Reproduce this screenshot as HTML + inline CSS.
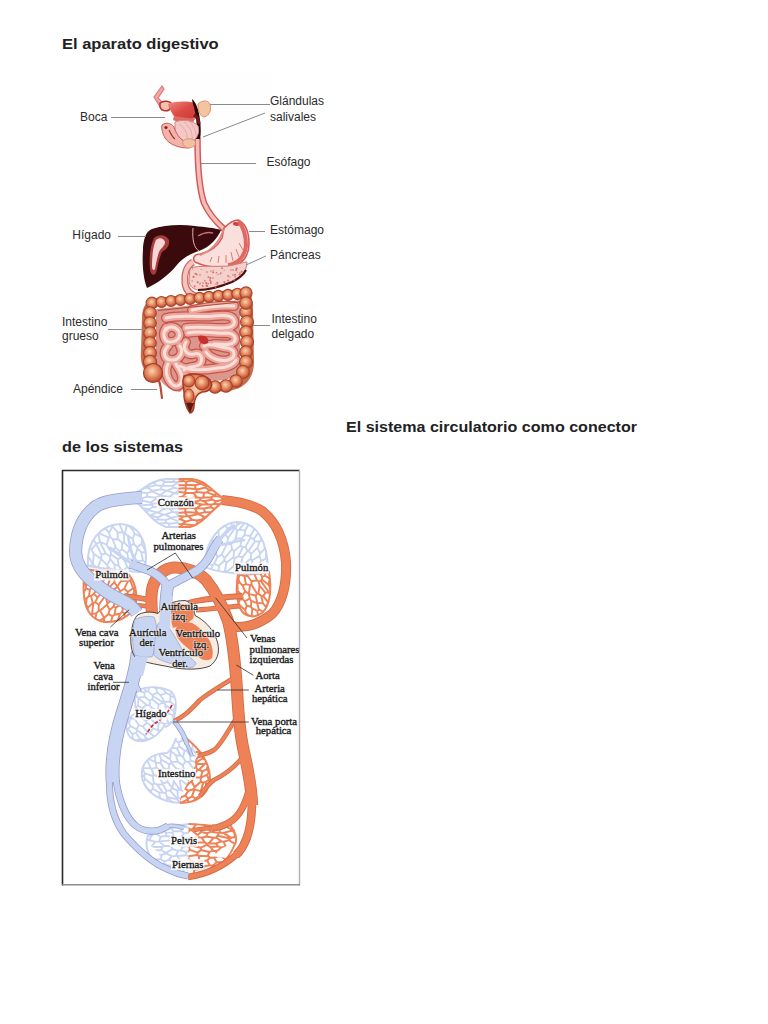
<!DOCTYPE html>
<html><head><meta charset="utf-8">
<style>
html,body{margin:0;padding:0;background:#fff;}
body{width:768px;height:1024px;position:relative;overflow:hidden;font-family:"Liberation Sans",sans-serif;}
.h{position:absolute;font-weight:bold;font-size:15.3px;color:#222;white-space:nowrap;transform-origin:0 0;line-height:17px;}
svg{position:absolute;left:0;top:0;}
.ls{font-family:"Liberation Sans",sans-serif;font-size:12px;fill:#2a2a2a;}
.lr{font-family:"Liberation Serif",serif;font-size:10.7px;fill:#1a1a1a;}
</style></head><body>
<div class="h" style="left:62px;top:35.2px;transform:scaleX(1.078)">El aparato digestivo</div>
<div class="h" style="left:346px;top:417.5px;transform:scaleX(1.05)">El sistema circulatorio como conector</div>
<div class="h" style="left:62px;top:437.6px;transform:scaleX(1.062)">de los sistemas</div>
<svg width="768" height="1024" viewBox="0 0 768 1024">
<g id="dig">
<rect x="110" y="73" width="163" height="348" fill="#fffefe"/>

<!-- esophagus -->
<path d="M197.5,139 C197.5,160 198,185 204,203 C209,214 216,222 224,229" fill="none" stroke="#d05a5a" stroke-width="6.5" stroke-linecap="round"/>
<path d="M197.5,139 C197.5,160 198,185 204,203 C209,214 216,222 224,229" fill="none" stroke="#f4bcb6" stroke-width="3.6"/>
<!-- mouth -->
<path d="M154,97 L162,86 L164,89 L158,98 L166,106 L162,110 Z" fill="#f0a8a8" stroke="#e07878" stroke-width="1.2"/>
<path d="M160,103 C164,100 170,101 172,104 L169,110 C165,112 161,110 160,107 Z" fill="#f2c0b0" stroke="#b83030" stroke-width="1.5"/>
<defs><linearGradient id="pal" x1="0" y1="0" x2="1" y2="1"><stop offset="0" stop-color="#f08a80"/><stop offset="0.5" stop-color="#dc4a44"/><stop offset="1" stop-color="#c83a38"/></linearGradient></defs><path d="M168,104 C176,101 186,101 195,103 L197,118 C190,120 180,119 174,116 C171,112 169,108 168,104 Z" fill="url(#pal)"/>
<path d="M174,116 C180,117 188,118 195,119 L192,124 C186,123 178,122 173,120 Z" fill="#e06a60"/>
<path d="M192,99 C196,102 199,110 200,120 C201,128 201,134 200,139 L196,139 C197,130 197,120 195,112 C194,106 192,102 192,99 Z" fill="#2a0606"/>
<path d="M198,104 C202,100 208,100 210,104 C212,110 209,116 204,117 C200,116 198,111 198,104 Z" fill="#f3c4a0" stroke="#d89070" stroke-width="1"/>
<path d="M175,122 C182,119 193,120 198,126 C200,133 197,140 190,142 C183,142 177,138 175,132 Z" fill="#f5c8c8" stroke="#d08888" stroke-width="1"/>
<g stroke="#e09a9a" stroke-width="0.7" fill="none"><path d="M179,124 C185,128 188,134 187,141"/><path d="M184,122 C190,127 193,133 192,140"/><path d="M189,121 C194,126 196,131 196,136"/></g>
<path d="M162,125 C166,122 171,123 174,127 C176,133 179,139 186,142 C191,144 193,147 188,148 C178,148 169,144 165,138 C163,134 161,129 162,125 Z" fill="#f2b4aa" stroke="#c85a50" stroke-width="1"/>
<circle cx="166" cy="127.5" r="1.6" fill="#8a2020"/><path d="M169,130 C171,134 172,137 175,139" stroke="#a83030" stroke-width="1.2" fill="none"/>
<path d="M183,141 C186,138 192,138 195,141 C197,145 193,148 188,148 C184,147 182,144 183,141 Z" fill="#f2c0a0" stroke="#d08a70" stroke-width="0.8"/>
<path d="M194,115 C197,117 199,120 199,124" stroke="#701818" stroke-width="3" fill="none"/>
<!-- liver -->
<path d="M152,229 C164,225 180,224 195,226 C205,227 215,228 221,230 C218,238 210,247 199,251 C190,254 182,258 176,266 C168,276 156,284 147,288 C143,278 142,262 143,250 C143,242 145,236 147,233 C148,231 150,230 152,229 Z" fill="#3a0a0c"/>
<path d="M193,228 C192,240 194,248 199,251" fill="none" stroke="#e8b0b0" stroke-width="1"/>
<path d="M150,270 C149,258 150,246 154,238 C158,234 166,234 169,240 C170,246 166,250 162,252 C159,258 158,266 156,273 C154,276 151,275 150,270 Z" fill="#a83a3a"/>
<path d="M152,266 C152,256 153,246 156,240 C159,237 164,238 165,242 C165,246 161,248 159,252 C157,258 156,264 155,269 C154,271 152,270 152,266 Z" fill="#f6d6d6"/>
<path d="M198,236 C203,233 209,232 213,233" fill="none" stroke="#c07070" stroke-width="1.3"/>
<!-- stomach -->
<path d="M224,228 C228,224 233,220 238,220 C245,223 249,232 249,244 C249,256 242,266 228,267 C215,268 203,266 195,262 C192,259 194,254 200,254 C210,252 218,246 222,238 C223,234 223,231 224,228 Z" fill="#f9e0dc" stroke="#d65858" stroke-width="1.6"/>
<path d="M238,221 C243,226 246,235 246,246 C245,256 238,264 228,265" fill="none" stroke="#e06a62" stroke-width="4"/>
<path d="M224,229 C220,240 214,250 200,255" fill="none" stroke="#e08a84" stroke-width="2"/>
<path d="M234,222 C238,222 240,224 238,226 C235,226 231,225 234,222 Z" fill="#d04040"/>
<g stroke="#e07a72" stroke-width="1"><path d="M210,262 L212,257"/><path d="M218,263 L219,256"/><path d="M226,263 L226,255"/><path d="M233,261 L231,252"/><path d="M239,257 L236,249"/><path d="M243,250 L239,243"/></g>
<!-- pancreas -->
<path d="M190,268 C200,265 215,267 228,266 C236,265 243,262 247,262 C247,272 240,278 232,282 C222,286 212,290 200,290 C193,290 189,286 189,280 Z" fill="#f3d0ca" stroke="#d07a76" stroke-width="1"/>
<path d="M198,290 C210,290 222,286 232,282 C240,278 244,274 246,270" fill="none" stroke="#4a1010" stroke-width="2.2"/>
<clipPath id="pancl"><path d="M190,268 C200,265 215,267 228,266 C236,265 243,262 247,262 C247,272 240,278 232,282 C222,286 212,290 200,290 C193,290 189,286 189,280 Z"/></clipPath><g fill="#d86a6a" clip-path="url(#pancl)"><circle cx="224.4" cy="282.1" r="1.0"/><circle cx="241.0" cy="282.1" r="1.1"/><circle cx="193.5" cy="276.8" r="1.1"/><circle cx="225.7" cy="285.1" r="0.6"/><circle cx="216.4" cy="272.7" r="0.8"/><circle cx="221.8" cy="268.2" r="0.6"/><circle cx="206.5" cy="285.4" r="1.0"/><circle cx="200.3" cy="283.1" r="0.6"/><circle cx="224.1" cy="270.4" r="0.5"/><circle cx="237.3" cy="272.0" r="0.6"/><circle cx="243.1" cy="284.6" r="0.7"/><circle cx="242.0" cy="278.2" r="0.9"/><circle cx="202.6" cy="285.9" r="0.9"/><circle cx="242.3" cy="285.0" r="0.7"/><circle cx="210.8" cy="271.2" r="0.6"/><circle cx="195.4" cy="273.7" r="0.9"/><circle cx="192.2" cy="280.9" r="0.7"/><circle cx="208.1" cy="283.6" r="0.8"/><circle cx="208.4" cy="277.1" r="0.9"/><circle cx="195.0" cy="286.5" r="0.5"/><circle cx="231.0" cy="284.1" r="0.5"/><circle cx="233.0" cy="275.0" r="0.8"/><circle cx="192.5" cy="268.9" r="0.6"/><circle cx="241.7" cy="271.7" r="1.0"/><circle cx="240.3" cy="285.9" r="0.7"/><circle cx="210.4" cy="278.0" r="1.0"/><circle cx="197.6" cy="282.2" r="1.0"/><circle cx="236.7" cy="268.7" r="1.1"/><circle cx="196.7" cy="274.5" r="0.9"/><circle cx="239.7" cy="274.5" r="1.1"/><circle cx="220.3" cy="273.9" r="0.7"/><circle cx="201.2" cy="269.5" r="0.6"/><circle cx="227.8" cy="286.9" r="0.6"/><circle cx="194.5" cy="286.7" r="0.8"/><circle cx="213.1" cy="272.5" r="0.9"/><circle cx="235.0" cy="276.7" r="0.8"/><circle cx="194.9" cy="285.4" r="0.5"/><circle cx="217.7" cy="283.9" r="0.6"/><circle cx="230.0" cy="286.0" r="0.9"/><circle cx="233.0" cy="270.0" r="0.8"/><circle cx="199.8" cy="284.0" r="0.7"/><circle cx="215.6" cy="287.0" r="1.0"/><circle cx="242.8" cy="276.6" r="0.8"/><circle cx="229.9" cy="277.1" r="0.7"/><circle cx="213.0" cy="270.8" r="0.7"/><circle cx="243.4" cy="286.2" r="0.9"/><circle cx="218.0" cy="274.4" r="0.6"/><circle cx="206.2" cy="282.9" r="1.0"/><circle cx="210.8" cy="282.9" r="1.0"/><circle cx="228.1" cy="280.6" r="1.0"/><circle cx="210.9" cy="281.4" r="0.7"/><circle cx="217.3" cy="282.6" r="0.9"/><circle cx="207.3" cy="286.0" r="0.9"/><circle cx="222.2" cy="268.2" r="0.8"/><circle cx="205.0" cy="280.8" r="0.8"/><circle cx="234.5" cy="280.3" r="1.0"/><circle cx="210.1" cy="280.2" r="0.9"/><circle cx="235.1" cy="274.7" r="1.0"/><circle cx="237.2" cy="281.1" r="1.1"/><circle cx="241.7" cy="277.8" r="0.8"/><circle cx="200" cy="275" r="0.8"/><circle cx="207" cy="272" r="0.8"/><circle cx="213" cy="278" r="0.8"/><circle cx="221" cy="273" r="0.8"/><circle cx="228" cy="276" r="0.9"/><circle cx="236" cy="270" r="0.9"/><circle cx="203" cy="283" r="0.8"/><circle cx="216" cy="284" r="0.8"/><circle cx="240" cy="273" r="0.8"/><circle cx="231" cy="270" r="0.7"/></g>
<!-- duodenum -->
<path d="M193,262 C186,266 184,275 185,283 C186,292 193,297 204,298 C212,298 216,296 218,292" fill="none" stroke="#c86060" stroke-width="7"/>
<path d="M193,262 C186,266 184,275 185,283 C186,292 193,297 204,298 C212,298 216,296 218,292" fill="none" stroke="#f4c4bc" stroke-width="4.5"/>
<!-- small intestine -->
<path d="M156,309 L240,300 L240,374 C226,382 212,382 200,378 C190,376 186,388 180,392 C166,390 158,380 156,370 Z" fill="#dc968c"/>
<g fill="none" stroke-linecap="round" stroke-linejoin="round">
<g stroke="#c4564c" stroke-width="10"><path d="M192,310 C206,307 220,305 234,306"/><path d="M166,318 C180,314 200,318 214,316 C224,315 232,315 234,320 C236,326 230,328 222,328 C208,328 196,326 186,328"/><path d="M188,333 C200,330 214,334 226,333 C234,333 237,338 234,342 C230,346 222,344 214,344"/><path d="M166,328 C162,334 164,342 170,342 C178,342 182,336 178,330 C174,326 168,326 166,330"/><path d="M168,346 C162,352 164,360 172,360 C180,360 184,352 180,346"/><path d="M186,342 C182,348 186,356 194,354 C200,352 204,358 200,364 C196,368 188,366 184,370"/><path d="M204,346 C210,342 220,348 228,348 C236,350 236,358 228,360 C220,362 210,358 206,352"/><path d="M180,366 C190,372 206,370 218,368 C228,368 234,364 236,360"/><path d="M168,364 C164,372 168,380 172,384 C176,388 182,386 182,378 C182,372 178,368 176,364"/><path d="M186,376 C184,382 188,388 192,384"/></g>
<g stroke="#eca69c" stroke-width="7.4"><path d="M192,310 C206,307 220,305 234,306"/><path d="M166,318 C180,314 200,318 214,316 C224,315 232,315 234,320 C236,326 230,328 222,328 C208,328 196,326 186,328"/><path d="M188,333 C200,330 214,334 226,333 C234,333 237,338 234,342 C230,346 222,344 214,344"/><path d="M166,328 C162,334 164,342 170,342 C178,342 182,336 178,330 C174,326 168,326 166,330"/><path d="M168,346 C162,352 164,360 172,360 C180,360 184,352 180,346"/><path d="M186,342 C182,348 186,356 194,354 C200,352 204,358 200,364 C196,368 188,366 184,370"/><path d="M204,346 C210,342 220,348 228,348 C236,350 236,358 228,360 C220,362 210,358 206,352"/><path d="M180,366 C190,372 206,370 218,368 C228,368 234,364 236,360"/><path d="M168,364 C164,372 168,380 172,384 C176,388 182,386 182,378 C182,372 178,368 176,364"/><path d="M186,376 C184,382 188,388 192,384"/></g>
<g stroke="#fbe2dc" stroke-width="3" opacity="0.95"><path d="M192,310 C206,307 220,305 234,306"/><path d="M166,318 C180,314 200,318 214,316 C224,315 232,315 234,320 C236,326 230,328 222,328 C208,328 196,326 186,328"/><path d="M188,333 C200,330 214,334 226,333 C234,333 237,338 234,342 C230,346 222,344 214,344"/><path d="M166,328 C162,334 164,342 170,342 C178,342 182,336 178,330 C174,326 168,326 166,330"/><path d="M168,346 C162,352 164,360 172,360 C180,360 184,352 180,346"/><path d="M186,342 C182,348 186,356 194,354 C200,352 204,358 200,364 C196,368 188,366 184,370"/><path d="M204,346 C210,342 220,348 228,348 C236,350 236,358 228,360 C220,362 210,358 206,352"/><path d="M180,366 C190,372 206,370 218,368 C228,368 234,364 236,360"/><path d="M168,364 C164,372 168,380 172,384 C176,388 182,386 182,378 C182,372 178,368 176,364"/><path d="M186,376 C184,382 188,388 192,384"/></g>
</g>
<path d="M198,336 C204,334 210,338 208,343 C204,346 198,343 198,336 Z" fill="#c83030"/>
<!-- large intestine -->
<defs><radialGradient id="bead" cx="45%" cy="40%" r="62%"><stop offset="0" stop-color="#f8d4b4"/><stop offset="0.45" stop-color="#e89064"/><stop offset="1" stop-color="#b44430"/></radialGradient></defs>
<path d="M152,372 C146,368 144,360 145,350 L146,318 C146,307 150,303 158,302 L240,293 C247,293 249,298 249,310 L250,362 C250,373 245,381 236,385 C225,389 214,388 204,384" fill="none" stroke="#c86a4c" stroke-width="8" stroke-linejoin="round"/>
<g fill="url(#bead)" stroke="#a8442c" stroke-width="1.1">
<circle cx="152.0" cy="303.0" r="5.9"/><circle cx="161.5" cy="302.0" r="5.5"/><circle cx="171.0" cy="301.0" r="5.5"/><circle cx="180.5" cy="300.0" r="5.5"/><circle cx="190.0" cy="299.0" r="5.5"/><circle cx="199.5" cy="297.9" r="5.5"/><circle cx="209.0" cy="296.9" r="5.5"/><circle cx="218.5" cy="295.9" r="5.5"/><circle cx="228.0" cy="294.9" r="5.5"/><circle cx="237.5" cy="293.9" r="5.7"/><circle cx="246.0" cy="293.0" r="6.1"/><circle cx="150.0" cy="313.0" r="6.3"/><circle cx="150.0" cy="323.0" r="6.3"/><circle cx="150.0" cy="333.0" r="6.3"/><circle cx="150.0" cy="343.0" r="6.3"/><circle cx="150.0" cy="353.0" r="6.5"/><circle cx="150.0" cy="362.0" r="6.7"/><circle cx="246.0" cy="312.0" r="6.3"/><circle cx="247.0" cy="322.0" r="6.5"/><circle cx="246.0" cy="332.0" r="6.3"/><circle cx="247.0" cy="342.0" r="6.5"/><circle cx="246.0" cy="352.0" r="6.3"/><circle cx="246.0" cy="362.0" r="6.5"/><circle cx="243.0" cy="372.0" r="6.5"/><circle cx="236.0" cy="381.0" r="6.3"/><circle cx="226.0" cy="386.0" r="6.3"/><circle cx="215.0" cy="387.0" r="6.3"/>
<circle cx="246" cy="303" r="6.3"/></g>
<path d="M158,310.5 L240,302" stroke="#b04a30" stroke-width="1.2" fill="none"/>
<circle cx="153" cy="373" r="9.5" fill="url(#bead)" stroke="#a83a24" stroke-width="1.2"/>
<path d="M159,381 C161,386 161,392 162,398" fill="none" stroke="#b84a38" stroke-width="2.2" stroke-linecap="round"/>
<!-- rectum -->
<path d="M184,376 C192,372 204,374 210,380 C214,386 210,392 202,392 C196,394 194,400 194,406 C194,410 192,413 190,413 C186,408 184,400 184,392 C183,386 182,380 184,376 Z" fill="url(#bead)" stroke="#a83a24" stroke-width="1.5"/>
<circle cx="202" cy="383" r="7" fill="url(#bead)" stroke="#a83a24" stroke-width="1"/>
<circle cx="189" cy="381" r="6" fill="url(#bead)" stroke="#a83a24" stroke-width="1"/>
<ellipse cx="189" cy="396" rx="5" ry="7" fill="url(#bead)" stroke="#a83a24" stroke-width="1"/>
<path d="M186,403 L190,413 L194,403 Z" fill="#5a1a10"/>
<g stroke="#8a8a8a" stroke-width="1" fill="none">
<line x1="111" y1="117.5" x2="165" y2="117.5"/>
<line x1="210" y1="104.5" x2="270" y2="104.5"/>
<line x1="203" y1="137" x2="265" y2="113"/>
<line x1="201" y1="163.5" x2="256" y2="163.5"/>
<line x1="118" y1="236.5" x2="146" y2="236.5"/>
<line x1="249" y1="231.5" x2="265" y2="231.5"/>
<line x1="246" y1="265" x2="266" y2="256"/>
<line x1="108" y1="329.5" x2="146" y2="329.5"/>
<line x1="253" y1="325.5" x2="270" y2="325.5"/>
<line x1="131" y1="389.5" x2="157" y2="389.5"/>
</g>
<g class="ls">
<text x="80" y="120.5">Boca</text>
<text x="270" y="105">Glándulas</text>
<text x="270" y="120.5">salivales</text>
<text x="266.5" y="166">Esófago</text>
<text x="72.3" y="239.2">Hígado</text>
<text x="270" y="233.7">Estómago</text>
<text x="270" y="258.9">Páncreas</text>
<text x="62" y="325.7">Intestino</text>
<text x="62" y="340.3">grueso</text>
<text x="271.5" y="323">Intestino</text>
<text x="271.5" y="337.6">delgado</text>
<text x="73" y="393.4">Apéndice</text>
</g>
</g>

<g id="circ">
<rect x="62.5" y="470.5" width="237" height="414" fill="#fff"/>
<clipPath id="c1"><path d="M86,569 C96,572 110,571 122,570 C132,574 138,588 136,604 C132,616 118,623 104,622 C92,620 85,610 84,596 C83,584 84,575 86,569 Z"/></clipPath>
<g clip-path="url(#c1)" stroke="#ee8156"><path d="M136.3 623.6L135.3 623.6M136.3 623.6L136.0 632.3M135.3 623.6L131.3 627.4M128.5 633.7L131.3 627.4M162.0 628.8L140.6 620.6M140.6 620.6L136.3 623.6M140.6 620.6L141.6 615.1M135.3 623.6L133.3 616.9M133.3 616.9L137.9 613.1M137.9 613.1L141.6 615.1M154.9 616.1L144.2 611.3M141.6 615.1L144.2 611.3M127.4 624.8L131.3 627.4M127.4 624.8L122.9 627.6M122.9 627.6L121.6 633.9M95.2 602.3L97.5 597.3M95.2 602.3L93.4 603.2M93.4 603.2L92.8 603.3M91.0 595.9L92.8 603.3M91.0 595.9L93.7 593.9M93.7 593.9L97.5 597.3M93.7 584.8L95.7 584.7M93.7 584.8L89.8 589.9M91.0 595.9L89.0 596.0M93.7 593.9L96.3 590.3M95.7 584.7L96.3 590.3M89.8 589.9L89.0 596.0M85.9 604.6L88.1 607.4M85.9 604.6L86.7 598.2M92.8 603.3L88.1 607.4M86.7 598.2L89.0 596.0M102.8 569.0L99.2 572.6M102.8 569.0L107.6 570.4M99.2 572.6L100.6 580.0M107.6 570.4L106.6 577.4M100.6 580.0L103.5 580.3M106.6 577.4L103.5 580.3M120.3 591.2L117.9 596.9M120.3 591.2L117.4 586.5M111.2 592.4L117.4 586.5M111.2 592.4L113.3 598.9M117.9 596.9L115.7 598.7M117.4 586.5L117.4 586.5M113.3 598.9L115.7 598.7M121.8 600.9L117.9 596.9M121.8 600.9L126.4 596.5M124.3 588.7L120.3 591.2M124.3 588.7L127.9 591.9M126.4 596.5L127.9 591.9M121.1 604.5L115.7 607.6M121.1 604.5L121.8 600.9M115.7 607.6L113.5 606.5M113.5 606.5L115.7 598.7M113.5 606.5L109.7 610.0M109.7 610.0L106.9 604.6M107.4 603.6L106.9 604.6M107.4 603.6L113.3 598.9M109.7 610.0L108.2 614.2M100.0 610.8L106.9 604.6M100.0 610.8L104.2 617.7M104.2 617.7L104.3 617.7M108.2 614.2L104.3 617.7M125.1 618.6L124.3 613.3M125.1 618.6L131.6 616.9M124.3 613.3L129.8 610.6M129.8 610.6L132.2 613.5M132.2 613.5L132.0 616.5M131.6 616.9L132.0 616.5M127.4 624.8L131.6 616.9M121.8 625.4L122.9 627.6M121.8 625.4L125.1 618.6M133.3 616.9L132.0 616.5M136.2 607.1L132.2 613.5M136.2 607.1L139.1 609.7M139.1 609.7L137.9 613.1M124.3 588.7L128.2 580.8M128.2 580.8L130.3 580.5M127.9 591.9L133.1 588.2M130.3 580.5L133.1 588.2M128.2 580.8L128.1 580.6M117.4 586.5L120.8 581.3M128.1 580.6L120.8 581.3M120.8 573.1L114.7 578.3M120.8 573.1L122.1 574.2M114.3 582.4L114.7 578.3M114.3 582.4L117.4 586.5M122.1 574.2L120.8 581.3M110.0 577.7L111.4 576.9M110.0 577.7L106.6 577.4M111.4 576.9L114.7 569.6M107.6 570.4L111.9 565.4M114.7 569.6L111.9 565.4M132.9 602.6L129.1 602.8M132.9 602.6L135.3 601.0M135.3 601.0L135.9 595.9M129.1 602.8L128.8 598.6M128.8 598.6L134.0 592.9M134.0 592.9L135.9 595.9M122.8 609.1L122.1 611.8M122.8 609.1L129.1 602.8M122.1 611.8L124.3 613.3M129.8 610.6L132.9 602.6M136.2 607.1L137.0 601.6M137.0 601.6L135.3 601.0M121.1 604.5L122.8 609.1M126.4 596.5L128.8 598.6M133.1 588.2L134.1 588.0M134.1 588.0L134.0 592.9M97.4 630.4L104.0 620.2M106.1 624.5L104.0 620.2M106.1 624.5L102.3 632.6M98.0 557.7L94.1 561.2M94.1 561.2L91.3 558.8M102.8 569.0L103.8 566.0M99.2 572.6L97.5 572.8M97.5 572.8L97.4 566.2M97.4 566.2L102.2 559.2M102.2 559.2L103.8 566.0M97.4 566.2L92.9 565.6M92.9 565.6L94.1 561.2M111.9 565.4L112.5 563.4M112.5 563.4L108.0 562.2M103.8 566.0L108.0 562.2M95.2 602.3L98.8 604.8M93.4 603.2L92.0 614.1M98.8 604.8L98.7 610.9M98.7 610.9L96.5 613.1M92.0 614.1L96.5 613.1M77.9 601.8L77.2 602.0M77.9 601.8L79.0 610.1M77.2 602.0L72.6 610.1M79.0 610.1L78.1 613.4M78.1 613.4L73.5 616.5M85.9 604.6L79.0 610.1M80.6 599.0L86.7 598.2M80.6 599.0L77.9 601.8M101.4 593.1L101.8 589.1M101.4 593.1L104.8 596.4M102.0 588.8L101.8 589.1M102.0 588.8L107.9 586.1M107.9 586.1L109.3 587.3M109.3 587.3L108.8 592.9M108.8 592.9L105.7 596.2M105.7 596.2L104.8 596.4M97.5 597.3L101.4 593.1M96.3 590.3L101.8 589.1M98.8 604.8L104.8 596.4M95.7 584.7L100.6 580.0M103.5 580.3L102.0 588.8M110.0 577.7L107.9 586.1M111.4 576.9L114.7 578.3M114.3 582.4L109.3 587.3M111.2 592.4L108.8 592.9M107.4 603.6L105.7 596.2M98.7 610.9L100.0 610.8M74.8 601.3L77.2 602.0M80.6 599.0L81.4 595.9M89.8 589.9L86.1 588.5M86.1 588.5L81.4 595.9M74.7 597.1L79.6 589.4M79.6 589.4L79.9 587.1M79.9 587.1L75.2 586.5M81.4 595.9L79.6 589.4M91.3 574.9L94.0 575.6M91.3 574.9L84.5 582.5M94.0 575.6L92.7 581.1M92.7 581.1L85.9 585.4M85.9 585.4L84.1 583.6M84.5 582.5L84.1 583.6M97.5 572.8L94.0 575.6M92.9 565.6L89.7 569.8M89.7 569.8L91.3 574.9M85.9 570.5L89.7 569.8M85.9 570.5L83.3 576.8M83.3 576.8L84.5 582.5M93.7 584.8L92.7 581.1M86.1 588.5L85.9 585.4M79.9 587.1L84.1 583.6M83.3 576.8L77.5 580.1M77.5 580.1L75.2 586.5M77.5 580.1L76.8 576.5M79.7 562.6L80.5 556.4M79.7 562.6L75.3 566.4M89.8 559.4L85.2 569.5M87.7 558.0L81.6 565.8M85.2 569.5L81.6 568.8M81.6 568.8L81.6 565.8M85.9 570.5L85.2 569.5M76.8 573.9L81.6 568.8M79.7 562.6L81.6 565.8M121.8 625.4L118.3 625.4M118.3 625.4L113.8 631.6M137.1 571.6L139.5 569.7M137.1 571.6L134.5 577.2M134.5 577.2L138.5 581.7M141.6 570.4L142.0 577.7M141.6 570.4L139.5 569.7M142.0 577.7L138.5 581.7M130.3 580.5L134.5 577.2M137.2 584.9L134.1 588.0M137.2 584.9L138.5 581.7M147.6 565.9L141.6 570.4M144.7 577.3L150.0 570.6M144.7 577.3L142.0 577.7M141.0 561.8L139.2 560.9M141.0 561.8L139.5 569.7M139.2 560.9L135.0 564.4M137.1 571.6L135.0 570.8M135.0 570.8L135.0 564.4M128.1 580.6L128.7 572.9M135.0 570.8L128.7 572.9M122.1 574.2L128.3 572.0M128.3 572.0L128.7 572.9M141.0 561.8L144.8 558.9M148.1 564.2L144.8 558.9M108.0 562.2L108.5 557.3M81.6 617.1L85.7 614.6M81.6 617.1L79.7 621.8M79.7 621.8L82.8 625.3M82.8 625.3L87.8 622.0M85.7 614.6L88.9 616.0M88.9 616.0L87.8 622.0M88.1 607.4L85.7 614.6M78.1 613.4L81.6 617.1M76.4 626.0L79.7 621.8M92.0 614.1L88.9 616.0M85.1 630.3L82.2 629.1M82.2 629.1L79.0 631.5M75.7 628.2L79.0 631.5M82.8 625.3L82.2 629.1M87.6 628.4L90.0 629.5M87.6 628.4L88.3 623.8M88.3 623.8L95.0 620.0M90.0 629.5L94.4 626.6M94.4 626.6L95.5 623.3M95.5 623.3L95.0 620.0M88.7 635.8L90.0 629.5M85.1 630.3L87.6 628.4M87.8 622.0L88.3 623.8M96.5 613.1L95.0 620.0M97.4 630.4L94.4 626.6M104.2 617.7L95.5 623.3M104.0 620.2L104.3 617.7M110.7 622.9L112.5 616.2M110.7 622.9L111.5 624.1M111.5 624.1L117.1 622.1M114.5 614.7L120.2 613.7M114.5 614.7L112.5 616.2M120.2 613.7L117.1 622.1M106.1 624.5L110.7 622.9M108.2 614.2L112.5 616.2M109.6 630.6L111.5 624.1M118.3 625.4L117.1 622.1M115.7 607.6L114.5 614.7M122.1 611.8L120.2 613.7M143.3 601.5L147.5 597.6M143.3 601.5L142.9 606.1M142.9 606.1L145.0 608.4M145.0 608.4L151.1 603.7M139.1 609.7L142.9 606.1M137.0 601.6L139.2 600.6M139.2 600.6L143.3 601.5M144.2 611.3L145.0 608.4M135.9 595.9L140.7 590.3M139.2 600.6L142.9 593.3M142.9 593.3L140.7 590.3M137.2 584.9L141.3 587.8M141.3 587.8L140.7 590.3M114.7 569.6L119.7 567.0M112.5 563.4L115.9 558.4M115.9 558.4L119.4 562.4M119.4 562.4L119.7 567.0M120.8 573.1L121.2 567.8M121.2 567.8L119.7 567.0M142.9 593.3L146.8 591.0M141.3 587.8L146.3 583.7M144.7 577.3L146.8 582.7M125.3 563.4L126.5 560.5M125.3 563.4L130.2 566.8M132.7 560.0L131.7 565.0M130.2 566.8L131.7 565.0M125.0 556.4L119.4 562.4M121.2 567.8L125.3 563.4M128.3 572.0L130.2 566.8M135.0 564.4L131.7 565.0" fill="none" stroke-width="1.9" stroke-linecap="round"/></g>
<path d="M86,569 C96,572 110,571 122,570 C132,574 138,588 136,604 C132,616 118,623 104,622 C92,620 85,610 84,596 C83,584 84,575 86,569 Z" fill="none" stroke="#ee8156" stroke-width="2.0"/>
<clipPath id="c2"><path d="M88,566 C86,542 100,525 120,524 C138,524 146,540 146,558 C146,566 144,570 140,572 C128,571 112,570 88,566 Z"/></clipPath>
<g clip-path="url(#c2)" stroke="#c8d5f2"><path d="M92.2 584.8L89.8 577.0M89.8 577.0L83.5 574.6M74.0 587.4L83.5 574.6M96.8 578.3L90.6 574.2M96.8 578.3L98.2 571.8M90.6 574.2L88.1 566.4M88.1 566.4L92.9 564.4M98.2 571.8L97.7 568.5M92.9 564.4L93.0 564.5M93.0 564.5L97.4 568.2M97.7 568.5L97.4 568.2M84.0 563.6L88.1 566.4M84.0 563.6L81.9 564.7M81.9 564.7L83.5 574.6M89.8 577.0L90.6 574.2M106.0 573.0L108.5 578.2M106.0 573.0L97.7 568.5M98.2 571.8L104.5 581.7M108.5 578.2L104.5 581.7M106.0 573.0L107.7 566.5M107.7 566.5L107.1 565.1M97.4 568.2L101.3 559.2M107.1 565.1L101.3 559.2M119.3 551.2L121.4 557.6M119.3 551.2L122.0 549.3M127.1 553.2L122.0 549.3M127.1 553.2L128.3 558.0M128.3 558.0L124.9 561.1M121.4 557.6L124.9 561.1M127.1 553.2L129.5 549.7M128.3 558.0L134.1 561.4M134.1 561.4L136.0 559.8M136.0 559.8L134.8 556.8M134.8 556.8L129.5 549.7M81.9 564.7L77.9 563.4M96.8 578.3L101.0 587.2M117.4 532.2L117.8 539.1M117.4 532.2L123.0 532.6M123.0 532.6L123.8 533.4M123.8 533.4L124.2 542.7M117.8 539.1L122.2 542.8M122.2 542.8L124.2 542.7M111.8 523.1L112.6 526.5M111.8 523.1L112.8 521.8M112.8 521.8L119.1 523.1M112.6 526.5L117.4 532.2M119.1 523.1L123.0 532.6M122.0 549.3L122.2 542.8M129.5 549.7L128.9 547.1M128.9 547.1L124.2 542.7M111.8 523.1L103.2 517.1M103.2 517.1L102.5 511.9M112.8 521.8L110.2 511.0M119.1 523.1L120.5 519.9M120.5 519.9L120.2 518.7M112.8 510.7L120.2 518.7M120.5 519.9L126.9 525.3M123.8 533.4L124.8 533.6M126.9 525.3L124.8 533.6M84.0 563.6L80.8 554.1M92.9 564.4L86.3 553.1M86.3 553.1L80.9 552.8M80.8 554.1L80.9 552.8M80.8 554.1L74.9 553.5M93.4 517.1L94.6 512.7M93.4 517.1L89.6 514.0M91.5 524.2L85.8 518.0M91.5 524.2L94.6 521.5M94.6 521.5L93.4 517.1M85.8 518.0L84.8 513.4M103.2 517.1L102.2 518.1M102.2 518.1L94.6 512.7M107.7 566.5L114.1 571.9M108.5 578.2L112.3 581.6M115.7 581.1L114.1 571.9M114.1 571.9L114.3 571.8M107.1 565.1L110.3 559.1M110.3 559.1L114.7 564.6M114.7 564.6L114.3 571.8M93.0 564.5L93.8 553.8M101.3 559.2L101.2 559.1M93.8 553.8L101.2 559.1M128.6 568.0L127.3 566.9M128.6 568.0L133.8 577.7M127.3 566.9L122.4 571.4M133.8 577.7L128.7 578.2M128.7 578.2L122.7 574.5M122.4 571.4L122.6 574.1M122.7 574.5L122.6 574.1M124.9 561.1L127.3 566.9M134.3 566.9L134.1 561.4M134.3 566.9L128.6 568.0M117.8 559.1L118.7 565.9M117.8 559.1L121.4 557.6M118.7 565.9L122.4 571.4M130.7 585.8L128.7 578.2M134.4 578.2L136.4 585.7M134.4 578.2L133.8 577.7M123.7 583.2L122.7 574.5M114.7 564.6L118.7 565.9M114.3 571.8L122.6 574.1M146.5 582.6L144.6 573.1M146.0 583.3L137.9 577.4M144.6 573.1L142.0 570.6M142.0 570.6L137.4 571.0M137.9 577.4L137.4 571.0M147.5 571.2L155.4 577.7M147.5 571.2L144.6 573.1M134.4 578.2L137.9 577.4M134.3 566.9L137.4 571.0M136.0 559.8L138.1 561.2M138.1 561.2L142.0 570.6M143.0 560.4L141.3 552.4M143.0 560.4L146.3 563.7M146.3 563.7L150.7 563.4M141.3 552.4L146.1 552.0M150.7 563.4L150.7 561.0M150.7 561.0L146.4 552.1M146.1 552.0L146.4 552.1M138.1 561.2L143.0 560.4M134.8 556.8L137.6 548.4M137.6 548.4L141.3 552.4M147.5 571.2L146.3 563.7M157.3 571.6L150.7 563.4M149.5 549.2L146.4 552.1M149.5 549.2L155.4 554.4M156.4 557.4L150.7 561.0M121.7 514.9L128.0 516.3M128.0 516.3L129.7 514.6M120.2 518.7L121.7 514.9M128.7 525.8L126.9 525.3M128.7 525.8L128.0 516.3M135.6 520.4L133.0 530.4M135.6 520.4L129.7 514.6M133.0 530.4L128.7 525.8M140.1 518.6L138.1 512.2M140.1 518.6L136.8 520.8M136.8 520.8L135.6 520.4M142.1 519.6L145.0 520.2M142.1 519.6L145.8 531.1M145.0 520.2L150.9 529.2M150.9 529.2L147.8 533.3M145.8 531.1L147.8 533.3M140.1 518.6L142.1 519.6M136.8 520.8L140.2 527.6M140.2 527.6L145.8 531.1M155.5 543.0L148.7 539.0M152.1 529.5L150.9 529.2M152.1 529.5L156.9 534.5M148.7 539.0L147.8 533.3M132.6 538.8L134.6 533.9M132.6 538.8L133.9 543.6M137.0 547.3L133.9 543.6M137.0 547.3L141.7 543.8M134.6 533.9L139.8 536.1M141.7 543.8L141.9 538.2M141.9 538.2L139.8 536.1M133.0 530.4L134.6 533.9M124.8 533.6L132.6 538.8M128.9 547.1L133.9 543.6M137.6 548.4L137.0 547.3M146.1 552.0L141.7 543.8M140.2 527.6L139.8 536.1M146.9 540.7L141.9 538.2M146.9 540.7L149.5 549.2M146.9 540.7L148.7 539.0M78.3 547.0L81.1 544.3M81.1 544.3L77.3 535.2M80.9 552.8L78.3 547.0M85.8 518.0L82.0 520.7M82.0 520.7L76.7 515.5M119.3 551.2L115.8 547.6M117.8 539.1L112.7 539.3M115.8 547.6L112.7 539.3M109.1 532.9L110.2 536.8M109.1 532.9L102.0 524.3M100.0 533.6L108.8 537.6M100.0 533.6L100.7 524.7M110.2 536.8L108.8 537.6M100.7 524.7L102.0 524.3M112.6 526.5L109.1 532.9M112.7 539.3L110.2 536.8M102.2 518.1L102.0 524.3M94.6 521.5L100.7 524.7M91.5 524.2L92.4 527.9M100.0 533.6L98.6 534.6M92.4 527.9L98.6 534.6M145.0 520.2L147.0 516.1M147.0 516.1L140.7 505.8M153.7 523.0L149.6 516.5M149.6 516.5L150.6 514.6M152.1 529.5L153.7 523.0M147.0 516.1L149.6 516.5M93.8 553.8L91.3 549.3M101.2 559.1L101.4 554.6M101.4 554.6L96.3 544.2M91.3 549.3L96.3 544.2M86.3 553.1L88.4 547.5M91.3 549.3L88.4 547.5M81.1 544.3L86.8 545.2M88.4 547.5L86.8 545.2M105.7 553.5L99.9 542.0M105.7 553.5L109.9 556.2M111.1 554.5L109.9 556.2M111.1 554.5L110.5 550.9M110.5 550.9L106.6 544.7M106.6 544.7L99.9 541.9M99.9 541.9L99.9 542.0M101.4 554.6L105.7 553.5M96.3 544.2L96.3 543.7M96.3 543.7L99.9 542.0M110.3 559.1L109.9 556.2M117.8 559.1L111.1 554.5M115.8 547.6L110.5 550.9M108.8 537.6L106.6 544.7M98.6 534.6L99.9 541.9M82.3 534.4L82.0 529.8M82.3 534.4L84.6 538.1M84.6 538.1L92.5 539.1M83.2 528.5L82.0 529.8M83.2 528.5L89.3 531.0M89.3 531.0L92.5 539.1M77.3 535.2L82.3 534.4M75.4 523.8L82.0 529.8M86.8 545.2L84.6 538.1M96.3 543.7L92.5 539.1M82.0 520.7L83.2 528.5M92.4 527.9L89.3 531.0" fill="none" stroke-width="1.9" stroke-linecap="round"/></g>
<path d="M88,566 C86,542 100,525 120,524 C138,524 146,540 146,558 C146,566 144,570 140,572 C128,571 112,570 88,566 Z" fill="none" stroke="#c8d5f2" stroke-width="2.0"/>
<clipPath id="c3"><path d="M238,574 C248,575 258,574 269,572 C272,590 270,606 262,613 C254,619 244,617 240,608 C236,598 236,586 238,574 Z"/></clipPath>
<g clip-path="url(#c3)" stroke="#ee8156"><path d="M268.0 602.2L266.6 607.5M268.0 602.2L263.3 596.1M263.3 596.1L261.2 595.8M261.2 595.8L262.9 603.3M262.9 603.3L266.6 607.5M258.4 593.7L261.2 595.8M258.4 593.7L259.6 585.5M265.4 592.8L259.6 585.5M265.4 592.8L263.3 596.1M257.3 602.9L262.9 603.3M257.3 602.9L255.7 595.7M255.7 595.7L256.9 593.5M256.9 593.5L258.4 593.7M264.4 568.9L265.3 575.7M264.4 568.9L270.4 570.6M270.4 570.6L270.9 578.8M265.3 575.7L269.7 578.7M270.9 578.8L269.7 578.7M262.5 563.3L263.7 568.0M258.6 568.1L263.7 568.0M258.6 568.1L256.9 558.7M265.8 561.4L271.1 565.7M271.1 565.7L272.2 568.7M264.4 568.9L263.7 568.0M270.4 570.6L272.2 568.7M260.7 580.9L258.5 581.3M260.7 580.9L261.9 579.4M257.0 580.4L253.6 572.0M257.0 580.4L258.5 581.3M253.6 572.0L255.6 568.5M261.9 579.4L262.3 576.9M262.3 576.9L257.8 569.3M257.8 569.3L255.6 568.5M256.9 593.5L251.5 584.7M259.6 585.5L258.5 581.3M251.5 584.7L251.5 581.2M251.5 581.2L257.0 580.4M265.3 575.7L262.3 576.9M268.6 584.7L269.7 578.7M268.6 584.7L261.9 579.4M258.6 568.1L257.8 569.3M250.6 560.4L255.6 568.5M275.9 625.4L278.8 619.3M275.9 625.4L271.2 618.6M278.8 619.3L271.5 613.8M271.2 618.6L271.5 613.8M267.2 609.6L271.0 612.9M267.2 609.6L266.6 607.5M271.0 612.9L274.3 607.7M268.0 602.2L270.6 602.2M274.3 607.7L270.6 602.2M271.0 612.9L271.5 613.8M274.3 607.7L277.8 609.1M280.3 580.6L276.9 578.3M276.9 578.3L273.5 581.2M279.2 586.4L274.3 582.9M274.3 582.9L273.5 581.2M281.0 571.5L274.0 570.2M274.0 570.2L276.9 578.3M274.0 570.2L272.2 568.7M270.9 578.8L273.5 581.2M215.9 632.8L229.1 613.4M229.1 613.4L227.8 609.4M271.1 565.7L273.1 557.0M279.1 565.7L273.1 557.0M271.2 618.6L269.1 619.9M271.8 628.0L269.1 619.9M267.2 609.6L263.5 611.9M263.5 611.9L265.7 618.0M269.1 619.9L265.7 618.0M251.5 584.7L250.1 585.2M251.5 581.2L247.4 575.8M244.4 576.0L247.4 575.8M244.4 576.0L245.9 584.2M245.9 584.2L250.1 585.2M255.7 595.7L248.8 593.8M250.1 585.2L248.8 593.8M247.4 575.8L247.0 571.8M253.6 572.0L248.5 569.4M248.5 569.4L247.0 571.8M271.3 599.0L277.1 601.7M271.3 599.0L269.0 592.3M271.1 590.5L273.9 591.1M271.1 590.5L269.0 592.2M273.9 591.1L276.2 593.2M269.0 592.3L269.0 592.2M276.2 593.2L279.0 599.5M270.6 602.2L271.3 599.0M265.4 592.8L269.0 592.3M268.6 584.7L271.1 590.5M274.3 582.9L273.9 591.1M260.7 580.9L269.0 592.2M280.4 591.4L276.2 593.2M263.9 622.4L265.7 618.0M263.9 622.4L265.0 625.4M263.5 611.9L258.8 609.4M263.9 622.4L258.4 617.2M258.4 617.2L257.3 610.9M258.8 609.4L257.3 610.9M257.3 602.9L257.2 603.2M258.8 609.4L257.2 603.2M227.4 630.0L233.5 621.7M229.1 613.4L233.2 617.8M233.5 621.7L233.2 617.8M233.5 621.7L237.8 625.9M245.4 629.3L241.3 624.9M237.8 625.9L241.3 624.9M236.5 612.8L237.4 617.5M236.5 612.8L238.4 610.6M238.4 610.6L244.6 614.6M237.4 617.5L239.2 619.3M239.2 619.3L244.4 617.4M244.6 614.6L244.4 617.4M227.8 609.4L230.7 607.0M230.7 607.0L236.5 612.8M233.2 617.8L237.4 617.5M241.3 624.9L239.2 619.3M247.6 623.9L244.4 617.4M247.6 623.9L247.3 627.9M248.5 569.4L247.2 564.3M247.0 571.8L241.3 566.5M241.3 566.5L241.6 562.7M244.4 576.0L239.7 574.5M239.7 574.5L237.2 567.7M241.3 566.5L237.2 567.7M249.8 616.0L251.7 615.6M249.8 616.0L252.3 623.2M251.7 615.6L256.6 618.7M252.3 623.2L253.3 624.1M253.3 624.1L256.9 623.7M256.6 618.7L256.9 623.7M247.6 623.9L252.3 623.2M245.9 613.2L249.8 616.0M245.9 613.2L244.6 614.6M258.4 617.2L256.6 618.7M257.3 610.9L252.3 608.4M252.3 608.4L251.7 615.6M255.1 631.6L253.3 624.1M260.3 627.8L256.9 623.7M230.7 607.0L231.0 602.9M226.1 598.9L231.0 602.9M238.5 578.6L234.6 575.7M238.5 578.6L239.7 574.5M235.2 565.6L237.2 567.7M235.2 565.6L230.9 567.6M234.6 575.7L230.9 567.6M227.2 566.0L229.2 555.9M235.2 565.6L233.3 560.1M230.9 567.6L227.8 566.8M244.7 601.4L246.8 605.4M244.7 601.4L249.8 598.5M246.8 605.4L251.0 607.0M251.0 607.0L251.3 600.9M249.8 598.5L251.3 600.9M245.9 613.2L245.3 610.3M252.3 608.4L251.0 607.0M245.3 610.3L246.8 605.4M257.2 603.2L251.3 600.9M248.8 593.8L248.7 593.8M248.7 593.8L249.8 598.5M225.0 594.7L229.2 594.4M229.0 587.9L229.2 594.4M231.0 602.9L232.7 601.6M229.2 594.4L232.7 601.6M245.9 584.2L242.4 585.3M238.5 578.6L239.4 582.2M239.4 582.2L242.4 585.3M248.7 593.8L245.2 591.4M242.4 585.3L245.2 591.4M238.4 610.6L236.6 603.7M245.3 610.3L238.0 603.5M236.6 603.7L238.0 603.5M232.7 601.6L233.8 601.8M236.6 603.7L233.8 601.8M223.5 575.9L229.6 579.7M227.7 571.3L229.8 575.3M229.6 579.7L229.8 575.3M230.7 581.9L229.9 587.7M230.7 581.9L229.6 579.7M229.0 587.9L229.9 587.7M234.6 575.7L229.8 575.3M230.7 581.9L237.5 583.7M239.4 582.2L237.5 583.7M237.7 591.0L242.2 595.5M237.7 591.0L233.8 591.3M233.8 591.3L234.6 593.5M234.6 593.5L239.8 599.8M242.2 595.5L242.8 599.1M242.8 599.1L239.8 599.8M237.5 583.7L237.7 591.0M245.2 591.4L242.2 595.5M229.9 587.7L233.8 591.3M233.8 601.8L234.6 593.5M238.0 603.5L239.8 599.8M244.7 601.4L242.8 599.1" fill="none" stroke-width="1.9" stroke-linecap="round"/></g>
<path d="M238,574 C248,575 258,574 269,572 C272,590 270,606 262,613 C254,619 244,617 240,608 C236,598 236,586 238,574 Z" fill="none" stroke="#ee8156" stroke-width="2.0"/>
<clipPath id="c4"><path d="M204,566 C206,540 220,523 237,522 C256,522 268,540 268,572 C256,574 244,574 232,573 C220,572 210,570 204,566 Z"/></clipPath>
<g clip-path="url(#c4)" stroke="#c8d5f2"><path d="M278.0 542.7L274.4 549.7M274.4 549.7L273.6 555.0M273.6 555.0L276.8 556.9M273.8 520.9L275.3 512.3M273.8 520.9L277.2 522.6M246.4 514.2L247.3 512.1M246.4 514.2L247.1 518.5M250.3 520.4L247.2 518.8M250.3 520.4L252.3 518.6M247.1 518.5L247.2 518.8M252.3 518.6L256.1 509.4M271.7 531.8L275.2 527.0M271.7 531.8L267.5 528.9M273.8 520.9L269.0 521.9M267.5 528.9L269.0 521.9M268.0 574.1L284.6 576.8M268.0 574.1L268.6 570.7M268.6 570.7L276.3 561.5M265.7 566.8L267.6 559.5M265.7 566.8L268.6 570.7M267.6 559.5L273.6 555.0M200.3 519.4L203.5 518.6M200.3 519.4L205.9 505.9M203.5 518.6L210.1 511.8M206.7 523.5L203.5 518.6M206.7 523.5L212.3 520.3M213.9 516.1L210.1 511.8M213.9 516.1L212.8 519.7M212.3 520.3L212.8 519.7M201.5 571.2L200.8 576.7M201.5 571.2L209.1 563.8M210.5 571.2L212.7 565.1M210.5 571.2L203.5 576.8M209.1 563.8L212.7 565.1M203.5 576.8L200.8 576.7M218.2 511.2L213.9 516.1M227.2 520.3L228.6 518.3M227.2 520.3L220.7 520.0M228.6 518.3L228.1 508.4M220.7 520.0L224.6 510.5M212.8 519.7L218.3 522.9M218.3 522.9L220.7 520.0M234.1 550.9L233.5 557.3M234.1 550.9L232.0 549.2M233.5 557.3L226.5 562.6M226.5 562.6L224.4 560.5M232.0 549.2L224.7 558.2M224.4 560.5L224.7 558.2M212.3 520.3L209.9 529.2M209.9 529.2L212.3 532.9M218.3 522.9L217.3 529.1M217.3 529.1L212.3 532.9M247.7 581.3L253.1 576.1M255.4 584.0L253.1 576.1M265.7 558.9L267.6 559.5M265.7 558.9L261.2 560.6M265.7 566.8L261.5 570.6M261.2 560.6L254.8 570.9M261.5 570.6L254.8 570.9M252.2 560.5L259.3 555.8M252.2 560.5L251.2 569.0M251.2 569.0L254.6 571.0M261.2 560.6L259.3 555.8M254.6 571.0L254.8 570.9M244.8 573.1L242.8 580.6M244.8 573.1L251.2 569.0M253.1 576.1L254.6 571.0M243.8 582.0L242.8 580.6M234.1 550.9L240.4 545.8M233.5 557.3L234.5 558.5M234.5 558.5L238.4 556.1M240.4 545.8L242.9 547.2M238.4 556.1L242.9 547.2M229.4 583.6L230.6 580.0M223.3 581.5L227.3 577.2M230.6 580.0L227.3 577.2M224.9 570.8L226.5 562.6M224.9 570.8L227.4 571.3M234.5 558.5L233.6 566.3M233.6 566.3L227.4 571.3M264.6 548.8L264.8 540.2M264.6 548.8L266.8 548.9M266.8 548.9L268.6 547.5M268.6 547.5L272.7 538.7M264.8 540.2L270.5 535.6M272.7 538.7L270.5 535.6M265.7 558.9L266.8 548.9M260.2 553.3L264.6 548.8M260.2 553.3L259.3 555.8M274.4 549.7L268.6 547.5M277.0 538.5L272.7 538.7M271.7 531.8L270.5 535.6M250.7 558.7L252.2 560.5M250.7 558.7L251.2 553.9M260.2 553.3L257.4 547.9M257.4 547.9L251.2 553.9M244.5 535.1L250.3 536.0M244.5 535.1L245.3 530.2M250.0 522.0L245.3 530.2M250.0 522.0L254.2 529.5M254.2 529.5L250.3 536.0M250.3 520.4L250.0 522.0M239.2 529.9L247.2 518.8M239.2 529.9L245.3 530.2M252.3 518.6L261.5 516.7M254.2 529.5L256.8 527.8M256.8 527.8L261.5 516.7M264.2 510.2L261.7 516.6M261.5 516.7L261.7 516.6M272.3 512.1L267.3 519.7M261.7 516.6L267.3 519.7M269.0 521.9L267.3 520.0M267.3 519.7L267.3 520.0M206.7 523.5L202.6 530.3M209.9 529.2L203.5 533.3M203.5 533.3L202.6 530.3M210.0 537.2L212.3 532.9M210.0 537.2L206.3 540.3M206.3 540.3L202.3 538.7M203.5 533.3L202.3 538.7M195.6 585.9L199.3 578.5M199.3 578.5L192.4 577.3M203.5 576.8L205.4 584.1M200.8 576.7L199.3 578.5M201.5 571.2L199.3 567.6M192.8 573.3L199.3 567.6M246.4 514.2L239.2 515.4M247.1 518.5L236.8 525.2M236.8 525.2L239.2 515.4M239.2 515.4L237.6 512.8M228.6 518.3L233.4 516.7M237.6 512.8L233.4 516.7M232.0 549.2L231.3 544.2M240.4 545.8L241.9 538.3M241.9 538.3L235.6 538.8M231.3 544.2L235.6 538.8M239.2 529.9L237.2 530.8M241.9 538.3L244.5 535.1M235.6 538.8L237.2 530.8M236.8 525.2L235.3 527.9M237.2 530.8L235.3 527.9M231.2 526.9L234.9 528.0M231.2 526.9L233.4 516.7M235.3 527.9L234.9 528.0M224.4 560.5L219.0 565.8M224.7 558.2L221.7 554.6M219.0 565.8L214.1 563.9M214.1 563.9L217.4 557.2M217.4 557.2L221.7 554.6M208.4 559.6L215.7 552.0M208.4 559.6L209.1 563.8M212.7 565.1L214.1 563.9M217.4 557.2L215.7 552.0M227.2 520.3L225.5 525.2M231.2 526.9L227.4 528.7M225.5 525.2L227.4 528.7M217.3 529.1L218.4 529.8M225.5 525.2L218.4 529.8M213.0 541.3L218.9 538.5M213.0 541.3L210.0 537.2M218.4 529.8L218.9 538.5M200.2 563.2L196.7 560.9M200.2 563.2L205.5 557.6M196.7 560.9L198.0 552.9M198.0 552.9L204.5 548.9M205.5 557.6L207.3 550.9M207.3 550.9L204.5 548.9M208.4 559.6L205.5 557.6M199.3 567.6L200.2 563.2M208.3 550.2L216.1 548.8M208.3 550.2L207.3 550.9M215.7 552.0L216.1 548.8M208.3 550.2L213.0 541.3M206.3 540.3L204.5 548.9M196.7 560.9L193.0 564.1M260.9 577.6L256.2 583.9M260.9 577.6L267.3 575.1M264.8 583.2L267.3 575.1M261.5 570.6L260.9 577.6M268.0 574.1L267.3 575.1M214.2 588.9L219.4 580.4M213.3 589.3L211.5 579.6M219.4 580.4L220.6 574.1M220.6 574.1L218.3 573.6M218.3 573.6L212.7 577.2M212.7 577.2L211.5 579.6M223.3 581.5L219.4 580.4M205.8 584.1L211.5 579.6M224.9 570.8L220.6 574.1M227.4 571.3L227.3 577.2M219.0 565.8L218.3 573.6M210.5 571.2L212.7 577.2M237.0 584.3L242.8 580.6M237.2 575.2L242.2 571.3M237.2 575.2L234.9 575.4M234.9 575.4L234.8 566.9M242.2 571.3L243.4 564.8M234.8 566.9L241.3 562.7M243.4 564.8L241.3 562.7M244.8 573.1L242.2 571.3M237.0 584.3L237.2 575.2M230.6 580.0L234.9 575.4M233.6 566.3L234.8 566.9M250.7 558.7L243.4 564.8M242.6 557.4L238.4 556.1M242.6 557.4L241.3 562.7M264.8 540.2L260.9 540.5M257.4 547.9L259.9 541.5M260.9 540.5L259.9 541.5M267.5 528.9L262.3 533.1M260.9 540.5L262.3 533.1M267.3 520.0L260.7 530.0M262.3 533.1L260.7 530.0M256.8 527.8L260.3 530.0M260.3 530.0L260.7 530.0M247.3 551.2L245.6 546.6M247.3 551.2L248.4 551.1M248.4 551.1L255.0 541.4M245.6 546.6L250.4 537.9M250.4 537.9L253.8 539.0M253.8 539.0L255.0 541.4M242.6 557.4L247.3 551.2M242.9 547.2L245.6 546.6M251.2 553.9L248.4 551.1M259.9 541.5L255.0 541.4M250.3 536.0L250.4 537.9M260.3 530.0L253.8 539.0M200.3 519.4L199.1 520.3M199.1 520.3L197.4 518.3M198.9 510.7L197.4 518.3M202.6 530.3L199.1 530.5M199.1 520.3L198.8 521.0M199.1 530.5L198.8 521.0M224.9 533.9L218.9 538.6M224.9 533.9L228.0 538.3M228.0 538.3L227.1 544.1M218.5 545.1L226.7 544.4M218.5 545.1L218.9 538.6M227.1 544.1L226.7 544.4M227.4 528.7L224.9 533.9M218.9 538.5L218.9 538.6M234.9 528.0L228.0 538.3M231.3 544.2L227.1 544.1M221.7 554.6L226.7 544.4M216.1 548.8L218.5 545.1M202.3 538.7L198.7 542.2M198.0 552.9L198.0 552.9M198.7 542.2L198.0 552.9M198.0 552.9L190.2 555.2M197.4 518.3L190.0 518.6M199.1 530.5L194.5 535.6M198.7 542.2L195.7 542.8M194.5 535.6L195.7 542.8M195.7 542.8L190.8 548.5M198.8 521.0L194.6 525.6" fill="none" stroke-width="1.9" stroke-linecap="round"/></g>
<path d="M204,566 C206,540 220,523 237,522 C256,522 268,540 268,572 C256,574 244,574 232,573 C220,572 210,570 204,566 Z" fill="none" stroke="#c8d5f2" stroke-width="2.0"/>
<clipPath id="c5"><path d="M128,497 C142,492 150,480 166,479 L192,479 C206,480 212,492 226,500 C212,508 206,522 190,527 L166,527 C150,522 142,502 128,497 Z"/></clipPath>
<clipPath id="cl_l"><rect x="100" y="460" width="78.5" height="80"/></clipPath><clipPath id="cl_r"><rect x="178.5" y="460" width="80" height="80"/></clipPath>
<g clip-path="url(#c5)"><g clip-path="url(#cl_l)" stroke="#c8d5f2"><path d="M193.3 494.8L200.1 492.2M193.3 494.8L188.0 492.8M188.0 492.8L187.7 490.7M187.7 490.7L196.0 489.4M196.0 489.4L200.1 492.2M118.1 477.9L124.6 477.8M116.7 482.0L126.5 481.5M124.6 477.8L126.5 481.5M211.4 512.9L204.8 511.6M211.4 512.9L217.3 511.0M217.3 511.0L215.1 509.0M215.1 509.0L210.0 508.2M204.8 511.6L206.3 509.1M206.3 509.1L210.0 508.2M210.9 505.8L210.0 508.2M210.9 505.8L200.7 504.4M199.3 506.5L200.1 504.6M199.3 506.5L206.3 509.1M200.7 504.4L200.1 504.6M193.1 508.6L199.3 506.5M193.1 508.6L198.9 511.9M204.8 511.6L200.7 512.2M200.7 512.2L198.9 511.9M211.4 512.9L212.6 514.5M200.2 515.9L200.7 512.2M200.2 515.9L206.7 516.9M212.6 514.5L206.7 516.9M208.0 491.0L204.8 488.3M208.0 491.0L214.8 487.3M214.8 487.3L215.0 486.2M215.0 486.2L210.7 485.2M204.8 488.3L210.7 485.2M193.3 494.8L193.3 495.6M188.0 492.8L180.0 494.0M180.0 494.0L183.6 497.2M183.6 497.2L188.7 497.5M193.3 495.6L188.7 497.5M114.1 516.1L120.6 514.2M120.6 514.2L120.7 514.0M120.7 514.0L115.6 511.0M160.4 503.0L166.9 506.2M160.4 503.0L152.3 503.9M153.3 506.8L166.0 508.0M153.3 506.8L151.8 504.5M166.9 506.2L166.0 508.0M151.8 504.5L152.3 503.9M164.0 501.0L155.6 498.9M164.0 501.0L160.4 503.0M155.6 498.9L150.8 502.6M150.8 502.6L152.3 503.9M193.3 495.6L200.7 497.1M188.7 497.5L190.5 500.5M190.5 500.5L191.2 500.8M191.2 500.8L202.1 499.3M200.7 497.1L202.1 499.3M200.7 504.4L206.6 500.8M200.1 504.6L191.5 502.9M191.5 502.9L191.2 500.8M202.1 499.3L206.6 500.8M210.9 505.8L216.3 504.3M216.3 504.3L214.8 501.9M214.8 501.9L208.5 500.7M206.6 500.8L208.5 500.7M228.5 487.8L228.1 487.4M228.5 487.8L222.1 491.2M228.1 487.4L220.7 485.9M220.7 485.9L215.0 486.2M214.8 487.3L218.5 491.4M222.1 491.2L218.5 491.4M216.3 504.3L219.2 505.1M214.8 501.9L220.1 500.4M220.1 500.4L230.1 500.9M230.1 500.9L230.0 502.6M230.0 502.6L219.2 505.1M215.1 509.0L221.0 506.5M221.0 506.5L219.2 505.1M140.0 469.7L146.3 470.7M140.0 469.7L141.7 466.5M146.3 470.7L154.1 469.7M154.1 469.7L155.3 466.5M140.0 469.7L136.8 470.4M136.8 470.4L132.2 469.7M130.3 466.7L132.2 469.7M193.1 508.6L188.8 508.5M191.5 502.9L186.2 504.4M188.8 508.5L186.2 504.4M116.7 482.0L122.5 485.6M122.5 485.6L113.1 486.3M141.9 484.1L141.6 484.5M141.9 484.1L148.3 482.7M148.3 482.7L153.3 482.9M156.5 485.2L153.3 482.9M156.5 485.2L147.2 487.4M141.6 484.5L147.2 487.4M161.4 485.9L161.0 489.4M161.4 485.9L156.5 485.2M161.0 489.4L152.8 490.8M152.8 490.8L147.2 487.7M147.2 487.7L147.2 487.4M141.6 492.5L138.4 489.9M141.6 492.5L134.8 494.2M138.4 489.9L133.8 489.2M133.8 489.2L128.6 493.0M128.6 493.0L134.8 494.2M141.8 498.3L142.2 500.5M141.8 498.3L136.7 497.4M142.2 500.5L139.7 501.6M139.7 501.6L131.0 501.7M131.0 501.7L132.4 498.0M136.7 497.4L132.4 498.0M178.5 498.5L169.6 497.1M178.5 498.5L179.0 500.9M178.9 501.0L179.0 500.9M178.9 501.0L169.0 501.4M169.6 497.1L166.7 500.6M169.0 501.4L166.7 500.6M183.6 497.2L178.5 498.5M190.5 500.5L179.0 500.9M186.2 504.4L180.3 504.1M180.3 504.1L178.9 501.0M171.3 504.3L179.3 504.4M171.3 504.3L169.0 501.4M179.3 504.4L180.3 504.1M164.0 501.0L166.7 500.6M171.3 504.3L166.9 506.2M134.8 473.6L129.7 475.0M134.8 473.6L142.4 475.7M137.2 479.9L129.1 476.4M137.2 479.9L145.1 477.6M129.1 476.4L129.7 475.0M145.1 477.6L142.4 475.7M146.3 470.7L147.6 472.5M136.8 470.4L134.8 473.6M147.6 472.5L142.4 475.7M124.6 477.8L129.1 476.4M136.8 480.5L128.1 481.8M136.8 480.5L137.2 479.9M128.1 481.8L126.5 481.5M136.8 480.5L141.9 484.1M148.3 482.7L147.5 477.8M147.5 477.8L145.1 477.6M180.0 494.0L174.5 493.2M174.5 493.2L174.1 493.2M169.6 497.1L169.3 496.7M174.1 493.2L169.3 496.7M147.1 493.1L152.3 491.5M147.1 493.1L147.3 496.7M152.3 491.5L160.4 495.1M147.3 496.7L154.8 497.6M154.8 497.6L160.8 495.7M160.8 495.7L160.4 495.1M141.6 492.5L147.1 493.1M152.8 490.8L152.3 491.5M138.4 489.9L147.2 487.7M141.8 498.3L147.3 496.7M134.8 494.2L136.7 497.4M161.0 489.4L166.6 490.6M166.6 490.6L160.4 495.1M155.6 498.9L154.8 497.6M150.8 502.6L142.2 500.5M169.3 496.7L160.8 495.7M167.0 490.6L166.6 490.6M167.0 490.6L174.1 493.2M223.0 465.5L221.0 470.2M233.6 467.5L232.9 470.3M221.0 470.2L228.9 471.5M228.9 471.5L232.9 470.3M225.0 475.1L228.8 472.5M225.0 475.1L215.1 474.7M228.8 472.5L228.9 471.5M215.1 474.7L217.1 470.4M217.1 470.4L221.0 470.2M141.1 537.0L149.3 536.0M155.2 538.5L149.3 536.0M141.1 537.0L138.7 535.5M150.8 532.8L139.9 531.5M150.8 532.8L150.5 534.9M139.9 531.5L139.7 531.5M138.7 535.5L139.7 531.5M150.5 534.9L149.3 536.0M173.1 538.1L174.7 536.4M174.7 536.4L172.4 535.1M172.4 535.1L162.7 534.9M161.4 538.8L161.9 535.6M162.7 534.9L161.9 535.6M150.5 534.9L161.9 535.6M127.5 524.0L128.3 527.2M127.5 524.0L137.2 524.0M136.5 526.4L137.2 524.0M136.5 526.4L132.1 527.7M132.1 527.7L128.3 527.2M146.5 527.4L139.9 531.5M146.5 527.4L136.5 526.4M139.7 531.5L136.1 531.0M136.1 531.0L132.1 527.7M136.1 531.0L128.5 532.3M128.5 532.3L121.2 530.2M128.3 527.2L121.4 528.6M121.2 530.2L121.4 528.6M166.0 508.1L166.0 508.0M166.0 508.1L157.8 512.5M153.3 506.8L149.2 509.2M157.8 512.5L156.9 512.5M156.9 512.5L149.6 510.3M149.2 509.2L149.6 510.3M125.4 512.9L124.8 509.6M125.4 512.9L120.7 514.0M124.8 509.6L116.7 510.2M128.5 532.3L127.6 534.0M115.5 532.4L121.2 530.2M118.3 536.0L127.6 534.0M138.7 535.5L131.2 535.4M131.2 535.4L127.6 534.0M150.0 515.7L157.5 517.3M150.0 515.7L147.5 516.0M147.5 516.0L146.9 516.4M146.9 516.4L147.8 518.9M147.8 518.9L152.2 521.0M152.2 521.0L158.0 519.3M157.5 517.3L158.0 519.3M163.6 514.6L157.5 517.3M163.6 514.6L157.8 512.5M156.9 512.5L150.0 515.7M142.7 513.0L149.6 510.3M142.7 513.0L147.5 516.0M163.6 514.6L165.2 514.7M170.6 518.1L170.9 517.6M170.6 518.1L165.5 520.1M165.5 520.1L158.0 519.3M165.2 514.7L170.9 517.6M170.6 518.1L178.5 521.5M178.5 521.5L183.2 518.7M170.9 517.6L177.7 516.4M183.2 518.7L177.7 516.4M213.0 496.1L205.7 495.7M213.0 496.1L215.7 495.5M215.7 495.5L215.0 492.6M205.7 495.7L203.3 492.4M215.0 492.6L208.0 491.4M203.3 492.4L208.0 491.4M200.7 497.1L205.7 495.7M208.5 500.7L213.0 496.1M220.1 500.4L218.9 496.2M218.9 496.2L215.7 495.5M200.1 492.2L203.3 492.4M208.0 491.0L208.0 491.4M218.5 491.4L215.0 492.6M196.0 489.4L196.8 488.3M196.8 488.3L204.8 488.3M230.1 500.9L231.8 500.2M243.1 504.0L231.8 504.0M231.8 504.0L230.0 502.6M243.0 501.6L231.8 500.2M119.6 469.4L115.7 472.8M119.6 469.4L119.7 469.3M119.7 469.3L122.2 469.7M122.2 469.7L127.6 474.5M115.7 472.8L119.5 474.1M119.5 474.1L127.6 474.5M104.0 468.2L119.6 469.4M119.9 468.5L119.7 469.3M132.2 469.7L122.2 469.7M129.7 475.0L127.6 474.5M118.1 477.9L119.5 474.1M124.3 486.0L124.9 487.6M124.3 486.0L128.3 484.4M124.9 487.6L133.4 488.8M128.3 484.4L137.1 485.4M137.1 485.4L133.4 488.8M128.1 481.8L128.3 484.4M122.5 485.6L124.3 486.0M141.6 484.5L137.1 485.4M133.8 489.2L133.4 488.8M124.9 487.6L121.1 489.3M113.2 488.7L121.1 489.3M128.6 493.0L123.3 493.4M121.1 489.3L123.3 493.4M217.1 470.4L210.2 469.2M209.3 466.8L210.2 469.2M196.8 488.3L194.4 485.4M210.7 485.2L210.0 484.8M210.0 484.8L197.7 484.8M194.4 485.4L197.7 484.8M210.0 484.8L210.3 482.3M210.3 482.3L206.6 480.1M206.6 480.1L200.3 480.6M197.7 484.8L200.3 480.6M187.7 490.7L182.6 489.1M191.3 485.0L194.4 485.4M191.3 485.0L186.8 485.5M186.8 485.5L182.6 489.1M174.5 493.2L181.4 489.2M181.4 489.2L182.6 489.1M167.0 490.6L173.9 487.7M181.4 489.2L173.9 487.7M176.4 482.3L176.9 483.3M176.4 482.3L175.0 482.0M175.0 482.0L164.8 481.8M176.9 483.3L172.7 485.9M172.7 485.9L162.1 485.7M162.1 485.7L164.8 481.8M186.8 485.5L176.9 483.3M173.9 487.7L172.7 485.9M161.4 485.9L162.1 485.7M153.3 482.9L159.7 479.5M159.7 479.5L164.8 481.8M147.6 472.5L154.7 474.9M147.5 477.8L154.6 477.2M154.6 477.2L154.7 474.9M159.7 479.5L159.2 478.4M154.6 477.2L159.2 478.4M154.1 469.7L160.1 471.7M154.7 474.9L160.1 471.7M217.0 481.3L219.3 478.6M217.0 481.3L223.0 482.5M223.0 482.5L228.3 481.3M228.3 481.3L226.9 478.4M219.3 478.6L226.0 478.1M226.0 478.1L226.9 478.4M220.7 485.9L223.0 482.5M210.3 482.3L217.0 481.3M228.1 487.4L231.1 485.5M231.1 485.5L231.9 482.2M231.9 482.2L228.3 481.3M232.9 470.3L240.3 471.0M184.2 535.1L174.7 536.4M184.2 535.1L182.9 532.3M182.9 532.3L177.1 531.9M172.4 535.1L172.9 532.7M172.9 532.7L177.1 531.9M125.4 516.4L120.9 519.2M125.4 516.4L132.8 516.4M120.9 519.2L130.6 520.7M132.8 516.4L134.9 517.7M134.9 517.7L135.0 519.8M135.0 519.8L130.6 520.7M120.6 514.2L125.4 516.4M116.8 519.8L120.9 519.2M135.1 513.0L132.8 516.4M135.1 513.0L125.4 512.9M116.8 519.8L121.2 523.3M121.2 523.3L127.0 523.7M127.0 523.7L130.6 520.7M135.1 513.0L135.5 512.7M142.7 513.0L135.5 512.7M146.9 516.4L134.9 517.7M136.8 520.4L135.0 519.8M136.8 520.4L147.8 518.9M140.1 522.7L137.2 524.0M140.1 522.7L136.8 520.4M127.0 523.7L127.5 524.0M121.4 528.6L118.0 527.5M121.2 523.3L116.2 525.5M133.6 509.6L139.4 507.8M133.6 509.6L128.7 508.7M128.7 508.7L125.7 504.8M139.4 507.8L139.5 505.4M126.5 504.4L138.7 505.0M126.5 504.4L125.7 504.8M139.5 505.4L138.7 505.0M135.5 512.7L133.6 509.6M149.2 509.2L139.4 507.8M124.8 509.6L128.7 508.7M151.8 504.5L139.5 505.4M139.7 501.6L138.7 505.0M131.0 501.7L127.1 502.7M127.1 502.7L126.5 504.4M116.6 510.0L119.0 505.2M115.0 504.5L119.0 505.2M125.7 504.8L119.0 505.2M127.1 502.7L121.4 499.6M121.4 499.6L113.8 501.3M188.8 508.5L185.6 509.5M179.3 504.4L177.6 508.1M185.6 509.5L177.6 508.1M166.0 508.1L170.3 509.1M177.6 508.1L170.3 509.1M165.2 514.7L172.3 511.8M170.3 509.1L172.3 511.8M184.5 531.5L185.1 528.2M184.5 531.5L193.9 531.7M185.1 528.2L191.2 527.5M191.2 527.5L198.1 528.9M198.1 528.9L198.2 529.1M193.9 531.7L198.2 529.1M205.0 525.6L198.1 528.9M205.0 525.6L212.1 528.1M198.2 529.1L207.0 531.9M212.1 528.1L207.0 531.9M205.0 524.4L197.6 523.3M205.0 524.4L209.5 522.7M209.5 522.7L210.6 520.5M195.0 519.8L197.6 523.3M195.0 519.8L208.9 519.8M208.9 519.8L210.6 520.5M205.0 525.6L205.0 524.4M192.4 524.5L197.6 523.3M192.4 524.5L191.2 527.5M219.0 524.9L218.9 527.9M219.0 524.9L209.5 522.7M212.1 528.1L218.9 527.9M219.7 519.8L217.0 519.6M219.7 519.8L224.7 523.3M217.0 519.6L210.6 520.5M219.0 524.9L224.7 523.3M192.5 518.8L185.1 523.0M192.5 518.8L195.0 519.8M185.1 523.0L192.4 524.5M200.2 515.9L193.1 517.7M206.7 516.9L208.9 519.8M192.5 518.8L192.4 518.7M193.1 517.7L192.4 518.7M212.6 514.5L217.4 515.5M217.4 515.5L217.0 519.6M184.2 535.1L186.3 535.8M182.9 532.3L184.5 531.5M193.9 531.7L195.5 534.1M195.5 534.1L186.3 535.8M186.3 535.8L188.0 538.2M241.6 497.1L232.3 498.7M235.5 492.8L230.1 494.3M232.3 498.7L228.5 495.7M230.1 494.3L228.5 495.7M231.8 500.2L232.3 498.7M232.9 488.8L237.7 488.3M232.9 488.8L235.5 492.8M228.5 487.8L232.9 488.8M222.1 491.2L230.1 494.3M218.9 496.2L228.5 495.7M118.9 493.7L122.4 493.8M122.4 493.8L123.4 497.5M106.3 496.9L122.0 498.2M122.0 498.2L123.4 497.5M123.3 493.4L122.4 493.8M132.4 498.0L123.4 497.5M121.4 499.6L122.0 498.2M212.2 477.1L207.1 479.4M212.2 477.1L212.1 475.6M207.1 479.4L198.5 475.6M212.1 475.6L206.7 474.2M206.7 474.2L198.5 475.6M206.6 480.1L207.1 479.4M219.3 478.6L212.2 477.1M225.0 475.1L226.0 478.1M215.1 474.7L212.1 475.6M206.0 470.6L210.2 469.2M206.0 470.6L206.7 474.2M206.0 470.6L196.7 470.6M198.6 465.9L195.5 469.9M196.7 470.6L195.5 469.9M191.3 485.0L190.5 481.6M200.3 480.6L194.7 479.6M190.5 481.6L194.7 479.6M176.4 482.3L182.0 480.4M190.5 481.6L182.0 480.4M231.1 485.5L242.4 485.0M231.9 482.2L241.0 481.6M228.8 472.5L237.7 475.9M226.9 478.4L238.6 477.2M185.1 528.2L181.1 527.1M177.1 531.9L173.6 527.9M173.6 527.9L181.1 527.1M185.1 523.0L181.3 523.3M181.1 527.1L181.3 523.3M178.5 521.5L178.9 522.6M183.2 518.7L192.4 518.7M178.9 522.6L181.3 523.3M140.1 522.7L150.3 523.8M152.2 521.0L150.7 523.7M150.3 523.8L150.7 523.7M178.6 515.8L187.8 514.4M178.6 515.8L175.5 512.4M175.5 512.4L184.7 511.2M184.7 511.2L188.1 513.7M188.1 513.7L187.8 514.4M193.1 517.7L187.8 514.4M177.7 516.4L178.6 515.8M172.3 511.8L175.5 512.4M185.6 509.5L184.7 511.2M198.9 511.9L188.1 513.7M217.4 515.5L220.5 515.2M219.7 519.8L228.1 518.2M228.1 518.2L220.5 515.2M224.7 523.3L229.8 523.4M233.5 520.3L229.0 518.2M233.5 520.3L230.4 523.4M230.4 523.4L229.8 523.4M228.1 518.2L229.0 518.2M233.5 520.3L239.5 519.9M229.0 518.2L234.1 514.2M234.1 514.2L242.3 517.7M239.3 525.7L230.4 523.4M239.3 525.7L232.5 528.7M229.8 523.4L226.7 528.1M226.7 528.1L232.5 528.7M218.9 527.9L221.2 528.6M226.7 528.1L221.2 528.6M205.5 533.7L198.7 534.6M205.5 533.7L208.7 536.6M198.7 534.6L198.1 538.9M208.7 536.6L206.4 539.2M207.0 531.9L207.3 532.3M207.3 532.3L205.5 533.7M195.5 534.1L198.7 534.6M220.1 537.5L219.6 536.0M219.6 536.0L208.7 536.6M160.1 471.7L161.3 471.6M161.3 471.6L166.2 470.3M166.2 470.3L167.8 466.9M183.5 469.8L188.6 468.8M183.5 469.8L179.8 469.4M179.8 469.4L176.4 467.1M166.2 470.3L173.8 472.0M173.8 472.0L179.8 469.4M195.5 469.9L188.6 468.8M192.9 477.5L187.6 477.1M192.9 477.5L197.8 475.6M187.6 477.1L183.7 474.3M197.8 475.6L194.5 472.7M194.5 472.7L185.5 473.3M183.7 474.3L185.5 473.3M194.7 479.6L192.9 477.5M182.0 480.4L182.8 478.9M182.8 478.9L187.6 477.1M198.5 475.6L197.8 475.6M196.7 470.6L194.5 472.7M183.5 469.8L185.5 473.3M179.4 474.4L175.4 476.8M179.4 474.4L174.1 472.6M174.1 472.6L167.3 475.2M175.4 476.8L171.3 477.4M171.3 477.4L167.0 476.8M167.0 476.8L167.3 475.2M182.8 478.9L175.4 476.8M183.7 474.3L179.4 474.4M173.8 472.0L174.1 472.6M161.3 471.6L167.3 475.2M175.0 482.0L171.3 477.4M159.2 478.4L167.0 476.8M146.5 527.4L147.9 527.1M150.8 532.8L156.0 531.4M147.9 527.1L156.0 531.4M150.3 523.8L148.5 526.6M147.9 527.1L148.5 526.6M162.7 534.9L161.3 531.3M156.0 531.4L161.3 531.3M172.9 532.7L162.9 530.7M161.3 531.3L162.9 530.7M156.5 524.2L164.6 528.5M156.5 524.2L166.4 522.8M166.4 522.8L169.2 523.8M169.2 523.8L169.2 527.6M169.2 527.6L165.1 528.7M165.1 528.7L164.6 528.5M150.7 523.7L156.5 524.2M148.5 526.6L164.6 528.5M165.5 520.1L166.4 522.8M178.9 522.6L169.2 523.8M173.6 527.9L169.2 527.6M162.9 530.7L165.1 528.7M118.8 536.8L126.8 539.2M131.2 535.4L127.3 539.3M231.8 504.0L231.7 506.7M240.5 507.8L231.7 506.7M221.0 506.5L227.0 507.9M231.7 506.7L227.0 507.9M217.3 511.0L226.6 511.4M227.0 507.9L226.6 511.4M220.5 515.2L227.6 512.0M226.6 511.4L227.6 512.0M234.1 514.2L234.0 513.2M227.6 512.0L234.0 513.2M234.0 513.2L236.5 512.6M232.5 528.7L234.4 530.9M239.0 532.1L234.4 530.9M234.2 537.3L234.0 536.1M234.0 536.1L236.1 535.3M215.1 532.6L221.2 529.5M215.1 532.6L220.5 535.3M221.2 529.5L226.5 532.2M226.5 532.2L225.2 534.6M220.5 535.3L225.2 534.6M207.3 532.3L215.1 532.6M221.2 528.6L221.2 529.5M219.6 536.0L220.5 535.3M234.4 530.9L226.5 532.2M234.0 536.1L225.2 534.6" fill="none" stroke-width="1.9" stroke-linecap="round"/></g><g clip-path="url(#cl_r)" stroke="#ee8156"><path d="M126.2 480.5L119.5 482.8M126.2 480.5L126.2 480.1M110.7 480.8L119.5 482.8M117.9 477.4L126.2 480.1M122.1 520.2L124.1 516.8M122.1 520.2L119.6 521.2M119.6 521.2L110.9 520.1M116.0 516.2L120.2 515.8M120.2 515.8L124.1 516.8M114.3 511.8L119.1 512.0M119.1 512.0L120.2 515.8M119.6 521.2L120.4 522.6M120.4 522.6L110.5 525.0M236.5 504.8L234.9 508.8M236.5 504.8L225.8 505.3M227.1 508.6L234.9 508.8M227.1 508.6L225.5 507.2M225.8 505.3L225.5 507.2M234.8 484.3L233.3 482.2M234.8 484.3L241.4 485.3M233.3 482.2L236.2 480.8M196.8 489.5L205.7 487.6M196.8 489.5L196.6 492.0M205.7 487.6L209.7 490.3M209.7 490.3L206.7 492.4M206.7 492.4L204.1 492.7M196.6 492.0L204.1 492.7M177.2 497.6L175.9 500.4M177.2 497.6L172.4 496.2M172.4 496.2L160.9 496.3M166.4 500.9L172.4 501.4M166.4 500.9L160.3 496.7M160.3 496.7L160.9 496.3M172.4 501.4L175.9 500.4M174.1 505.1L171.8 504.5M174.1 505.1L185.1 503.8M171.8 504.5L172.4 501.4M183.4 502.1L185.1 503.8M183.4 502.1L175.9 500.4M119.5 482.8L120.3 484.9M120.3 484.9L112.4 485.9M130.2 482.2L126.2 480.5M130.2 482.2L130.3 485.5M120.3 484.9L123.9 486.1M123.9 486.1L130.3 485.5M233.1 469.8L236.0 471.1M233.1 469.8L227.4 469.6M227.4 469.6L227.8 473.9M227.8 473.9L235.4 473.6M234.3 466.2L233.1 469.8M222.5 467.8L227.4 469.6M216.9 470.5L222.5 467.8M216.9 470.5L220.3 474.0M220.3 474.0L223.9 474.6M223.9 474.6L227.8 473.9M145.9 515.9L143.9 514.3M145.9 515.9L158.3 516.1M143.9 514.3L149.8 511.6M158.3 516.1L154.3 512.6M149.8 511.6L154.3 512.6M132.6 512.0L139.6 514.1M132.6 512.0L132.5 512.0M132.5 512.0L127.1 516.4M139.6 514.1L134.7 518.1M134.7 518.1L127.1 516.4M136.0 509.1L132.6 512.0M136.0 509.1L146.6 508.4M143.9 514.3L139.6 514.1M146.6 508.4L148.3 508.7M149.8 511.6L148.3 508.7M119.1 512.0L122.5 511.2M122.5 511.2L132.5 512.0M124.1 516.8L127.1 516.4M129.3 520.6L135.1 518.4M129.3 520.6L122.1 520.2M135.1 518.4L134.7 518.1M197.3 512.7L194.6 508.3M197.3 512.7L185.0 512.0M194.6 508.3L188.7 507.5M185.0 512.0L185.8 508.4M185.8 508.4L188.7 507.5M178.9 508.2L174.1 505.1M178.9 508.2L185.8 508.4M188.5 505.4L185.1 503.8M188.5 505.4L188.7 507.5M198.9 513.6L205.0 512.1M198.9 513.6L197.3 512.7M205.0 512.1L203.8 508.6M194.6 508.3L196.3 508.2M203.8 508.6L196.3 508.2M214.7 509.2L225.5 507.2M214.7 509.2L210.6 507.2M225.8 505.3L225.7 505.2M210.6 507.2L211.3 504.8M211.3 504.8L214.6 503.8M225.7 505.2L214.6 503.8M209.3 485.7L215.3 486.2M209.3 485.7L206.7 486.0M206.7 486.0L205.7 487.6M209.7 490.3L217.6 490.0M217.6 490.0L215.3 486.2M210.5 497.6L214.1 495.9M210.5 497.6L203.2 497.5M206.7 492.4L214.0 494.9M204.1 492.7L203.2 497.5M214.1 495.9L214.0 494.9M230.8 481.8L226.5 478.0M230.8 481.8L220.7 482.4M217.0 480.7L220.7 482.4M217.0 480.7L224.7 477.6M224.7 477.6L226.5 478.0M233.3 482.2L230.8 481.8M237.9 478.1L226.5 478.0M234.8 484.3L227.7 486.6M227.7 486.6L221.4 484.9M221.4 484.9L220.7 482.4M209.3 485.7L214.5 481.1M216.3 480.7L214.5 481.1M216.3 480.7L217.0 480.7M221.4 484.9L215.3 486.2M223.9 474.6L224.7 477.6M195.4 488.9L196.8 489.5M195.4 488.9L195.0 485.2M206.7 486.0L200.6 483.8M200.6 483.8L195.0 485.2M159.7 494.1L160.9 496.3M159.7 494.1L166.2 492.0M172.4 496.2L173.1 492.3M173.1 492.3L166.2 492.0M160.5 488.6L159.7 486.0M160.5 488.6L164.9 489.3M159.7 486.0L163.9 485.0M163.9 485.0L172.9 485.8M172.9 485.8L172.9 488.0M172.9 488.0L164.9 489.3M159.7 494.1L155.5 492.6M160.5 488.6L156.8 489.9M155.5 492.6L156.8 489.9M164.9 489.3L166.2 492.0M172.4 510.8L172.9 509.7M172.4 510.8L165.8 512.4M172.9 509.7L164.9 507.6M165.8 512.4L161.8 511.2M161.8 511.2L161.6 509.3M164.9 507.6L161.6 509.3M184.7 512.3L176.6 513.0M184.7 512.3L185.0 512.0M176.6 513.0L172.4 510.8M178.9 508.2L172.9 509.7M164.5 506.3L171.8 504.5M164.5 506.3L164.9 507.6M154.3 512.6L161.8 511.2M148.4 508.7L148.3 508.7M148.4 508.7L161.6 509.3M159.0 504.9L148.4 508.7M159.0 504.9L164.5 506.3M193.4 493.0L196.6 492.0M193.4 493.0L197.0 497.3M203.2 497.5L200.4 497.9M197.0 497.3L200.4 497.9M186.0 493.1L193.4 493.0M186.0 493.1L182.4 496.6M182.4 496.6L189.3 498.3M197.0 497.3L189.3 498.3M182.4 496.6L177.2 497.6M183.4 502.1L189.1 500.2M189.3 498.3L189.1 500.2M115.4 488.8L120.7 490.2M120.1 490.8L120.7 490.2M120.1 490.8L112.5 492.4M123.9 486.1L121.3 490.0M121.3 490.0L120.7 490.2M125.9 495.2L131.0 494.0M125.9 495.2L120.1 490.8M131.0 494.0L132.8 490.4M121.3 490.0L132.8 490.4M160.3 496.7L157.4 497.4M145.4 492.7L155.5 492.6M145.4 492.7L147.9 496.9M157.4 497.4L147.9 496.9M136.0 509.1L133.7 507.8M122.5 511.2L121.5 507.2M121.5 507.2L133.7 507.8M121.5 507.2L121.0 507.0M112.7 509.6L121.0 507.0M216.9 470.5L208.1 469.9M208.1 469.9L208.9 466.4M208.1 469.9L206.3 470.3M206.3 470.3L198.0 469.1M196.0 466.8L198.0 469.1M136.9 489.5L132.5 485.9M136.9 489.5L141.7 490.0M141.7 490.0L147.0 487.6M132.5 485.9L143.3 483.4M147.0 487.6L148.1 485.9M143.3 483.4L148.1 485.9M130.3 485.5L132.5 485.9M132.8 490.4L136.9 489.5M131.0 494.0L138.3 494.5M138.3 494.5L144.5 492.5M144.5 492.5L141.7 490.0M144.5 492.5L145.4 492.7M156.8 489.9L147.0 487.6M143.3 482.5L143.3 483.4M143.3 482.5L138.6 481.4M138.6 481.4L130.2 482.2M159.7 486.0L154.8 485.3M154.8 485.3L148.1 485.9M138.6 481.4L135.3 478.2M126.2 480.1L133.2 477.7M135.3 478.2L133.2 477.7M159.9 474.1L148.4 472.0M159.9 474.1L148.4 477.6M148.4 472.0L144.4 474.5M144.4 474.5L148.4 477.6M126.4 474.1L125.9 471.1M126.4 474.1L132.4 475.1M132.4 475.1L136.0 474.2M136.0 474.2L137.2 469.8M125.9 471.1L130.6 469.2M137.2 469.8L130.6 469.2M118.7 475.3L126.4 474.1M133.2 477.7L132.4 475.1M135.3 478.2L148.4 477.7M144.4 474.5L136.0 474.2M148.4 477.7L148.4 477.6M193.9 470.7L198.0 469.1M193.9 470.7L185.4 470.9M185.4 470.9L183.0 469.8M183.0 469.8L186.0 466.5M214.5 481.1L203.3 481.6M200.6 483.8L200.5 483.0M203.3 481.6L200.5 483.0M205.2 472.2L197.9 473.9M205.2 472.2L210.2 475.9M197.9 473.9L199.6 477.2M210.2 475.9L209.2 476.7M209.2 476.7L202.7 477.6M202.7 477.6L199.6 477.2M193.9 470.7L196.2 473.5M206.3 470.3L205.2 472.2M196.2 473.5L197.9 473.9M220.3 474.0L210.2 475.9M216.3 480.7L209.2 476.7M203.3 481.6L202.7 477.6M193.5 478.1L199.6 477.2M193.5 478.1L191.8 480.5M191.8 480.5L200.5 483.0M188.8 474.5L189.4 476.8M188.8 474.5L185.4 473.3M185.4 473.3L177.4 475.2M189.4 476.8L181.0 477.8M181.0 477.8L176.9 476.8M177.4 475.2L176.9 476.8M196.2 473.5L188.8 474.5M193.5 478.1L189.4 476.8M185.4 470.9L185.4 473.3M143.3 482.5L148.8 480.1M154.8 485.3L155.7 482.7M155.7 482.7L148.8 480.1M148.4 477.7L149.6 479.0M148.8 480.1L149.6 479.0M162.0 471.1L161.0 474.1M162.0 471.1L163.7 470.0M163.7 470.0L173.1 469.6M161.8 474.3L161.0 474.1M161.8 474.3L173.6 473.1M173.6 473.1L174.7 470.1M173.1 469.6L174.7 470.1M183.0 469.8L174.7 470.1M177.4 475.2L173.6 473.1M172.3 466.4L173.1 469.6M163.7 470.0L159.0 466.0M110.4 531.4L119.7 529.3M119.7 529.3L119.1 527.7M118.0 527.5L119.1 527.7M120.4 522.6L124.5 525.0M124.5 525.0L119.1 527.7M132.6 529.5L136.5 527.5M132.6 529.5L125.7 525.0M136.5 527.5L135.3 523.9M125.7 525.0L133.8 523.9M133.8 523.9L135.3 523.9M124.5 525.0L125.7 525.0M126.6 531.8L119.7 529.3M126.6 531.8L132.1 530.7M132.1 530.7L132.6 529.5M129.3 520.6L133.8 523.9M135.1 518.4L141.4 520.0M135.3 523.9L138.1 523.4M138.1 523.4L141.4 520.0M145.9 515.9L144.6 519.5M144.6 519.5L141.4 520.0M115.4 534.0L122.1 535.0M126.6 531.8L124.9 534.3M122.1 535.0L124.9 534.3M122.1 535.0L118.4 538.4M207.7 504.2L201.8 504.4M207.7 504.2L204.0 501.3M201.8 504.4L195.4 503.0M204.0 501.3L200.1 500.1M200.1 500.1L195.7 501.8M195.4 503.0L195.7 501.8M203.8 508.6L210.6 507.2M196.3 508.2L201.8 504.4M211.3 504.8L207.7 504.2M212.4 499.6L215.8 501.3M212.4 499.6L204.0 501.3M215.8 501.3L214.6 503.8M188.5 505.4L195.4 503.0M212.4 499.6L210.5 497.6M200.4 497.9L200.1 500.1M189.1 500.2L195.7 501.8M225.4 511.6L227.4 512.7M225.4 511.6L215.4 510.8M227.4 512.7L220.3 514.9M220.3 514.9L213.9 514.9M213.9 514.9L212.6 512.4M212.6 512.4L215.4 510.8M236.1 512.3L231.9 513.5M227.1 508.6L225.4 511.6M234.9 508.8L237.0 509.9M231.9 513.5L227.4 512.7M214.7 509.2L215.4 510.8M205.0 512.1L212.6 512.4M176.6 513.0L174.4 515.5M165.6 515.9L170.9 516.2M165.6 515.9L165.8 512.4M174.4 515.5L170.9 516.2M158.3 516.1L160.4 516.8M165.6 515.9L161.5 516.7M160.4 516.8L161.5 516.7M174.2 519.5L170.9 516.2M174.2 519.5L172.9 521.1M161.5 516.7L167.6 521.2M172.9 521.1L167.6 521.2M229.9 526.6L230.0 526.6M229.9 526.6L220.2 527.0M230.0 526.6L230.3 523.8M220.2 527.0L219.6 526.8M219.6 526.8L217.1 524.4M217.1 524.4L219.4 522.8M230.3 523.8L219.4 522.8M195.5 525.3L197.7 523.8M195.5 525.3L202.3 527.3M197.7 523.8L208.4 524.1M208.4 524.1L206.8 526.9M202.3 527.3L206.8 526.9M209.8 528.1L219.6 526.8M209.8 528.1L206.8 526.9M208.5 524.0L217.1 524.4M208.5 524.0L208.4 524.1M174.2 519.5L180.2 519.0M174.4 515.5L183.3 516.6M180.2 519.0L183.3 516.6M184.7 512.3L187.5 516.2M187.5 516.2L183.3 516.6M215.8 501.3L223.1 499.8M214.1 495.9L221.1 496.8M221.1 496.8L223.1 499.8M225.7 505.2L227.6 500.2M223.1 499.8L227.6 500.2M231.4 499.7L227.6 500.2M231.4 499.7L237.0 500.7M231.4 499.7L231.3 498.4M236.0 494.7L231.3 498.4M221.1 496.8L225.5 495.6M231.3 498.4L225.5 495.6M163.7 476.0L159.2 479.3M163.7 476.0L172.0 477.8M172.0 477.8L170.4 480.6M170.4 480.6L163.4 481.3M159.2 479.3L163.2 481.3M163.4 481.3L163.2 481.3M159.9 474.1L161.0 474.1M149.6 479.0L159.2 479.3M161.8 474.3L163.7 476.0M176.9 476.8L172.0 477.8M155.7 482.7L163.2 481.3M163.9 485.0L163.4 481.3M174.2 485.2L185.5 485.1M174.2 485.2L173.8 481.9M173.8 481.9L183.1 480.9M185.5 485.1L186.1 484.8M186.1 484.8L186.2 481.7M183.1 480.9L186.2 481.7M172.9 485.8L174.2 485.2M170.4 480.6L173.8 481.9M181.0 477.8L183.1 480.9M195.0 485.2L186.1 484.8M191.8 480.5L186.2 481.7M175.8 491.4L174.9 489.0M175.8 491.4L185.3 492.8M174.9 489.0L185.9 488.1M185.3 492.8L186.0 488.2M186.0 488.2L185.9 488.1M173.1 492.3L175.8 491.4M172.9 488.0L174.9 489.0M186.0 493.1L185.3 492.8M185.5 485.1L185.9 488.1M195.4 488.9L186.0 488.2M166.4 500.9L160.3 502.5M157.4 497.4L155.0 499.9M155.0 499.9L160.3 502.5M159.0 504.9L158.7 504.5M160.3 502.5L158.7 504.5M138.3 494.5L138.2 495.8M147.9 496.9L145.2 497.9M138.2 495.8L145.2 497.9M125.9 495.2L125.7 495.4M138.2 495.8L133.8 498.2M133.8 498.2L125.7 495.4M116.8 496.6L120.4 497.1M125.7 495.4L120.4 497.1M121.4 500.8L120.4 497.1M121.4 500.8L116.5 501.2M121.0 507.0L120.4 506.4M120.4 506.4L111.4 505.5M119.6 467.0L120.4 470.2M115.2 471.3L120.4 470.2M129.1 467.9L130.6 469.2M125.9 471.1L120.4 470.2M142.2 468.8L148.4 471.8M154.2 467.0L153.7 470.1M153.7 470.1L148.4 471.8M148.4 472.0L148.4 471.8M137.2 469.8L142.2 468.8M162.0 471.1L153.7 470.1M163.7 526.4L157.5 526.2M163.7 526.4L167.0 525.6M167.0 525.6L164.5 522.3M164.5 522.3L157.5 522.1M157.5 526.2L157.5 522.1M160.4 516.8L153.5 520.6M164.5 522.3L167.6 521.2M157.5 522.1L153.5 520.6M138.1 523.4L147.0 525.5M144.6 519.5L153.4 520.6M147.0 525.5L153.4 520.6M153.4 520.6L153.5 520.6M231.7 529.7L229.9 526.6M231.7 529.7L225.9 532.0M220.2 527.0L219.6 530.8M225.9 532.0L219.6 530.8M208.5 524.0L208.1 521.3M219.1 519.9L219.4 522.8M219.1 519.9L218.3 519.8M208.1 521.3L218.3 519.8M220.3 514.9L226.3 518.8M213.9 514.9L212.1 516.3M226.3 518.8L219.1 519.9M212.1 516.3L218.3 519.8M241.9 516.6L232.0 513.7M241.1 519.5L234.1 520.2M234.1 520.2L229.3 518.8M232.0 513.7L229.3 518.8M231.9 513.5L232.0 513.7M226.3 518.8L229.3 518.8M230.3 523.8L233.6 521.5M233.6 521.5L234.1 520.2M178.1 523.9L168.8 525.7M178.1 523.9L181.5 524.3M181.5 524.3L181.8 527.1M181.8 527.1L173.2 529.3M173.2 529.3L168.8 525.7M172.9 521.1L178.1 523.9M167.0 525.6L168.8 525.7M182.3 524.1L181.5 524.3M182.3 524.1L185.7 521.6M185.7 521.6L180.2 519.0M195.4 525.4L182.3 524.1M195.4 525.4L190.9 529.9M190.9 529.9L186.3 529.3M186.3 529.3L181.8 527.1M163.7 526.4L165.1 530.4M165.1 530.4L170.9 531.6M170.9 531.6L173.2 529.3M196.7 520.4L192.2 519.8M196.7 520.4L202.0 519.4M192.2 519.8L188.4 516.3M202.0 519.4L204.3 517.0M188.4 516.3L198.8 514.1M198.8 514.1L204.3 517.0M195.5 525.3L195.4 525.4M197.7 523.8L196.7 520.4M185.7 521.6L192.2 519.8M208.1 521.3L202.0 519.4M187.5 516.2L188.4 516.3M212.1 516.3L204.3 517.0M198.9 513.6L198.8 514.1M227.6 493.8L232.5 493.4M227.6 493.8L220.4 492.1M232.5 493.4L234.6 490.4M234.6 490.4L227.8 488.2M227.8 488.2L219.5 490.4M219.5 490.4L220.4 492.1M236.0 494.7L232.5 493.4M225.5 495.6L227.6 493.8M214.0 494.9L220.4 492.1M240.5 489.6L234.6 490.4M227.7 486.6L227.8 488.2M217.6 490.0L219.5 490.4M145.2 497.9L143.2 499.9M133.8 498.2L134.9 499.9M134.9 499.9L143.2 499.9M155.0 499.9L147.3 501.7M143.2 499.9L147.3 501.7M146.6 508.4L144.8 504.3M158.7 504.5L147.4 502.7M144.8 504.3L147.4 502.7M147.4 502.7L147.3 501.7M157.5 526.2L153.7 527.2M147.0 525.5L147.6 526.0M147.6 526.0L153.7 527.2M136.5 527.5L143.2 527.9M147.6 526.0L143.2 527.9M137.3 531.4L132.1 530.7M137.3 531.4L143.2 530.3M143.2 527.9L143.2 530.3M171.4 532.1L180.2 536.3M171.4 532.1L171.4 532.1M171.4 532.1L166.0 534.9M166.0 534.9L166.2 538.0M178.0 538.4L180.2 536.3M187.3 534.8L179.6 531.8M187.3 534.8L180.2 536.3M179.6 531.8L171.4 532.1M186.3 529.3L179.6 531.8M170.9 531.6L171.4 532.1M132.2 539.1L133.0 536.6M138.8 535.9L144.0 539.3M138.8 535.9L133.0 536.6M124.9 534.3L133.0 536.6M137.3 531.4L141.2 534.7M141.2 534.7L138.8 535.9M230.0 526.6L239.5 526.3M233.6 521.5L241.5 524.8M231.7 529.7L238.8 530.8M225.9 532.0L227.0 534.2M235.9 535.3L227.0 534.2M209.8 528.1L209.9 530.0M219.6 530.8L216.3 531.3M209.9 530.0L216.3 531.3M132.5 501.0L138.4 504.1M132.5 501.0L125.4 502.1M125.4 502.5L133.8 506.4M125.4 502.5L125.4 502.1M133.8 506.4L138.4 504.1M134.9 499.9L132.5 501.0M144.8 504.3L138.4 504.1M121.4 500.8L125.4 502.1M133.7 507.8L133.8 506.4M120.4 506.4L125.4 502.5M156.1 530.6L160.2 534.1M156.1 530.6L154.3 530.3M154.3 530.3L150.9 531.3M150.9 531.3L148.8 534.4M160.2 534.1L151.4 535.6M148.8 534.4L151.4 535.6M165.1 530.4L156.1 530.6M166.0 534.9L160.2 534.1M153.7 527.2L154.3 530.3M143.2 530.3L150.9 531.3M141.2 534.7L148.8 534.4M152.3 537.2L151.4 535.6M227.0 534.2L223.5 535.5M216.3 531.3L213.1 535.1M223.5 535.5L213.1 535.1M223.5 535.5L224.3 539.3M202.3 527.3L199.2 530.4M209.9 530.0L205.3 531.3M205.3 531.3L199.2 530.4M190.9 529.9L193.4 531.1M199.2 530.4L193.4 531.1M187.3 534.8L189.5 534.7M189.5 534.7L192.7 533.0M193.4 531.1L192.7 533.0M213.1 535.1L211.6 535.5M205.3 531.3L207.3 535.3M211.6 535.5L207.3 535.3M192.7 533.0L205.7 535.5M205.7 535.5L207.3 535.3M211.6 535.5L214.2 539.0M205.7 535.5L200.4 538.6M189.5 534.7L193.2 538.1" fill="none" stroke-width="2.0" stroke-linecap="round"/></g></g>
<path d="M178.5,479 L166,479 C150,480 142,492 128,497 C142,502 150,522 166,527 L178.5,527" fill="none" stroke="#c8d5f2" stroke-width="2.2"/>
<path d="M178.5,479 L192,479 C206,480 212,492 226,500 C212,508 206,522 190,527 L178.5,527" fill="none" stroke="#ee8156" stroke-width="2.2"/>
<clipPath id="c6"><path d="M173,721 C168,726 166,728 164,726 C158,736 148,742 138,741 C128,740 124,728 128,720 C130,716 134,714 137,712 C134,704 134,694 138,690 C148,686 162,686 172,692 C178,700 176,712 173,721 Z"/></clipPath>
<g clip-path="url(#c6)" stroke="#c8d5f2"><path d="M121.7 714.6L123.5 712.2M121.7 714.6L122.9 720.4M123.5 712.2L128.6 714.9M128.6 714.9L131.5 718.0M131.5 718.0L128.7 722.7M128.7 722.7L122.9 720.4M151.0 745.4L156.3 745.2M151.0 745.4L152.8 751.5M156.3 745.2L159.6 749.2M159.6 749.2L159.5 751.9M166.2 749.6L169.8 756.1M166.2 749.6L159.6 749.2M130.0 747.6L134.1 751.9M130.0 747.6L126.5 747.3M125.8 757.1L126.5 747.3M131.5 718.0L134.9 719.3M128.7 722.7L130.6 726.1M134.9 719.3L138.9 725.2M138.9 725.2L136.5 729.2M130.6 726.1L136.5 729.2M130.7 710.6L138.8 715.3M130.7 710.6L128.6 714.9M134.9 719.3L139.1 716.6M138.8 715.3L139.1 716.6M172.6 715.3L174.0 720.5M172.6 715.3L174.3 714.0M174.0 720.5L178.1 723.0M180.8 716.2L174.3 714.0M180.8 716.2L184.4 721.0M178.1 723.0L184.4 721.0M126.5 740.5L123.1 744.5M126.5 740.5L128.2 740.9M130.0 747.6L130.5 745.1M126.5 747.3L123.1 744.5M128.2 740.9L130.5 745.1M123.1 744.5L118.9 742.9M28.4 879.9L118.9 742.9M130.6 726.1L127.8 729.0M136.5 729.2L137.2 730.5M136.0 732.9L137.2 730.5M136.0 732.9L132.5 734.1M127.8 729.0L132.5 734.1M135.8 740.7L132.4 738.2M135.8 740.7L140.2 739.1M140.2 739.1L136.0 732.9M132.5 734.1L132.4 738.2M122.9 720.4L120.6 721.5M127.8 729.0L122.8 728.3M120.6 721.5L122.8 728.3M118.9 742.9L117.1 738.4M113.7 736.2L117.1 738.4M126.5 740.5L120.6 736.3M117.1 738.4L120.6 736.3M191.6 685.9L183.8 682.8M183.8 682.8L181.9 678.6M181.9 678.6L186.7 676.3M176.0 681.4L178.9 684.9M176.0 681.4L178.7 676.4M183.8 682.8L180.5 685.1M178.7 676.4L181.9 678.6M180.5 685.1L178.9 684.9M180.5 685.1L185.6 689.8M172.6 715.3L166.2 712.4M166.2 712.4L165.3 705.0M174.3 714.0L173.5 711.1M173.5 711.1L165.3 705.0M176.4 756.7L172.3 748.9M178.3 750.2L173.7 747.3M172.3 748.9L173.7 747.3M166.2 749.6L166.8 748.4M166.8 748.4L172.3 748.9M156.3 745.2L156.3 745.2M166.8 748.4L164.1 743.8M156.3 745.2L161.6 741.8M164.1 743.8L161.6 741.8M190.4 718.1L184.6 721.1M187.3 724.5L184.6 721.1M174.0 720.5L169.8 723.1M178.1 723.0L179.5 725.7M169.8 723.1L175.1 729.3M175.1 729.3L177.3 729.8M177.3 729.8L179.5 725.7M184.4 721.0L184.6 721.1M179.5 725.7L186.9 730.5M165.5 717.1L168.6 722.8M165.5 717.1L159.4 716.2M168.6 722.8L164.1 724.0M164.1 724.0L161.1 722.3M161.1 722.3L159.2 719.4M159.4 716.2L159.2 719.4M166.2 712.4L164.9 712.6M164.9 712.6L165.5 717.1M169.8 723.1L168.6 722.8M164.9 712.6L158.1 709.7M157.2 710.0L158.1 709.7M157.2 710.0L159.4 716.2M167.9 731.2L173.3 733.1M167.9 731.2L165.8 728.9M175.1 729.3L173.3 733.1M165.8 728.9L164.1 724.0M150.9 712.7L152.5 708.5M150.9 712.7L153.2 716.2M153.2 716.2L159.2 719.4M152.5 708.5L157.2 710.0M163.3 689.6L166.3 693.0M163.3 689.6L158.5 687.7M166.3 693.0L160.4 695.1M157.3 692.8L156.3 688.8M157.3 692.8L160.4 695.1M158.5 687.7L156.3 688.8M148.0 691.4L149.8 684.6M148.0 691.4L152.3 694.9M152.3 694.9L157.3 692.8M156.3 688.8L149.8 684.6M121.7 714.6L115.6 713.7M123.5 712.2L120.9 708.3M120.9 708.3L116.7 706.5M145.5 737.8L144.9 735.7M145.5 737.8L153.5 740.5M144.9 735.7L147.7 732.4M153.5 740.5L154.2 736.7M154.2 736.7L150.0 732.8M147.7 732.4L150.0 732.8M140.2 739.1L145.0 740.1M145.0 740.1L145.5 737.8M137.2 730.5L144.9 735.7M146.6 742.8L145.0 740.1M146.6 742.8L151.0 745.4M156.3 745.2L153.5 740.5M138.9 725.2L142.8 726.5M142.8 726.5L147.7 732.4M159.9 738.0L161.6 741.8M159.9 738.0L154.2 736.7M158.4 730.9L157.8 730.3M158.4 730.9L161.2 735.6M161.2 735.6L159.9 738.0M150.0 732.8L153.1 728.2M153.1 728.2L157.8 730.3M158.4 730.9L165.8 728.9M161.1 722.3L158.7 723.2M157.8 730.3L158.7 723.2M120.6 721.5L116.2 719.1M120.6 736.0L116.6 730.8M120.6 736.0L124.2 732.7M116.6 730.8L119.6 727.8M124.2 732.7L122.8 728.3M119.6 727.8L122.8 728.3M120.6 736.3L120.6 736.0M128.2 740.9L130.8 738.1M130.8 738.1L124.2 732.7M111.9 722.9L119.6 727.8M132.4 738.2L130.8 738.1M122.8 728.3L122.8 728.3M164.0 702.7L158.6 704.5M164.0 702.7L152.7 696.0M158.6 704.5L152.3 699.3M152.7 696.0L152.3 699.3M158.1 709.7L158.6 704.5M165.3 705.0L164.1 702.7M164.1 702.7L164.0 702.7M152.3 694.9L152.7 696.0M160.4 695.1L164.6 701.9M164.1 702.7L164.6 701.9M180.0 692.0L177.7 686.7M180.0 692.0L179.3 693.9M179.3 693.9L171.9 691.7M177.7 686.7L171.6 686.2M171.6 686.2L170.9 688.9M170.9 688.9L171.9 691.7M178.9 684.9L177.7 686.7M185.9 693.1L180.0 692.0M185.1 699.9L181.2 697.2M181.2 697.2L179.3 693.9M164.6 686.1L170.9 688.9M164.6 686.1L163.3 689.6M170.2 695.1L171.9 691.7M170.2 695.1L166.3 693.0M181.2 697.2L177.6 699.2M170.2 695.1L170.4 695.6M170.4 695.6L177.6 699.2M164.6 701.9L170.2 701.5M170.4 695.6L170.2 701.5M173.5 711.1L175.2 705.7M170.2 701.5L175.2 705.7M182.4 706.3L187.1 710.4M182.4 706.3L180.5 705.9M180.5 705.9L178.6 706.6M178.6 706.6L181.7 714.0M181.7 714.0L187.1 714.2M185.6 702.6L182.4 706.3M177.6 699.2L180.5 705.9M175.2 705.7L178.6 706.6M180.8 716.2L181.7 714.0M173.4 745.6L174.9 742.5M173.4 745.6L167.8 742.6M167.8 742.6L166.2 736.9M173.6 740.6L167.0 736.8M173.6 740.6L174.9 742.5M167.0 736.8L166.2 736.9M173.7 747.3L173.4 745.6M164.1 743.8L167.8 742.6M161.2 735.6L166.2 736.9M174.5 734.9L173.6 740.6M174.5 734.9L173.3 733.1M167.9 731.2L167.0 736.8M174.5 734.9L180.5 737.8M180.5 737.8L181.5 742.5M174.9 742.5L180.6 744.1M180.6 744.1L181.5 742.5M158.5 687.7L157.6 681.9M148.9 683.4L149.4 679.0M148.9 683.4L149.8 684.6M149.4 679.0L157.6 681.9M176.0 681.4L170.6 677.8M171.6 686.2L168.0 681.3M168.0 681.3L170.6 677.8M169.0 673.6L170.6 677.8M145.9 712.4L142.5 708.0M145.9 712.4L145.5 713.5M139.0 713.7L145.5 713.5M139.0 713.7L135.7 706.7M135.7 706.7L137.9 706.2M142.5 708.0L137.9 706.2M130.7 710.6L130.2 707.6M138.8 715.3L139.0 713.7M135.7 706.7L134.5 706.1M130.2 707.6L134.5 706.1M120.9 708.3L123.3 704.0M130.2 707.6L123.3 704.0M142.2 672.9L138.5 677.3M142.6 672.9L148.8 677.9M148.9 683.4L143.7 682.3M148.8 677.9L149.4 679.0M138.5 677.3L143.7 682.3M130.8 669.7L136.5 677.1M138.5 677.3L136.5 677.1M146.3 691.1L141.7 686.0M146.3 691.1L148.0 691.4M143.7 682.3L141.7 686.0M122.7 673.7L126.1 679.0M115.0 675.7L121.4 680.6M126.1 679.0L121.4 680.6M138.0 752.9L138.5 746.4M138.5 746.4L138.7 746.1M138.7 746.1L144.1 747.9M144.1 747.9L147.2 751.4M130.5 745.1L138.5 746.4M135.8 740.7L138.7 746.1M146.6 742.8L144.1 747.9M152.3 727.0L154.4 722.3M152.3 727.0L146.7 722.6M146.1 721.3L148.1 718.7M146.1 721.3L146.7 722.6M148.1 718.7L151.2 719.2M151.2 719.2L154.4 722.3M153.1 728.2L152.3 727.0M158.7 723.2L154.4 722.3M142.8 726.5L146.7 722.6M139.1 716.6L146.1 721.3M145.5 713.5L148.1 718.7M150.9 712.7L145.9 712.4M153.2 716.2L151.2 719.2M148.8 677.9L151.6 674.8M183.7 748.9L183.7 748.3M183.7 748.9L186.7 754.5M183.7 748.3L190.1 748.3M178.3 750.2L183.7 748.9M180.6 744.1L183.7 748.3M181.5 742.5L189.2 743.5M189.9 742.2L183.4 735.9M187.4 731.5L183.2 734.4M183.4 735.9L183.2 734.4M180.5 737.8L183.4 735.9M177.3 729.8L183.2 734.4M159.0 677.8L160.4 680.4M159.0 677.8L158.6 674.4M162.0 672.8L166.5 680.9M166.5 680.9L161.3 680.8M161.3 680.8L160.4 680.4M151.6 674.8L159.0 677.8M157.6 681.9L160.4 680.4M168.0 681.3L166.5 680.9M164.6 686.1L161.3 680.8M149.7 705.6L149.7 700.6M149.7 705.6L146.4 704.8M146.4 704.8L138.5 698.1M149.7 700.6L144.7 696.8M144.7 696.8L138.2 697.7M138.5 698.1L138.2 697.7M152.5 708.5L149.7 705.6M152.3 699.3L149.7 700.6M142.5 708.0L146.4 704.8M137.9 706.2L138.5 698.1M146.3 691.1L144.2 692.6M144.2 692.6L144.7 696.8M123.3 704.0L122.5 701.8M122.5 701.8L115.8 696.5M136.9 686.4L129.7 684.4M136.9 686.4L137.6 684.8M137.6 684.8L134.0 679.6M127.7 679.8L129.7 684.4M127.7 679.8L131.9 679.1M131.9 679.1L134.0 679.6M141.7 686.0L137.6 684.8M137.5 690.2L144.2 692.6M137.5 690.2L136.9 686.4M136.5 677.1L134.0 679.6M126.4 670.0L131.9 679.1M126.1 679.0L127.7 679.8M137.5 690.2L135.3 692.3M138.2 697.7L137.1 696.7M137.1 696.7L135.3 692.3M129.7 684.4L129.6 688.4M135.3 692.3L129.6 688.4M121.7 682.9L129.1 688.4M121.7 682.9L121.4 680.6M129.1 688.4L129.6 688.4M115.1 695.6L117.5 692.3M117.5 692.3L114.4 687.2M121.7 682.9L119.5 685.2M116.0 684.3L119.5 685.2M118.1 692.3L123.1 690.3M118.1 692.3L126.7 698.6M126.7 698.6L128.6 698.4M125.5 691.5L128.9 697.5M125.5 691.5L123.1 690.3M128.6 698.4L128.9 697.5M117.5 692.3L118.1 692.3M119.5 685.2L123.1 690.3M122.5 701.8L126.7 698.6M134.5 706.1L128.6 698.4M137.1 696.7L128.9 697.5M129.1 688.4L125.5 691.5" fill="none" stroke-width="1.8" stroke-linecap="round"/></g>
<path d="M173,721 C168,726 166,728 164,726 C158,736 148,742 138,741 C128,740 124,728 128,720 C130,716 134,714 137,712 C134,704 134,694 138,690 C148,686 162,686 172,692 C178,700 176,712 173,721 Z" fill="none" stroke="#c8d5f2" stroke-width="1.8"/>
<clipPath id="c7"><path d="M176,738 L186,738 C198,748 210,760 210,780 C208,796 196,803 180,803 C162,802 146,794 142,778 C140,762 152,753 167,753 C172,750 174,744 176,738 Z"/></clipPath>
<clipPath id="int_or"><path d="M196,745 L215,745 L215,808 L178,808 C180,795 186,786 192,775 C195,768 196,756 196,745 Z"/></clipPath>
<clipPath id="int_bl"><path d="M100,700 L196,700 L196,745 C196,756 195,768 192,775 C186,786 180,795 178,808 L100,808 Z"/></clipPath>
<g clip-path="url(#c7)"><g clip-path="url(#int_bl)" stroke="#c8d5f2"><path d="M211.8 809.4L213.5 810.3M211.8 809.4L205.7 801.3M213.5 810.3L216.5 805.9M216.5 805.9L214.5 802.0M214.5 802.0L208.2 798.4M208.2 798.4L205.7 801.3M132.7 752.4L136.1 751.0M136.1 751.0L136.0 750.5M136.0 750.5L128.0 742.6M136.0 750.5L136.9 745.3M128.6 739.8L135.6 743.4M136.9 745.3L135.6 743.4M208.3 810.6L209.1 817.1M208.3 810.6L201.9 808.0M201.9 808.0L200.9 810.5M200.9 810.5L206.9 817.7M216.5 805.9L221.7 808.0M214.5 802.0L215.9 798.4M215.9 798.4L222.6 800.5M136.1 751.0L139.4 753.9M143.6 747.1L136.9 745.3M143.6 747.1L144.4 749.7M144.4 749.7L139.4 753.9M189.7 781.2L182.3 774.7M189.7 781.2L190.4 781.1M190.4 781.1L191.9 778.2M191.9 778.2L189.6 773.7M189.6 773.7L183.9 769.5M183.9 769.5L183.1 770.3M182.3 774.7L183.1 770.3M136.3 725.0L137.5 730.2M106.0 702.4L135.4 732.7M137.5 730.2L135.4 732.7M131.6 734.0L135.2 734.0M135.6 743.4L136.5 736.2M136.5 736.2L135.2 734.0M135.4 732.7L135.2 734.0M211.8 809.4L208.3 810.6M213.5 810.3L215.0 812.8M202.6 782.1L208.2 784.4M202.6 782.1L203.9 774.9M203.9 774.9L210.0 781.8M208.2 784.4L210.0 781.8M208.2 798.4L206.7 792.6M206.7 792.6L211.2 791.2M215.9 798.4L212.6 791.9M211.2 791.2L212.6 791.9M212.6 791.9L217.5 790.6M222.5 793.9L217.5 790.6M208.2 784.4L211.2 791.2M211.1 781.8L210.0 781.8M211.1 781.8L216.5 787.6M216.5 787.6L217.5 790.6M198.0 776.6L192.9 778.6M198.0 776.6L202.5 782.1M192.9 778.6L199.9 784.8M202.5 782.1L200.8 784.9M200.8 784.9L199.9 784.8M196.2 789.0L199.9 784.8M196.2 789.0L190.4 781.1M191.9 778.2L192.9 778.6M206.7 792.6L206.2 792.3M206.2 792.3L200.8 784.9M202.6 782.1L202.5 782.1M220.3 725.7L216.3 729.8M216.3 729.8L219.6 734.3M217.9 736.9L219.6 734.3M217.9 736.9L220.7 743.4M211.8 735.3L209.1 727.4M211.8 735.3L217.9 736.9M216.3 729.8L211.4 725.4M211.8 735.3L210.7 736.6M220.7 743.4L215.4 744.6M215.4 744.6L211.3 738.7M211.3 738.7L210.7 736.6M161.8 753.8L159.3 754.3M161.8 753.8L163.8 748.3M155.7 747.7L158.9 754.0M155.7 747.7L156.2 742.0M158.9 754.0L159.3 754.3M156.2 742.0L163.8 748.3M169.4 764.3L171.3 762.7M169.4 764.3L168.5 768.9M171.3 762.7L175.7 768.1M168.5 768.9L175.8 772.2M175.8 772.2L175.7 768.1M161.3 759.5L169.4 764.3M161.3 759.5L159.3 754.3M170.1 759.4L171.3 761.9M170.1 759.4L161.8 753.8M171.3 761.9L171.3 762.7M182.3 774.7L179.1 777.9M183.1 770.3L175.7 768.1M179.1 777.9L175.8 772.2M200.9 810.5L199.4 810.7M199.4 810.7L198.6 818.4M199.4 810.7L195.2 808.4M198.6 818.4L191.1 811.0M195.2 808.4L191.1 811.0M189.6 773.7L194.4 769.7M198.0 776.6L197.1 770.9M194.4 769.7L197.1 770.9M203.9 774.9L203.1 772.9M203.1 772.9L199.7 770.4M197.1 770.9L199.7 770.4M177.8 761.9L175.8 755.3M177.8 761.9L182.8 765.3M182.8 765.3L185.6 761.4M175.8 755.3L180.8 755.7M185.6 761.4L183.0 757.0M183.0 757.0L180.8 755.7M170.1 759.4L170.8 750.9M171.3 761.9L177.8 761.9M170.8 750.9L175.8 755.3M183.9 769.5L182.8 765.3M194.4 769.7L188.7 762.3M188.7 762.3L185.6 761.4M176.7 748.4L171.5 747.8M176.7 748.4L180.8 755.7M170.8 750.9L169.8 748.8M171.5 747.8L169.8 748.8M163.8 748.3L168.2 747.8M168.2 747.8L169.8 748.8M149.2 741.0L144.5 735.3M149.2 741.0L148.0 744.9M144.5 735.3L142.2 740.9M148.0 744.9L147.5 745.2M147.5 745.2L144.9 744.8M144.9 744.8L142.2 740.9M155.7 747.7L148.0 744.9M156.2 742.0L154.8 739.4M154.8 739.3L154.8 739.4M154.8 739.3L149.2 741.0M143.9 733.3L144.5 735.3M143.9 733.3L137.5 730.2M136.5 736.2L142.2 740.9M158.9 754.0L155.2 754.0M155.2 754.0L153.1 753.1M153.1 753.1L147.5 745.2M143.6 747.1L144.9 744.8M144.4 749.7L148.3 755.6M148.3 755.6L153.1 753.1M204.9 801.1L198.4 793.0M204.9 801.1L200.9 803.8M200.9 803.8L197.2 800.8M197.2 800.8L195.9 792.0M198.4 793.0L196.3 791.8M196.3 791.8L195.9 792.0M206.2 792.3L198.4 793.0M205.7 801.3L204.9 801.1M201.9 808.0L200.9 803.8M195.2 808.4L190.4 800.0M190.4 800.0L197.2 800.8M196.2 789.0L196.3 791.8M224.4 786.1L218.1 784.3M220.9 778.3L215.0 778.5M215.0 778.5L218.1 784.3M216.5 787.6L218.1 784.3M213.4 777.6L215.0 778.5M213.4 777.6L211.1 781.8M210.7 736.6L204.1 734.0M203.5 728.3L204.1 734.0M162.9 792.6L165.6 793.4M162.9 792.6L156.9 784.4M165.6 793.4L166.4 790.6M166.4 790.6L163.0 784.5M163.0 784.5L156.9 784.4M167.5 781.8L163.0 783.5M167.5 781.8L167.9 778.5M158.5 776.7L163.0 783.5M158.5 776.7L161.4 774.0M167.9 778.5L161.4 774.0M157.2 801.2L163.2 807.3M157.2 801.2L155.3 805.9M160.1 812.8L155.3 805.9M162.5 812.8L163.2 807.3M156.6 799.5L157.2 801.2M156.6 799.5L160.1 798.6M160.1 798.6L165.9 802.0M165.9 802.0L166.9 805.2M163.2 807.3L166.9 805.2M139.4 753.9L142.7 759.1M142.7 759.1L147.3 760.4M148.3 755.6L148.7 759.2M147.3 760.4L148.7 759.2M155.2 754.0L155.2 762.0M148.7 759.2L155.2 762.0M191.1 811.0L191.0 810.9M189.7 812.8L191.0 810.9M162.9 792.6L159.3 792.6M165.6 793.4L167.4 797.1M159.3 792.6L160.1 798.6M165.9 802.0L167.4 797.3M167.4 797.1L167.4 797.3M199.7 770.4L198.7 762.9M188.7 762.3L190.5 760.6M190.5 760.6L198.7 762.9M168.0 725.9L173.5 729.2M176.0 724.5L173.5 729.2M147.4 731.1L149.4 732.8M147.4 731.1L145.6 725.2M149.4 732.8L153.7 730.5M153.7 730.5L154.2 726.8M143.9 733.3L147.4 731.1M154.8 739.3L149.4 732.8M154.8 739.4L156.7 738.3M168.2 747.8L164.1 740.1M164.1 740.1L156.7 738.3M153.7 730.5L156.9 735.5M156.7 738.3L156.9 735.5M176.0 724.5L182.3 729.8M182.3 729.8L182.3 723.1M154.0 813.0L148.7 808.7M148.7 808.7L132.1 829.0M167.5 781.8L172.2 787.9M172.2 787.9L173.9 781.3M171.2 777.4L167.9 778.5M171.2 777.4L173.1 778.6M173.1 778.6L173.9 781.3M179.1 777.9L179.1 778.4M168.5 768.9L167.8 769.7M171.2 777.4L167.8 769.7M173.1 778.6L179.1 778.4M202.4 762.6L206.9 759.2M202.4 762.6L209.7 771.9M206.9 759.2L211.1 764.5M211.1 764.5L211.5 770.0M211.5 770.0L209.9 771.9M209.9 771.9L209.7 771.9M203.1 772.9L209.7 771.9M199.2 762.2L198.7 762.9M199.2 762.2L202.4 762.6M213.4 777.6L209.9 771.9M219.8 773.1L211.5 770.0M208.3 747.2L207.5 748.2M208.3 747.2L206.5 743.8M207.5 748.2L202.5 747.5M206.5 743.8L203.1 740.1M202.5 747.5L199.0 742.6M203.1 740.1L199.0 742.6M207.3 756.6L206.5 757.3M207.3 756.6L207.5 748.2M206.5 757.3L200.5 752.5M200.5 752.5L199.8 750.1M199.8 750.1L202.5 747.5M211.3 738.7L206.5 743.8M204.1 734.0L201.2 735.4M201.2 735.4L203.1 740.1M152.8 788.7L152.6 784.9M152.8 788.7L159.3 792.6M156.9 784.4L153.8 783.3M152.6 784.9L153.8 783.3M158.5 776.7L153.7 775.0M153.7 775.0L152.8 776.0M163.0 784.5L163.0 783.5M153.8 783.3L152.8 776.0M160.6 763.4L163.9 768.1M160.6 763.4L155.6 762.4M163.9 768.1L160.8 771.4M155.6 762.4L156.6 767.6M160.8 771.4L156.6 767.6M161.3 759.5L160.6 763.4M167.8 769.7L163.9 768.1M155.2 762.0L155.6 762.4M161.4 774.0L160.8 771.4M147.3 760.4L150.8 768.1M150.8 768.1L151.5 768.9M151.5 768.9L156.6 767.6M153.7 775.0L151.5 768.9M169.6 807.4L173.1 813.9M169.6 807.4L175.4 805.6M178.1 810.0L174.9 815.2M178.1 810.0L176.6 805.9M176.6 805.9L175.4 805.6M166.9 805.2L169.6 807.4M167.4 797.3L175.4 805.6M152.6 784.9L145.1 779.1M152.8 776.0L144.9 773.4M144.9 773.4L144.0 776.0M145.1 779.1L144.0 776.0M155.3 805.9L150.4 803.5M148.7 808.7L147.6 805.1M150.4 803.5L147.6 805.1M121.8 808.4L145.9 803.7M147.6 805.1L145.9 803.7M184.2 814.7L178.1 810.0M132.1 761.4L133.2 763.5M132.1 761.4L134.4 759.1M133.2 763.5L138.7 767.7M134.4 759.1L141.1 761.1M141.1 761.1L142.4 768.0M138.7 767.7L142.3 768.5M142.4 768.0L142.3 768.5M132.1 769.5L133.2 763.5M132.7 752.4L134.4 759.1M132.1 769.5L135.2 774.3M135.2 774.3L136.7 773.9M136.7 773.9L138.7 767.7M142.7 759.1L141.1 761.1M150.8 768.1L142.4 768.0M144.9 773.4L142.3 768.5M144.0 776.0L136.7 773.9M121.8 808.4L139.4 796.9M131.2 789.6L136.5 791.0M136.5 791.0L139.4 796.9M145.9 803.7L142.1 798.2M139.4 796.9L142.1 798.2M190.5 760.6L190.1 755.2M199.2 762.2L196.1 756.0M190.1 755.2L196.1 756.0M206.5 757.3L206.9 759.2M200.5 752.5L196.3 754.0M196.3 754.0L196.1 756.0M173.5 729.2L175.2 732.3M175.2 732.3L177.6 733.4M182.3 729.8L182.9 730.6M177.6 733.4L182.9 730.6M165.0 736.9L164.7 736.9M165.0 736.9L167.0 731.0M164.7 736.9L159.5 730.7M161.7 726.5L159.1 729.5M159.1 729.5L159.5 730.7M167.0 731.0L165.4 727.7M171.7 739.2L171.5 747.8M171.7 739.2L165.0 736.9M164.1 740.1L164.7 736.9M173.5 738.3L173.2 737.0M173.5 738.3L171.7 739.2M173.2 737.0L167.0 731.0M156.9 735.5L159.5 730.7M154.2 726.8L159.1 729.5M173.2 737.0L175.2 732.3M190.4 800.0L188.4 798.6M191.0 810.9L186.5 804.9M188.4 798.6L186.5 804.9M185.3 812.5L181.6 804.9M186.5 804.9L181.6 804.9M176.6 805.9L179.2 803.3M181.6 804.9L179.2 803.3M167.4 797.1L177.5 799.2M179.2 803.3L177.5 799.2M177.5 790.7L177.9 798.1M177.5 790.7L172.3 788.1M170.0 790.6L172.3 788.1M170.0 790.6L177.5 798.8M177.5 798.8L177.9 798.1M172.2 787.9L172.3 788.1M173.9 781.3L179.8 789.9M179.8 789.9L177.5 790.7M166.4 790.6L170.0 790.6M177.5 799.2L177.5 798.8M188.4 798.6L188.0 798.0M188.0 798.0L177.9 798.1M186.6 784.4L179.5 778.8M186.6 784.4L188.7 790.3M179.5 778.8L181.2 790.2M188.7 790.3L186.5 793.5M186.5 793.5L181.2 790.2M189.7 781.2L186.6 784.4M179.1 778.4L179.5 778.8M195.9 792.0L188.7 790.3M179.8 789.9L181.2 790.2M188.0 798.0L186.5 793.5M207.3 756.6L212.6 757.5M211.1 764.5L218.6 765.3M212.6 757.5L218.6 765.3M220.5 768.9L218.6 765.3M218.6 765.3L219.8 763.6M218.6 765.3L218.6 765.3M221.9 753.2L214.9 749.8M224.2 757.5L218.2 758.3M214.4 749.9L215.2 754.4M214.4 749.9L214.9 749.8M215.2 754.4L218.2 758.3M215.4 744.6L214.9 749.8M219.8 763.6L218.2 758.3M208.3 747.2L214.4 749.9M212.6 757.5L215.2 754.4M139.1 781.7L135.0 776.4M139.1 781.7L138.5 787.5M138.5 787.5L138.2 787.5M138.2 787.5L130.1 781.6M132.4 776.8L135.0 776.4M142.5 782.4L139.1 781.7M142.5 782.4L145.1 779.1M135.2 774.3L135.0 776.4M136.5 791.0L138.2 787.5M141.9 789.9L144.5 795.3M141.9 789.9L148.1 789.3M144.5 795.3L150.0 797.0M150.0 797.0L151.9 795.3M151.9 795.3L150.9 790.8M150.9 790.8L148.1 789.3M142.1 798.2L144.5 795.3M138.5 787.5L141.9 789.9M142.5 782.4L148.1 789.3M150.4 803.5L150.0 797.0M156.6 799.5L151.9 795.3M152.8 788.7L150.9 790.8M199.8 750.1L195.1 744.3M199.0 742.6L197.3 742.3M195.1 744.3L197.3 742.3M196.3 754.0L192.0 748.8M195.1 744.3L193.2 743.7M192.0 748.8L193.2 743.7M189.2 728.4L187.9 733.8M187.9 733.8L195.0 736.5M195.0 736.5L199.4 734.2M191.4 726.5L195.9 729.5M199.4 734.2L195.9 729.5M182.9 730.6L187.6 734.0M187.6 734.0L187.9 733.8M197.3 742.3L195.0 736.5M187.6 734.0L188.0 738.2M193.2 743.7L188.0 738.2M201.2 735.4L199.4 734.2M198.4 726.1L195.9 729.5M183.2 740.2L184.3 740.5M183.2 740.2L178.3 742.6M184.3 740.5L187.7 748.4M179.5 746.4L178.3 742.6M179.5 746.4L184.6 750.6M187.7 748.4L186.4 750.7M184.6 750.6L186.4 750.7M177.6 733.4L183.2 740.2M188.0 738.2L184.3 740.5M173.5 738.3L178.3 742.6M192.0 748.8L187.7 748.4M176.7 748.4L179.5 746.4M183.0 757.0L184.6 750.6M190.1 755.2L186.4 750.7" fill="none" stroke-width="1.9" stroke-linecap="round"/></g><g clip-path="url(#int_or)" stroke="#ee8156"><path d="M155.9 811.6L154.2 807.0M154.2 807.0L148.4 813.7M154.3 806.7L154.2 807.0M154.3 806.7L151.6 804.6M151.6 804.6L147.1 806.3M147.1 806.3L146.8 813.9M143.0 807.3L140.9 812.8M143.0 807.3L146.4 806.2M146.4 806.2L147.1 806.3M174.3 773.1L172.6 778.6M174.3 773.1L179.6 771.9M172.6 778.6L177.2 778.6M177.2 778.6L181.5 776.3M181.5 776.3L181.5 776.2M181.5 776.2L179.6 771.9M150.8 775.8L153.6 775.1M150.8 775.8L147.6 783.2M155.1 781.2L147.6 783.2M155.1 781.2L155.3 779.6M153.6 775.1L155.3 779.6M134.9 774.4L140.2 772.6M134.9 774.4L133.0 780.1M140.2 772.6L142.7 777.6M142.7 777.6L141.3 780.2M141.3 780.2L136.0 782.0M133.0 780.1L136.0 782.0M137.5 788.9L134.8 793.3M137.5 788.9L133.3 787.1M134.8 793.3L129.5 792.5M133.3 787.1L129.9 788.9M151.6 804.6L155.2 797.7M154.2 797.2L155.2 797.7M154.2 797.2L148.1 797.5M146.4 806.2L147.5 798.5M147.5 798.5L148.1 797.5M140.1 806.6L140.3 803.3M140.1 806.6L143.0 807.3M147.5 798.5L140.3 803.3M134.8 793.3L135.0 796.0M131.1 799.5L133.2 798.4M133.2 798.4L135.0 796.0M133.3 787.1L136.0 782.0M218.6 740.9L218.8 740.8M218.6 740.9L214.6 744.2M214.6 744.2L216.2 748.8M216.2 748.8L221.4 744.5M221.4 744.5L218.8 740.8M137.3 747.2L140.4 744.6M137.3 747.2L135.3 751.3M140.4 744.6L143.3 750.2M136.0 752.6L135.3 751.3M136.0 752.6L142.5 751.5M142.5 751.5L143.3 750.2M174.3 773.1L174.0 772.7M172.6 778.6L169.2 781.4M169.2 781.4L164.9 779.0M164.9 779.0L168.5 772.2M174.0 772.7L168.5 772.2M179.6 771.9L183.1 767.5M183.1 767.5L181.3 764.3M174.0 772.7L176.3 768.1M181.3 764.3L176.3 768.1M218.6 740.9L215.1 737.5M219.8 732.0L217.2 733.6M218.8 740.8L226.1 734.1M215.1 737.5L217.2 733.6M214.6 744.2L210.9 745.4M215.1 737.5L208.9 740.8M210.9 745.4L208.9 740.8M159.1 782.3L164.5 787.0M159.1 782.3L157.0 783.2M157.0 783.2L154.9 787.5M161.2 789.2L164.5 787.0M161.2 789.2L155.9 788.5M155.9 788.5L154.9 787.5M169.2 781.4L168.2 785.5M164.9 779.0L162.6 779.7M162.6 779.7L159.1 782.3M168.2 785.5L164.5 787.0M162.6 779.7L160.9 774.5M155.1 781.2L157.0 783.2M160.9 774.5L155.3 779.6M158.1 796.9L155.2 797.7M158.1 796.9L159.5 795.4M154.2 797.2L155.9 788.5M159.5 795.4L161.2 789.2M148.1 797.5L146.5 793.7M154.9 787.5L149.8 790.0M149.8 790.0L146.5 793.7M140.3 803.3L138.5 801.7M138.5 801.7L143.3 794.1M146.5 793.7L143.3 794.1M133.2 798.4L136.8 802.0M135.0 796.0L143.0 794.0M136.8 802.0L138.5 801.7M143.0 794.0L143.3 794.1M148.6 774.7L150.1 768.8M148.6 774.7L142.7 777.6M140.2 772.6L142.7 769.4M150.1 768.8L148.5 766.9M142.7 769.4L148.5 766.9M335.3 921.6L212.4 806.1M209.4 807.0L212.4 806.1M209.4 807.0L208.1 808.4M213.8 840.0L208.1 808.4M213.7 795.9L212.9 793.0M213.7 795.9L213.7 797.6M213.7 797.6L209.6 800.2M209.6 800.2L206.2 798.4M212.9 793.0L208.2 794.8M208.2 794.8L206.2 798.4M216.2 798.7L213.7 797.6M216.2 798.7L216.4 801.6M216.4 801.6L212.4 806.1M208.2 803.5L209.4 807.0M208.2 803.5L209.6 800.2M200.5 804.1L202.5 800.4M200.5 804.1L208.2 803.5M202.5 800.4L206.2 798.4M216.2 798.7L221.8 794.0M213.7 795.9L221.8 791.0M214.7 751.3L210.4 752.0M214.7 751.3L216.1 752.8M216.1 752.8L212.6 757.9M210.4 752.0L206.8 760.0M212.6 757.9L207.0 760.3M207.0 760.3L206.8 760.0M216.2 748.8L214.7 751.3M210.9 745.4L208.2 750.4M208.2 750.4L210.4 752.0M215.3 773.1L212.4 779.0M215.3 773.1L212.8 771.1M212.8 771.1L209.2 772.2M208.9 779.7L212.4 779.0M208.9 779.7L206.9 774.9M206.9 774.9L209.2 772.2M221.2 763.8L214.7 766.7M214.7 766.7L212.8 771.1M215.3 773.1L219.8 771.5M136.0 752.6L133.3 759.3M135.3 751.3L129.5 751.9M133.3 759.3L129.8 760.8M168.5 772.2L167.8 770.7M176.3 768.1L171.9 765.8M171.9 765.8L171.5 765.9M167.8 770.7L171.5 765.9M160.9 774.5L162.0 770.8M167.8 770.7L162.0 770.8M181.5 776.2L187.5 772.6M183.1 767.5L187.3 767.5M187.3 767.5L187.9 771.1M187.5 772.6L187.9 771.1M199.0 769.7L202.5 771.5M199.0 769.7L205.0 763.7M202.5 771.5L206.7 769.1M206.7 769.1L208.3 765.0M208.3 765.0L206.3 762.9M206.3 762.9L205.0 763.7M196.5 764.0L205.0 763.7M196.5 764.0L196.1 767.1M196.1 767.1L197.4 770.1M197.4 770.1L199.0 769.7M212.6 764.0L214.7 766.7M212.6 764.0L208.3 765.0M209.2 772.2L206.7 769.1M215.4 760.5L212.6 764.0M215.4 760.5L212.6 757.9M207.0 760.3L206.3 762.9M168.2 785.5L168.6 786.0M159.5 795.4L166.7 792.3M168.6 786.0L166.7 792.3M177.2 778.6L176.1 786.3M168.6 786.0L176.1 786.3M181.5 776.3L182.8 781.6M182.8 781.6L179.9 785.4M179.9 785.4L176.2 786.4M176.1 786.3L176.2 786.4M135.2 810.1L132.2 806.7M135.2 810.1L134.4 811.9M140.1 806.6L135.2 810.1M136.8 802.0L132.2 806.7M147.2 783.5L147.0 784.1M147.2 783.5L141.9 781.7M147.0 784.1L142.1 789.1M141.9 781.7L138.2 788.5M138.2 788.5L142.1 789.1M147.6 783.2L147.2 783.5M149.8 790.0L147.0 784.1M148.6 774.7L150.8 775.8M141.3 780.2L141.9 781.7M143.0 794.0L142.1 789.1M137.5 788.9L138.2 788.5M132.8 773.3L136.3 765.2M136.3 765.2L129.4 767.6M132.8 773.3L134.9 774.4M136.6 765.0L141.4 767.0M136.6 765.0L137.7 761.2M141.4 767.0L144.6 761.8M137.7 761.2L142.1 758.5M142.1 758.5L144.6 761.8M136.3 765.2L136.6 765.0M142.7 769.4L141.4 767.0M133.3 759.3L137.7 761.2M148.5 766.9L148.8 766.5M148.2 762.1L148.8 766.5M148.2 762.1L144.6 761.8M142.5 751.5L144.4 755.7M144.4 755.7L142.1 758.5M144.4 755.7L149.1 754.2M149.1 754.2L151.5 757.0M151.5 757.0L148.2 762.1M132.9 744.6L135.1 740.7M135.1 740.7L132.6 738.2M137.3 747.2L132.9 744.6M140.4 744.6L141.8 742.7M139.1 739.6L141.8 742.7M139.1 739.6L135.1 740.7M134.3 733.9L133.2 732.3M134.3 733.9L132.6 738.2M133.2 732.3L130.8 732.6M135.3 728.3L133.2 732.3M182.8 781.6L184.1 781.2M187.5 772.6L190.6 775.2M184.1 781.2L190.6 775.2M196.1 767.1L187.9 771.1M197.4 770.1L193.1 775.4M190.6 775.2L193.1 775.4M201.3 811.8L208.1 808.4M215.4 760.5L219.6 758.2M212.4 779.0L214.8 782.3M214.8 782.3L220.4 779.1M139.1 739.6L141.2 736.1M134.3 733.9L141.0 732.2M141.0 732.2L141.2 736.1M143.3 750.2L147.2 746.4M149.1 754.2L152.2 750.0M152.2 750.0L147.2 746.4M151.9 729.8L156.8 723.8M151.9 729.8L156.5 731.5M156.5 731.5L162.8 726.2M181.3 764.3L181.6 762.9M171.9 765.8L179.6 761.5M179.6 761.5L181.6 762.9M192.4 762.3L184.5 760.8M192.4 762.3L192.8 762.0M192.8 762.0L193.1 755.7M193.1 755.7L186.7 757.6M186.7 757.6L184.5 760.8M187.3 767.5L192.4 762.3M181.6 762.9L184.5 760.8M196.1 762.7L202.3 758.5M196.1 762.7L194.4 762.1M194.4 762.1L201.9 752.0M202.3 758.5L202.9 752.0M201.9 752.0L202.7 751.9M202.7 751.9L202.9 752.0M196.5 764.0L196.1 762.7M206.8 760.0L202.3 758.5M192.8 762.0L194.4 762.1M195.5 752.0L193.1 755.7M195.5 752.0L201.9 752.0M208.2 750.4L202.9 752.0M204.2 744.5L208.7 740.8M204.2 744.5L202.7 751.9M208.9 740.8L208.7 740.8M207.7 738.9L208.7 740.8M207.7 738.9L201.0 739.0M204.2 744.5L197.9 744.7M201.0 739.0L197.9 744.2M197.9 744.7L197.9 744.2M195.5 752.0L194.5 749.4M197.9 744.7L194.5 749.4M205.2 730.8L208.7 727.0M205.2 730.8L209.4 733.7M214.7 727.8L212.9 732.0M209.4 733.7L212.9 732.0M203.6 731.3L200.9 730.4M203.6 731.3L205.2 730.8M200.9 730.4L201.2 726.1M207.7 738.9L209.4 733.7M203.6 731.3L200.8 738.3M201.0 739.0L200.8 738.3M217.2 733.6L212.9 732.0M176.2 786.4L173.1 793.2M166.7 792.3L168.8 795.0M173.1 793.2L168.8 795.0M202.5 771.5L200.7 777.5M193.1 775.4L193.9 777.6M193.9 777.6L200.7 777.5M206.9 774.9L200.8 777.6M200.8 777.6L200.7 777.5M196.4 805.1L193.8 807.0M196.4 805.1L200.2 804.4M193.8 807.0L192.6 813.2M200.2 804.4L200.8 811.5M185.2 814.2L189.7 807.2M189.7 807.2L193.8 807.0M200.5 804.1L200.2 804.4M216.4 801.6L229.6 801.7M216.1 752.8L219.6 753.1M213.4 785.5L214.8 782.3M213.4 785.5L215.5 788.6M215.5 788.6L221.0 788.1M212.9 793.0L215.5 788.6M143.4 729.4L146.1 729.0M143.4 729.4L142.1 725.1M148.8 735.0L150.3 730.8M148.8 735.0L141.2 736.1M150.3 730.8L146.1 729.0M141.0 732.2L143.4 729.4M151.9 729.8L150.3 730.8M153.4 749.2L155.2 744.3M153.4 749.2L156.4 749.3M155.2 744.3L161.7 743.4M156.4 749.3L162.2 746.6M161.7 743.4L163.5 745.3M162.2 746.6L163.5 745.3M151.5 757.0L157.6 756.8M152.2 750.0L153.4 749.2M157.6 756.8L156.4 749.3M167.4 744.2L163.5 745.3M167.4 744.2L167.5 744.2M167.5 744.2L165.3 752.4M165.3 752.4L160.0 755.7M160.0 755.7L162.2 746.6M146.5 741.2L149.1 737.2M146.5 741.2L148.0 744.0M148.0 744.0L154.8 742.3M149.1 737.2L156.2 736.3M154.8 742.3L158.0 737.1M156.2 736.3L158.0 737.1M141.8 742.7L146.5 741.2M148.8 735.0L149.1 737.2M147.2 746.4L148.0 744.0M155.2 744.3L154.8 742.3M156.5 731.5L156.2 736.3M171.9 733.8L168.9 730.3M171.9 733.8L168.9 736.7M168.9 736.7L161.6 736.5M168.9 730.3L162.2 733.9M162.2 733.9L160.9 736.0M160.9 736.0L161.6 736.5M173.3 733.2L171.9 733.8M173.3 733.2L175.4 730.3M175.4 730.3L174.8 726.1M170.0 727.1L168.9 730.3M167.4 744.2L168.0 743.0M168.0 743.0L168.9 736.7M161.7 743.4L161.6 736.5M163.2 726.4L162.2 733.9M158.0 737.1L160.9 736.0M200.8 738.3L194.2 738.3M197.9 744.2L192.9 741.5M192.9 741.5L194.2 738.3M196.9 732.3L200.9 730.4M196.9 732.3L193.3 735.7M194.2 738.3L193.3 735.7M173.3 733.2L177.0 735.5M168.0 743.0L175.5 738.5M177.0 735.5L175.5 738.5M167.5 744.2L170.6 745.3M165.3 752.4L169.0 752.7M169.0 752.7L173.3 749.4M170.6 745.3L173.3 749.4M175.5 738.5L177.1 741.5M170.6 745.3L177.1 741.5M171.5 765.9L170.2 761.1M179.6 761.5L178.9 759.2M170.2 761.1L171.3 759.4M171.3 759.4L173.4 758.1M173.4 758.1L178.9 759.2M170.2 812.8L169.1 810.0M160.1 814.3L169.1 810.0M166.8 798.3L170.2 801.3M166.8 798.3L161.7 801.3M170.2 801.3L165.3 806.4M161.7 801.3L160.7 803.7M160.7 803.7L162.4 807.1M162.4 807.1L165.3 806.4M158.1 796.9L161.7 801.3M168.8 795.0L166.8 798.3M154.3 806.7L160.7 803.7M159.9 811.8L162.4 807.1M169.5 808.5L169.1 810.0M169.5 808.5L165.3 806.4M173.6 813.0L176.8 808.0M176.8 808.0L180.4 805.6M181.4 811.6L182.7 807.1M182.7 807.1L180.4 805.6M169.5 808.5L172.1 806.3M172.1 806.3L176.8 808.0M187.9 805.0L189.7 807.2M187.9 805.0L182.7 807.1M179.9 785.4L182.9 788.6M184.1 781.2L189.4 782.8M182.9 788.6L184.7 788.3M184.7 788.3L189.4 782.8M193.9 777.6L191.6 781.6M189.4 782.8L191.6 781.6M187.9 805.0L188.6 803.6M196.4 805.1L194.9 799.9M194.9 799.9L188.6 803.6M180.5 803.2L180.4 805.6M180.5 803.2L187.8 799.3M188.6 803.6L187.8 799.3M162.0 770.8L160.9 769.9M170.2 761.1L163.3 764.5M163.3 764.5L160.9 769.9M153.6 775.1L158.7 770.6M150.1 768.8L154.6 768.1M154.6 768.1L158.7 770.6M158.7 770.6L160.9 769.9M161.1 759.3L161.3 762.0M161.1 759.3L158.8 757.0M154.2 762.3L158.4 757.1M154.2 762.3L156.5 765.2M156.5 765.2L161.3 762.0M158.4 757.1L158.8 757.0M168.2 756.5L161.1 759.3M168.2 756.5L171.3 759.4M163.3 764.5L161.3 762.0M169.0 752.7L168.2 756.5M160.0 755.7L158.8 757.0M148.8 766.5L154.2 762.3M157.6 756.8L158.4 757.1M154.6 768.1L156.5 765.2M192.9 741.5L188.0 745.6M193.3 735.7L188.9 736.3M188.9 736.3L186.0 742.6M186.0 742.6L188.0 745.6M186.7 757.6L186.0 755.5M178.9 759.2L182.6 754.6M186.0 755.5L182.6 754.6M194.5 749.4L191.3 749.4M186.0 755.5L191.3 749.4M188.0 745.6L187.5 747.4M191.3 749.4L187.5 747.4M175.2 794.6L172.6 801.0M175.2 794.6L179.1 793.8M179.1 793.8L181.0 797.4M172.6 801.0L174.1 802.1M174.1 802.1L179.0 800.7M181.0 797.4L179.0 800.7M173.1 793.2L175.2 794.6M170.2 801.3L172.6 801.0M182.9 788.6L179.1 793.8M172.1 806.3L174.1 802.1M180.5 803.2L179.0 800.7M200.8 777.6L200.7 781.8M191.6 781.6L194.7 787.3M200.7 781.8L194.7 787.3M184.7 788.3L188.5 790.8M194.7 787.3L193.9 789.0M188.5 790.8L193.9 789.0M181.0 797.4L185.3 795.4M188.5 790.8L185.3 795.4M187.8 799.3L188.1 798.7M185.3 795.4L188.1 798.7M175.4 730.3L182.1 727.2M177.0 735.5L182.4 733.6M182.1 727.2L182.4 733.6M177.1 741.5L179.4 741.9M179.4 741.9L184.5 734.5M182.4 733.6L184.5 734.5M188.9 736.3L186.2 734.2M179.4 741.9L179.8 744.0M186.0 742.6L179.8 744.0M186.2 734.2L184.5 734.5M175.5 749.3L177.8 747.4M175.5 749.3L176.0 753.5M177.8 747.4L185.0 749.1M176.0 753.5L182.5 752.6M182.5 752.6L185.0 749.1M173.3 749.4L175.5 749.3M179.8 744.0L177.8 747.4M173.4 758.1L176.0 753.5M187.5 747.4L185.0 749.1M182.6 754.6L182.5 752.6M208.9 779.7L205.6 782.0M213.4 785.5L206.9 788.5M206.9 788.5L205.6 782.0M208.2 794.8L204.2 791.1M206.9 788.5L204.2 791.1M200.7 781.8L203.3 782.4M205.6 782.0L203.3 782.4M192.0 796.3L194.4 789.6M192.0 796.3L195.6 798.5M194.4 789.6L200.8 791.1M195.6 798.5L200.0 795.6M200.0 795.6L202.1 791.9M202.1 791.9L200.8 791.1M188.1 798.7L192.0 796.3M193.9 789.0L194.4 789.6M194.9 799.9L195.6 798.5M203.3 782.4L200.8 791.1M202.5 800.4L200.0 795.6M204.2 791.1L202.1 791.9M187.3 732.7L187.9 726.2M187.3 732.7L193.3 727.6M186.2 734.2L187.3 732.7M196.9 732.3L193.3 727.6" fill="none" stroke-width="2.0" stroke-linecap="round"/></g></g>
<path d="M176,738 C174,744 172,750 167,753 C152,753 140,762 142,778 C146,794 162,802 180,803" fill="none" stroke="#c8d5f2" stroke-width="2"/>
<path d="M186,738 C198,748 210,760 210,780 C208,796 196,803 180,803" fill="none" stroke="#ee8156" stroke-width="2"/>
<clipPath id="c8"><path d="M148,836 C160,832 168,826 186,824 C204,824 214,828 230,825 C236,832 238,840 234,846 C228,862 210,876 188,878 C168,876 154,864 148,852 C146,846 146,840 148,836 Z"/></clipPath>
<clipPath id="pl_l"><rect x="130" y="810" width="58.5" height="80"/></clipPath><clipPath id="pl_r"><rect x="188.5" y="810" width="60" height="80"/></clipPath>
<g clip-path="url(#c8)"><g clip-path="url(#pl_l)" stroke="#c8d5f2"><path d="M139.4 888.8L129.0 886.5M145.1 814.8L145.3 815.1M145.3 815.1L140.5 821.0M140.5 821.0L132.4 818.7M155.1 813.6L159.6 818.1M159.6 818.1L151.6 819.2M151.6 819.2L145.3 815.1M232.2 886.0L231.8 887.6M232.2 886.0L238.3 884.7M243.8 889.5L242.7 884.8M238.3 884.7L242.7 884.8M209.8 816.9L208.9 816.5M209.8 816.9L215.4 816.6M215.4 816.6L216.3 812.4M207.2 814.0L208.9 816.5M143.0 838.5L132.5 836.0M143.0 838.5L132.7 842.1M143.7 838.4L143.0 838.5M143.7 838.4L147.7 840.0M142.0 844.2L147.7 840.0M142.0 844.2L132.7 842.1M240.3 858.0L233.4 859.9M240.3 858.0L246.0 864.0M246.0 864.0L242.3 865.3M233.0 860.8L241.5 865.3M233.0 860.8L233.4 859.9M242.3 865.3L241.5 865.3M240.3 858.0L242.0 856.3M233.4 859.9L226.4 855.9M240.3 854.8L226.4 855.9M240.3 854.8L241.7 855.7M241.7 855.7L242.0 856.3M242.0 856.3L253.2 858.0M242.7 884.8L245.7 883.5M157.9 874.8L166.2 873.5M157.9 874.8L159.1 878.0M159.1 878.0L164.1 880.4M169.0 879.8L164.1 880.4M169.0 879.8L167.7 874.3M167.7 874.3L166.2 873.5M179.6 868.0L173.0 870.3M179.6 868.0L183.8 869.6M180.3 874.7L173.0 870.3M180.3 874.7L181.3 874.2M181.3 874.2L183.8 869.6M181.3 874.2L189.6 875.1M186.0 869.2L183.8 869.6M186.0 869.2L194.4 871.8M189.6 875.1L194.4 871.8M172.0 856.1L168.4 860.0M172.0 856.1L165.9 853.4M165.9 853.4L161.7 854.9M161.7 854.9L160.6 859.4M168.4 860.0L164.7 861.4M164.7 861.4L160.6 859.4M172.3 849.0L165.9 852.9M172.3 849.0L178.2 850.8M165.9 852.9L165.9 853.4M178.2 850.8L175.8 855.9M175.8 855.9L172.0 856.1M132.8 883.8L141.3 884.9M133.0 879.1L139.4 879.2M139.4 879.2L143.0 882.8M143.0 882.8L141.3 884.9M141.2 888.5L141.3 884.9M150.6 888.0L148.6 882.7M148.6 882.7L143.0 882.8M238.3 884.7L235.3 880.0M245.0 880.9L242.6 878.9M235.3 880.0L242.6 878.9M222.2 869.9L227.6 871.0M222.2 869.9L219.9 865.3M219.9 865.3L227.4 864.3M227.4 864.3L232.5 867.9M227.6 871.0L232.2 869.1M232.2 869.1L232.5 867.9M211.9 866.3L209.7 869.6M211.9 866.3L216.2 864.7M209.7 869.6L216.5 871.5M216.5 871.5L222.2 869.9M216.2 864.7L219.9 865.3M227.9 863.4L227.4 864.3M227.9 863.4L233.0 860.8M241.5 865.3L232.5 867.9M243.9 870.3L238.7 872.2M243.9 870.3L242.3 865.3M238.7 872.2L232.2 869.1M215.7 862.3L223.3 860.0M215.7 862.3L212.8 859.1M212.8 859.1L213.2 858.4M213.2 858.4L217.5 856.7M217.5 856.7L223.5 856.7M223.3 860.0L223.5 856.7M216.2 864.7L215.7 862.3M227.9 863.4L223.3 860.0M211.9 866.3L203.7 863.2M203.7 863.2L202.3 861.0M202.3 861.0L212.8 859.1M226.4 855.9L226.2 855.8M226.2 855.8L223.5 856.7M173.1 827.1L172.6 824.8M173.1 827.1L182.1 827.3M172.6 824.8L180.3 821.4M180.3 821.4L184.6 825.2M182.1 827.3L184.4 826.5M184.6 825.2L184.4 826.5M181.2 831.3L182.1 827.3M181.2 831.3L173.5 831.2M173.1 827.1L171.3 828.3M171.3 828.3L173.5 831.2M164.8 817.5L171.7 819.8M164.8 817.5L167.8 814.6M171.6 813.9L175.8 815.4M175.8 815.4L180.3 819.3M171.7 819.8L180.3 819.3M161.8 820.0L161.6 818.5M161.8 820.0L166.4 823.2M161.6 818.5L164.8 817.5M166.4 823.2L169.9 823.5M169.9 823.5L171.7 819.8M159.6 818.1L161.6 818.5M182.3 813.1L175.8 815.4M169.9 823.5L172.6 824.8M180.3 821.4L180.5 819.4M180.5 819.4L180.3 819.3M210.8 822.1L204.8 823.0M210.8 822.1L215.0 823.1M209.7 829.3L207.3 828.7M209.7 829.3L215.6 827.2M215.6 827.2L215.0 823.1M207.3 828.7L204.8 823.0M210.8 822.1L209.8 816.9M199.0 819.5L208.9 816.5M199.0 819.5L201.1 822.6M204.8 823.0L201.1 822.6M209.7 835.8L206.8 835.3M209.7 835.8L217.6 835.3M209.9 830.4L206.6 834.5M209.9 830.4L217.8 833.7M206.8 835.3L206.6 834.5M217.6 835.3L217.8 833.7M209.7 829.3L209.9 830.4M222.9 830.0L217.8 833.7M222.9 830.0L222.9 829.2M222.9 829.2L215.6 827.2M140.5 821.0L141.7 822.2M135.6 825.5L141.7 822.2M166.4 823.2L161.5 826.8M171.3 828.3L163.4 828.8M161.5 826.8L163.4 828.8M160.7 836.8L154.9 833.0M160.7 836.8L159.0 841.4M149.0 840.0L155.3 841.8M149.0 840.0L153.6 832.9M155.3 841.8L159.0 841.4M154.9 833.0L153.6 832.9M143.7 838.4L143.3 832.6M147.7 840.0L149.0 840.0M143.3 832.6L152.8 832.7M153.6 832.9L152.8 832.7M212.7 886.7L215.8 889.3M212.7 886.7L204.8 888.4M212.7 840.4L217.2 840.8M212.7 840.4L209.7 835.8M220.7 837.5L217.6 835.3M220.7 837.5L219.4 839.9M219.4 839.9L217.2 840.8M243.9 870.3L248.3 870.9M238.7 872.2L238.9 874.3M238.9 874.3L243.3 876.3M243.3 876.3L248.1 875.3M243.3 876.3L242.6 878.9M212.7 886.7L212.9 885.7M212.9 885.7L205.2 882.7M205.2 882.7L201.6 884.5M201.6 884.5L203.5 887.8M220.7 837.5L227.9 836.4M222.9 830.0L227.7 833.1M227.7 833.1L227.9 836.4M226.8 827.6L222.9 829.2M226.8 827.6L232.4 828.8M232.4 828.8L231.9 832.1M227.7 833.1L231.9 832.1M232.4 828.8L239.8 828.4M240.9 829.5L241.0 829.0M240.9 829.5L236.1 833.2M231.9 832.1L236.1 833.2M239.8 828.4L241.0 829.0M142.6 873.7L144.9 872.4M142.6 873.7L141.6 878.0M144.9 872.4L153.6 875.0M141.6 878.0L149.2 878.1M149.2 878.1L153.6 875.0M133.5 873.2L142.6 873.7M139.4 879.2L141.6 878.0M148.6 882.7L152.3 881.7M152.3 881.7L149.2 878.1M152.3 881.7L152.4 881.7M152.4 881.7L159.1 878.0M157.9 874.8L157.8 874.8M157.8 874.8L153.6 875.0M157.8 874.8L156.2 870.8M144.9 871.6L144.9 872.4M144.9 871.6L146.9 870.2M146.9 870.2L156.2 870.8M179.0 879.0L176.3 880.6M179.0 879.0L179.2 875.5M169.0 879.8L173.8 880.9M167.7 874.3L179.2 875.5M173.8 880.9L176.3 880.6M195.7 871.7L199.0 874.3M195.7 871.7L199.5 869.2M199.0 874.3L207.5 873.9M199.5 869.2L208.9 869.9M208.9 869.9L207.5 873.9M206.3 879.4L210.1 878.2M206.3 879.4L198.5 878.2M198.5 878.2L199.0 874.3M210.2 877.8L210.1 878.2M210.2 877.8L207.5 873.9M209.7 869.6L208.9 869.9M198.6 867.8L203.7 863.2M198.6 867.8L199.5 869.2M216.5 871.5L217.9 874.1M210.2 877.8L217.9 874.1M207.9 841.1L207.5 845.5M207.9 841.1L201.4 838.8M207.5 845.5L197.3 844.8M197.3 844.8L197.3 844.7M197.3 844.7L201.4 838.8M207.9 841.1L212.7 840.4M206.8 835.3L201.2 838.6M201.4 838.8L201.2 838.6M202.3 861.0L200.3 860.3M200.3 860.3L200.9 858.1M213.2 858.4L206.7 854.4M200.9 858.1L206.7 854.4M186.1 852.0L191.0 850.5M186.1 852.0L185.9 855.2M189.7 856.8L185.9 855.2M189.7 856.8L196.1 853.8M191.0 850.5L197.0 852.3M196.1 853.8L197.0 852.3M178.2 850.8L180.5 850.4M175.8 855.9L177.3 856.3M180.5 850.4L186.1 852.0M177.3 856.3L185.9 855.2M197.3 844.9L201.1 851.4M197.3 844.9L190.5 847.1M190.5 847.1L191.0 850.5M201.1 851.4L197.0 852.3M201.1 851.4L206.2 851.7M200.9 858.1L196.1 853.8M206.7 854.4L206.2 851.7M168.4 860.0L176.6 861.9M177.3 856.3L180.6 860.7M180.6 860.7L176.6 861.9M172.3 849.0L171.1 846.2M165.9 852.9L161.0 850.0M171.1 846.2L164.1 845.8M164.1 845.8L162.9 846.8M161.0 850.0L162.9 846.8M153.3 854.2L161.7 854.9M153.3 854.2L152.7 850.5M161.0 850.0L152.7 850.5M164.1 845.8L159.0 841.4M155.3 841.8L150.9 847.0M159.0 841.4L159.0 841.4M162.9 846.8L150.9 847.0M144.9 871.6L139.8 869.7M139.8 869.7L131.5 871.1M166.3 836.0L165.6 832.4M166.3 836.0L173.6 836.8M165.6 832.4L172.8 832.7M173.6 836.8L172.8 832.7M160.7 836.8L166.3 836.0M154.9 833.0L162.2 830.1M162.2 830.1L165.6 832.4M159.0 841.4L172.1 840.4M172.1 840.4L173.9 836.9M173.9 836.9L173.6 836.8M173.5 831.2L172.8 832.7M162.2 830.1L163.4 828.8M181.2 831.3L184.1 833.4M184.1 833.4L180.9 836.6M173.9 836.9L180.9 836.6M181.9 819.0L185.3 814.7M181.9 819.0L190.1 819.4M190.1 819.4L195.3 817.9M189.0 814.1L195.2 816.4M195.2 816.4L195.3 817.9M180.5 819.4L181.9 819.0M190.5 823.3L190.1 819.4M190.5 823.3L184.6 825.2M199.0 819.5L195.3 817.9M190.5 823.3L197.3 824.8M197.3 824.8L201.1 822.6M199.9 812.8L195.2 816.4M200.5 832.3L193.7 833.0M200.5 832.3L203.2 829.0M192.2 829.1L191.9 832.1M192.2 829.1L196.6 827.2M191.9 832.1L193.7 833.0M196.6 827.2L203.2 829.0M206.6 834.5L200.5 832.3M195.6 837.2L201.2 838.6M195.6 837.2L193.7 833.0M207.3 828.7L203.2 829.0M184.1 833.4L191.9 832.1M184.4 826.5L192.2 829.1M197.3 824.8L196.6 827.2M135.6 825.7L141.5 829.2M141.5 829.2L141.7 832.1M136.1 833.0L141.7 832.1M143.3 832.6L141.7 832.1M147.2 826.2L148.2 823.2M147.2 826.2L152.0 829.0M152.0 829.0L157.5 825.4M148.4 823.2L156.6 824.6M148.4 823.2L148.2 823.2M156.6 824.6L157.5 825.4M141.7 822.2L148.2 823.2M141.5 829.2L147.2 826.2M152.8 832.7L152.0 829.0M161.5 826.8L157.5 825.4M151.6 819.2L148.4 823.2M161.8 820.0L156.6 824.6M241.7 855.7L249.4 852.0M205.2 882.7L206.3 879.4M198.5 878.2L195.4 878.8M201.6 884.5L194.8 884.2M194.8 884.2L195.4 878.8M179.0 879.0L186.4 879.9M179.2 875.5L180.3 874.7M189.6 875.1L192.0 878.2M186.4 879.9L192.0 878.2M194.4 871.8L195.7 871.7M195.4 878.8L192.0 878.2M212.9 885.7L216.9 883.6M210.1 878.2L214.8 879.6M216.9 883.6L214.8 879.6M221.6 888.9L222.5 884.2M216.9 883.6L222.5 884.2M232.2 886.0L227.0 883.2M222.5 884.2L227.0 883.2M226.8 874.7L224.6 875.5M226.8 874.7L232.8 875.8M224.6 875.5L223.4 878.4M232.8 875.8L233.6 879.7M223.4 878.4L227.5 881.5M233.6 879.7L227.5 881.5M227.6 871.0L226.8 874.7M217.9 874.1L224.6 875.5M238.9 874.3L232.8 875.8M214.8 879.6L223.4 878.4M235.3 880.0L233.6 879.7M227.0 883.2L227.5 881.5M250.1 829.0L244.9 828.4M244.9 828.4L247.6 822.8M237.5 823.3L241.2 822.2M237.5 823.3L239.8 828.4M241.2 822.2L247.6 822.8M241.0 829.0L244.9 828.4M234.1 817.0L224.3 816.5M234.1 817.0L233.2 822.5M228.1 823.3L222.0 820.9M228.1 823.3L233.2 822.5M222.0 820.9L222.1 817.9M222.1 817.9L224.3 816.5M242.0 817.7L241.2 822.2M242.0 817.7L234.8 816.7M237.5 823.3L233.2 822.5M234.8 816.7L234.1 817.0M226.8 827.6L228.1 823.3M215.0 823.1L222.0 820.9M215.4 816.6L222.1 817.9M224.1 813.3L224.3 816.5M242.0 817.7L247.1 816.3M234.8 816.7L235.7 812.7M138.5 849.7L144.7 852.3M138.5 849.7L144.1 846.9M144.7 852.3L152.7 850.5M144.1 846.9L150.2 847.5M152.7 850.5L150.2 847.5M142.0 844.2L144.1 846.9M153.3 854.2L153.0 854.5M153.0 854.5L144.6 855.0M144.6 855.0L144.7 852.3M152.7 850.5L152.7 850.5M150.9 847.0L150.2 847.5M160.6 859.4L154.4 859.2M153.0 854.5L152.6 858.6M154.4 859.2L152.6 858.6M157.8 868.1L156.7 866.0M157.8 868.1L167.7 870.8M156.7 866.0L164.3 863.5M164.3 863.5L168.6 865.5M168.6 865.5L168.5 870.3M167.7 870.8L168.5 870.3M146.9 870.2L149.0 865.7M156.2 870.8L157.8 868.1M149.0 865.7L153.7 865.5M153.7 865.5L156.7 866.0M166.2 873.5L167.7 870.8M164.7 861.4L164.3 863.5M153.7 865.5L154.4 859.2M176.6 861.9L174.5 865.1M174.5 865.1L168.6 865.5M179.6 868.0L178.8 866.8M173.0 870.3L168.5 870.3M174.5 865.1L178.8 866.8M170.3 884.8L172.6 887.4M170.3 884.8L160.4 885.0M160.4 885.0L160.0 885.1M160.0 885.1L159.0 887.6M164.1 880.4L160.4 885.0M173.8 880.9L170.3 884.8M152.4 881.7L160.0 885.1M180.5 850.4L183.1 846.8M190.5 847.1L186.0 846.1M183.1 846.8L186.0 846.1M171.1 846.2L174.3 844.2M183.1 846.8L174.3 844.2M172.1 840.4L174.4 843.8M174.3 844.2L174.4 843.8M190.3 841.6L191.5 838.5M190.3 841.6L185.9 842.7M185.9 842.7L183.0 841.7M183.0 841.7L182.1 837.3M182.1 837.3L191.5 838.5M197.3 844.7L190.3 841.6M195.6 837.2L191.5 838.5M197.3 844.8L197.3 844.9M186.0 846.1L185.9 842.7M174.4 843.8L183.0 841.7M180.9 836.6L182.1 837.3M184.1 863.3L182.5 861.1M184.1 863.3L190.5 865.2M182.5 861.1L190.3 858.6M190.5 865.2L191.8 865.0M191.8 865.0L195.7 860.7M195.7 860.7L190.3 858.6M180.6 860.7L182.5 861.1M178.8 866.8L184.1 863.3M186.0 869.2L190.5 865.2M189.7 856.8L190.3 858.6M198.6 867.8L191.8 865.0M200.3 860.3L195.7 860.7M240.9 829.5L245.5 835.1M246.3 843.3L244.8 842.4M245.3 835.7L240.2 837.2M244.8 842.4L240.2 837.2M236.1 833.2L236.5 837.1M240.2 837.2L236.5 837.1M227.9 836.4L233.8 837.8M236.5 837.1L233.8 837.8M240.3 854.8L238.2 852.2M226.2 855.8L226.9 852.2M226.9 852.2L238.2 852.2M249.4 852.0L239.5 849.6M238.2 852.2L239.5 849.6M245.9 845.5L239.5 847.3M239.5 849.6L239.5 847.3M224.4 846.3L225.9 850.3M224.4 846.3L216.1 845.4M216.1 845.4L211.2 847.5M225.6 850.8L225.9 850.3M225.6 850.8L214.3 850.9M211.2 847.5L211.0 849.8M214.3 850.9L211.0 849.8M207.5 845.5L211.2 847.5M217.2 840.8L216.1 845.4M226.9 852.2L225.6 850.8M239.5 847.3L237.5 846.9M237.5 846.9L225.9 850.3M217.5 856.7L214.3 850.9M206.2 851.7L211.0 849.8M226.2 842.6L226.5 844.8M226.2 842.6L233.0 840.3M226.5 844.8L235.4 845.6M235.4 845.6L234.5 841.7M233.0 840.3L234.5 841.7M219.4 839.9L226.2 842.6M224.4 846.3L226.5 844.8M233.8 837.8L233.0 840.3M237.5 846.9L235.4 845.6M244.8 842.4L234.5 841.7M187.9 883.1L193.8 884.6M187.9 883.1L180.9 885.1M193.8 884.6L191.7 888.1M180.9 885.1L180.6 888.2M194.8 884.2L193.8 884.6M186.4 879.9L187.9 883.1M176.3 880.6L180.9 885.1M139.8 869.7L138.7 866.6M149.0 865.7L146.8 864.8M146.8 864.8L138.7 866.6M143.9 860.1L143.6 860.4M143.9 860.1L141.9 856.3M143.6 860.4L135.5 861.4M137.4 855.1L141.9 856.3M152.6 858.6L143.9 860.1M146.8 864.8L143.6 860.4M144.6 855.0L141.9 856.3" fill="none" stroke-width="1.9" stroke-linecap="round"/></g><g clip-path="url(#pl_r)" stroke="#ee8156"><path d="M137.8 841.1L143.2 837.8M134.7 834.4L142.0 836.4M142.0 836.4L143.2 837.8M137.1 853.0L143.2 852.1M136.1 847.3L143.4 851.8M143.2 852.1L143.4 851.8M173.5 813.1L175.7 818.9M180.8 812.2L185.5 816.7M185.5 816.7L180.1 820.1M180.1 820.1L175.7 818.9M246.7 836.1L240.6 837.8M240.9 840.9L240.6 837.8M240.9 840.9L249.9 842.9M240.9 840.9L238.0 845.0M246.0 845.4L242.6 846.3M242.6 846.3L238.0 845.0M173.3 864.4L167.3 869.7M173.3 864.4L176.5 865.0M167.3 869.7L175.8 871.8M176.5 865.0L180.0 869.7M175.8 871.8L180.0 869.7M193.4 874.5L194.5 869.8M193.4 874.5L192.4 874.7M194.5 869.8L190.4 867.5M192.4 874.7L187.6 874.4M190.4 867.5L182.1 869.9M187.6 874.4L182.1 869.9M152.1 865.7L152.4 865.5M152.1 865.7L153.5 869.7M152.4 865.5L161.6 866.2M153.5 869.7L162.2 868.3M162.2 868.3L161.6 866.2M153.7 862.0L152.4 865.5M153.7 862.0L160.6 861.6M160.6 861.6L163.4 863.8M163.4 863.8L161.6 866.2M173.3 864.4L163.4 863.8M173.3 864.4L173.3 864.4M167.3 869.7L166.0 869.9M166.0 869.9L162.2 868.3M147.6 847.2L145.1 845.0M147.6 847.2L155.7 846.7M155.7 846.7L153.0 841.0M145.9 843.6L151.3 840.6M145.9 843.6L145.1 845.0M151.3 840.6L153.0 841.0M137.0 846.1L145.1 845.0M145.5 851.2L143.4 851.8M145.5 851.2L147.6 847.2M156.2 846.9L162.3 845.2M156.2 846.9L155.7 846.7M162.3 845.2L164.5 842.4M164.5 842.4L161.2 840.8M161.2 840.8L153.0 841.0M137.8 841.1L145.9 843.6M150.6 839.7L143.2 837.8M150.6 839.7L151.3 840.6M214.4 890.8L222.0 886.7M208.3 888.5L209.4 884.5M221.9 886.6L222.0 886.7M221.9 886.6L211.2 884.2M211.2 884.2L209.4 884.5M204.8 883.1L199.6 883.9M204.8 883.1L209.4 884.5M199.6 883.9L199.6 883.9M199.6 883.9L195.6 888.5M172.5 882.2L170.1 877.6M172.5 882.2L181.1 880.0M181.1 880.0L179.9 876.6M179.9 876.6L175.4 875.1M170.1 877.6L172.2 875.8M175.4 875.1L172.2 875.8M175.8 871.8L175.4 875.1M187.6 874.4L179.9 876.6M182.1 869.9L180.0 869.7M166.0 869.9L163.6 873.1M163.6 873.1L172.2 875.8M186.4 823.5L186.9 827.9M186.4 823.5L194.0 822.3M186.9 827.9L190.6 829.5M192.4 829.1L197.0 823.4M192.4 829.1L190.8 829.5M190.8 829.5L190.6 829.5M194.0 822.3L197.0 823.4M186.4 823.5L180.4 821.3M180.4 821.3L180.1 820.1M186.8 816.6L193.6 818.4M186.8 816.6L185.5 816.7M194.0 822.3L193.6 818.4M186.8 816.6L193.2 812.4M195.5 812.8L196.8 817.4M193.6 818.4L196.8 817.4M150.6 839.7L154.1 835.4M163.1 837.2L161.2 840.8M163.1 837.2L162.3 835.6M154.1 835.4L162.3 835.6M142.0 836.4L148.6 832.2M154.1 835.4L152.3 833.5M152.3 833.5L149.4 832.2M148.6 832.2L149.4 832.2M159.7 820.5L159.4 821.2M159.7 820.5L163.9 817.7M159.4 821.2L165.4 823.3M163.9 817.7L171.2 819.1M171.2 819.1L168.7 823.5M165.4 823.3L168.7 823.5M163.8 814.1L163.9 817.7M175.7 818.9L171.2 819.1M180.4 821.3L174.3 825.3M174.3 825.3L168.7 823.5M139.8 819.8L133.7 817.7M139.8 819.8L146.1 817.4M146.1 817.4L139.4 813.9M151.2 816.3L152.6 813.9M151.2 816.3L159.7 820.5M151.2 816.3L147.7 817.6M147.7 817.6L146.1 817.4M234.1 831.8L231.7 830.8M234.1 831.8L240.3 831.1M240.3 831.1L241.7 827.3M231.7 830.8L231.5 829.3M231.5 829.3L236.3 826.7M236.3 826.7L241.7 827.3M240.6 837.8L235.1 837.0M235.1 837.0L234.1 831.8M247.0 833.9L240.3 831.1M234.0 823.7L242.6 821.4M234.0 823.7L236.3 826.7M242.6 821.4L246.7 825.1M241.7 827.3L246.7 825.9M171.9 838.5L169.2 842.5M171.9 838.5L175.6 836.9M175.6 836.9L176.8 837.0M176.8 837.0L179.0 841.0M179.0 841.0L170.8 843.2M170.8 843.2L169.2 842.5M164.5 842.4L169.2 842.5M163.1 837.2L171.9 838.5M195.0 881.0L199.6 883.9M195.0 881.0L189.9 880.2M189.9 880.2L187.2 881.2M199.6 883.9L189.4 883.7M189.4 883.7L187.2 881.2M192.4 874.7L189.9 880.2M181.1 880.0L184.5 881.2M184.5 881.2L187.2 881.2M140.8 858.9L144.8 861.3M140.8 858.9L143.1 856.5M143.1 856.5L144.4 855.6M144.4 855.6L151.5 857.4M144.8 861.3L151.4 860.7M151.4 860.7L151.5 857.4M133.0 855.5L143.1 856.5M132.6 859.7L140.8 858.9M143.2 852.1L144.4 855.6M221.9 886.6L225.2 882.2M211.2 884.2L216.4 879.7M224.8 880.7L225.2 882.2M224.8 880.7L220.0 878.9M216.4 879.7L220.0 878.9M232.3 875.6L232.8 878.2M232.3 875.6L226.0 873.5M232.8 878.2L224.8 880.7M226.0 873.5L220.6 874.7M220.0 878.9L220.6 874.7M197.7 852.6L197.0 854.9M197.7 852.6L189.8 849.9M197.0 854.9L188.3 856.3M188.3 856.3L186.2 855.5M189.8 849.9L185.9 853.2M186.2 855.5L185.9 853.2M145.5 851.2L156.5 852.2M151.5 857.4L156.0 855.5M156.0 855.5L156.5 852.2M156.2 846.9L158.4 851.2M156.5 852.2L158.4 851.2M196.9 862.7L204.7 866.3M196.9 862.7L199.3 860.9M209.6 865.3L204.7 866.3M209.6 865.3L207.1 860.4M207.1 860.4L199.3 860.9M221.2 856.5L227.7 860.7M221.2 856.5L218.1 856.4M216.8 862.3L213.9 857.8M216.8 862.3L226.9 861.9M226.9 861.9L227.7 860.7M218.1 856.4L213.9 857.8M207.1 860.4L210.3 857.6M199.3 860.9L198.7 855.7M198.7 855.7L207.8 856.2M207.8 856.2L210.3 857.6M227.1 862.3L233.8 865.3M227.1 862.3L223.3 867.5M228.0 869.7L223.3 867.5M228.0 869.7L230.9 869.2M233.8 865.3L230.9 869.2M232.3 875.6L237.9 873.3M237.9 873.3L237.1 870.5M226.0 873.5L228.0 869.7M237.1 870.5L230.9 869.2M221.2 856.5L223.4 855.3M229.9 860.0L227.7 860.7M229.9 860.0L233.7 856.2M223.4 855.3L233.7 856.2M242.6 846.3L245.3 850.5M188.4 858.8L183.6 861.5M188.4 858.8L195.3 862.9M195.3 862.9L190.4 865.7M190.4 865.7L182.9 863.5M183.6 861.5L182.9 863.5M196.9 862.7L195.3 862.9M197.0 854.9L198.7 855.7M188.3 856.3L188.4 858.8M194.5 869.8L202.7 868.6M190.4 867.5L190.4 865.7M204.7 866.3L202.7 868.6M176.5 865.0L182.9 863.5M157.3 882.5L156.0 880.4M157.3 882.5L160.7 884.2M167.5 884.1L163.2 878.3M167.5 884.1L160.7 884.2M156.0 880.4L158.8 877.4M158.8 877.4L163.2 878.3M154.9 889.6L160.7 884.2M149.1 887.4L148.8 885.3M148.8 885.3L157.3 882.5M157.6 875.1L163.6 873.1M157.6 875.1L158.8 877.4M170.1 877.6L163.2 878.3M222.0 886.7L224.3 887.8M235.4 884.5L225.2 882.2M235.4 884.5L231.9 887.5M189.4 883.7L189.5 887.5M205.0 824.7L201.3 823.5M205.0 824.7L210.9 822.8M201.3 823.5L202.3 817.5M210.9 822.8L210.7 818.3M210.7 818.3L206.1 816.3M206.1 816.3L202.3 817.5M200.6 829.5L205.1 827.3M200.6 829.5L192.4 829.1M205.1 827.3L205.0 824.7M197.0 823.4L201.3 823.5M216.3 823.8L210.9 822.8M216.3 823.8L217.3 827.2M205.1 827.3L208.4 828.7M208.4 828.7L217.3 827.2M196.8 817.4L202.3 817.5M206.2 813.5L206.1 816.3M152.3 833.5L161.9 830.5M149.4 832.2L154.8 826.8M154.8 826.8L160.2 828.6M161.9 830.5L160.2 828.6M148.6 832.2L142.0 829.9M138.3 830.0L142.0 829.9M226.6 826.9L231.5 829.3M226.6 826.9L226.9 823.0M234.0 823.7L228.5 822.6M226.9 823.0L228.5 822.6M216.3 823.8L222.0 822.4M217.3 827.2L219.9 829.0M226.6 826.9L219.9 829.0M226.9 823.0L222.0 822.4M190.5 838.0L192.7 837.9M190.5 838.0L185.4 843.6M192.7 837.9L196.7 842.6M196.7 842.6L193.3 846.0M185.4 843.6L185.6 845.3M185.6 845.3L188.4 846.1M188.4 846.1L193.3 846.0M184.9 835.5L190.5 838.0M184.9 835.5L176.8 837.0M179.0 841.0L185.4 843.6M174.1 846.7L181.7 846.6M174.1 846.7L170.8 843.2M181.7 846.6L185.6 845.3M189.8 849.9L188.4 846.1M181.7 846.6L181.6 850.3M181.6 850.3L185.9 853.2M237.6 883.9L235.4 884.5M237.6 883.9L243.5 888.2M241.4 877.8L235.3 879.1M241.4 877.8L246.9 880.4M235.3 879.1L238.1 883.4M238.1 883.4L244.7 882.2M246.9 880.4L244.7 882.2M237.9 873.3L243.3 874.6M243.3 874.6L241.4 877.8M232.8 878.2L235.3 879.1M248.1 873.9L243.3 874.6M237.6 883.9L238.1 883.4M251.5 887.5L244.7 882.2M181.4 885.4L183.0 887.9M181.4 885.4L170.9 883.6M178.2 889.6L169.8 886.7M169.8 886.7L169.1 884.4M169.1 884.4L170.9 883.6M184.5 881.2L181.4 885.4M172.5 882.2L170.9 883.6M166.6 889.7L169.8 886.7M167.5 884.1L169.1 884.4M141.2 866.0L140.9 865.6M141.2 866.0L139.8 869.1M140.9 865.6L134.1 862.9M139.8 869.1L134.8 869.9M153.7 862.0L151.4 860.7M152.1 865.7L141.2 866.0M144.8 861.3L140.9 865.6M137.4 879.9L146.9 881.3M147.0 883.8L146.9 881.3M147.0 883.8L137.8 884.7M148.8 885.3L147.0 883.8M148.7 880.5L146.9 881.3M148.7 880.5L156.0 880.4M139.3 888.2L137.8 884.7M223.1 867.5L217.8 870.8M223.1 867.5L213.0 865.4M217.8 870.8L213.2 869.0M213.2 869.0L212.4 865.5M213.0 865.4L212.4 865.5M223.3 867.5L223.1 867.5M220.6 874.7L218.2 873.8M218.2 873.8L217.8 870.8M216.8 862.3L213.0 865.4M227.1 862.3L226.9 861.9M209.6 865.3L212.4 865.5M213.9 857.8L210.3 857.6M211.0 877.9L211.8 873.8M211.0 877.9L204.3 878.6M204.3 878.6L201.6 877.0M211.8 873.8L208.2 872.7M201.6 877.0L200.8 875.8M200.8 875.8L206.8 872.7M206.8 872.7L208.2 872.7M216.4 879.7L211.0 877.9M218.2 873.8L211.8 873.8M204.8 883.1L204.3 878.6M195.0 881.0L201.6 877.0M213.2 869.0L208.2 872.7M193.4 874.5L200.8 875.8M202.7 868.6L206.8 872.7M162.3 845.2L167.9 849.1M158.4 851.2L163.5 851.2M163.5 851.2L167.9 849.1M174.1 846.7L171.2 848.6M167.9 849.1L171.2 848.6M181.6 850.3L175.5 853.0M171.2 848.6L175.5 853.0M233.8 865.3L238.5 864.9M237.1 870.5L243.0 867.9M238.5 864.9L243.0 867.9M229.9 860.0L240.4 861.5M238.5 864.9L240.4 861.5M249.3 870.0L243.5 867.9M248.3 863.9L243.5 867.9M243.5 867.9L243.0 867.9M223.4 855.3L225.9 852.5M233.7 856.2L235.0 855.4M235.0 855.4L231.6 851.2M225.9 852.5L231.6 851.2M218.1 856.4L215.7 851.0M225.9 852.5L218.5 850.2M215.7 851.0L218.5 850.2M235.1 837.0L231.4 837.8M231.7 830.8L223.3 832.9M231.4 837.8L223.3 832.9M219.9 829.0L219.5 832.6M223.3 832.9L219.5 832.6M228.7 840.1L223.8 841.7M228.7 840.1L237.1 845.1M223.8 841.7L225.4 846.4M225.4 846.4L231.0 847.8M237.1 845.1L231.0 847.8M238.0 845.0L237.1 845.1M231.4 837.8L230.1 838.6M230.1 838.6L228.7 840.1M231.7 851.0L231.6 851.2M231.7 851.0L231.0 847.8M218.5 850.2L220.8 847.6M220.8 847.6L225.4 846.4M245.3 850.5L231.7 851.0M165.6 832.9L165.1 832.0M165.6 832.9L172.1 834.1M165.1 832.0L173.1 827.4M172.1 834.1L177.9 830.0M177.9 830.0L177.9 829.0M177.9 829.0L174.3 827.1M174.3 827.1L173.1 827.4M162.3 835.6L165.6 832.9M161.9 830.5L165.1 832.0M175.6 836.9L172.1 834.1M160.2 828.6L164.4 826.9M164.4 826.9L173.1 827.4M184.9 835.2L184.9 835.5M184.9 835.2L177.9 830.0M186.9 827.9L177.9 829.0M184.9 835.2L190.6 829.5M174.3 825.3L174.3 827.1M165.4 823.3L164.4 826.9M146.5 826.0L142.1 823.2M146.5 826.0L154.5 826.4M148.6 821.0L156.4 822.6M148.6 821.0L142.3 823.0M142.3 823.0L142.1 823.2M156.4 822.6L154.5 826.4M137.1 824.5L142.1 823.2M142.0 829.9L146.5 826.0M154.8 826.8L154.5 826.4M147.7 817.6L148.6 821.0M159.4 821.2L156.4 822.6M139.8 819.8L142.3 823.0M242.6 821.3L242.6 821.4M242.6 821.3L248.1 817.6M245.5 815.1L242.1 813.8M210.7 818.3L217.4 817.2M217.4 817.2L219.0 814.2M222.0 822.4L220.0 818.4M217.4 817.2L220.0 818.4M200.6 829.5L201.3 831.9M190.8 829.5L197.5 835.1M201.3 831.9L197.5 835.1M192.7 837.9L197.2 836.9M196.7 842.6L204.8 842.4M204.8 842.4L201.7 837.7M201.7 837.7L197.2 836.9M197.5 835.1L197.2 836.9M241.7 861.0L246.5 861.9M241.7 861.0L242.3 856.1M242.3 856.1L245.6 855.0M240.4 861.5L241.7 861.0M235.0 855.4L242.3 856.1M147.1 875.1L144.1 874.8M147.1 875.1L154.2 874.0M144.1 874.8L140.1 869.3M140.1 869.3L153.3 869.9M153.3 869.9L154.2 874.0M148.7 880.5L147.1 875.1M138.3 877.1L144.1 874.8M157.6 875.1L154.2 874.0M139.8 869.1L140.1 869.3M153.5 869.7L153.3 869.9M186.2 855.5L182.3 855.7M175.5 853.0L175.5 853.4M182.3 855.7L175.5 853.4M183.6 861.5L177.4 858.8M182.3 855.7L177.4 858.8M207.8 856.2L209.3 851.9M215.7 851.0L213.3 850.7M209.3 851.9L213.3 850.7M197.7 852.6L200.9 850.1M209.3 851.9L200.9 850.1M193.3 846.0L200.8 847.7M200.9 850.1L200.8 847.7M218.9 832.9L217.6 835.8M218.9 832.9L211.0 831.7M206.3 836.5L207.6 833.2M206.3 836.5L213.9 837.8M217.6 835.8L216.0 837.5M211.0 831.7L207.6 833.2M216.0 837.5L213.9 837.8M230.1 838.6L217.6 835.8M219.5 832.6L218.9 832.9M208.4 828.7L211.0 831.7M201.3 831.9L207.6 833.2M201.7 837.7L206.3 836.5M221.5 841.4L223.8 841.7M221.5 841.4L216.0 837.5M167.5 854.7L171.0 855.2M167.5 854.7L162.1 857.8M171.0 855.2L173.0 859.6M162.8 859.3L172.8 859.7M162.8 859.3L162.1 857.8M172.8 859.7L173.0 859.6M163.5 851.2L167.5 854.7M175.5 853.4L171.0 855.2M156.0 855.5L162.1 857.8M177.4 858.8L173.0 859.6M173.3 864.4L172.8 859.7M160.6 861.6L162.8 859.3M210.2 846.9L206.7 844.9M210.2 846.9L218.0 846.4M216.0 843.4L218.0 846.4M216.0 843.4L208.5 843.4M206.7 844.9L207.1 843.8M208.5 843.4L207.1 843.8M213.3 850.7L210.2 846.9M200.8 847.7L206.7 844.9M220.8 847.6L218.0 846.4M221.5 841.4L216.0 843.4M213.9 837.8L208.5 843.4M204.8 842.4L207.1 843.8M229.5 816.7L228.8 815.7M229.5 816.7L231.5 817.8M228.8 815.7L232.5 812.4M231.5 817.8L234.3 817.6M234.3 817.6L241.1 814.0M220.0 818.4L229.5 816.7M221.3 812.7L228.8 815.7M228.5 822.6L231.5 817.8M242.6 821.3L234.3 817.6" fill="none" stroke-width="2.0" stroke-linecap="round"/></g><path d="M140,846 C148,842 156,848 160,856 C150,860 142,856 140,846 Z" fill="#fff"/><path d="M240,846 C232,842 222,846 214,856 C226,860 236,856 240,846 Z" fill="#fff"/></g>
<path d="M188.5,824 C168,826 160,832 148,836 C146,840 146,846 148,852 C154,864 168,876 188.5,878" fill="none" stroke="#c8d5f2" stroke-width="2"/>
<path d="M188.5,824 C204,824 214,828 230,825 C236,832 238,840 234,846 C228,862 210,876 188.5,878" fill="none" stroke="#ee8156" stroke-width="2"/>
<path d="M172,705 C166,716 160,720 154,724 C150,728 148,732 146,734" fill="none" stroke="#d82424" stroke-width="1.6" stroke-dasharray="3.5 2"/>
<path d="M222,500 C232,501 250,503 262,511 C276,522 284,540 286,562 C287,584 282,604 272,614 C262,622 250,627 238,627 C234,627 232,626 230,625" fill="none" stroke="#cf6a44" stroke-width="10.1" stroke-linecap="butt" stroke-linejoin="round"/>
<path d="M152,614 C151,602 151,592 153,586 C156,576 164,568 174,567.5 C186,567 198,572 206,580 C214,590 222,604 228,621 C232,636 235,660 237,690 C238,710 240,735 244,752 C248,770 252,790 252,805" fill="none" stroke="#cf6a44" stroke-width="12.1" stroke-linecap="butt" stroke-linejoin="round"/>
<path d="M252,800 C252,828 247,845 236,855" fill="none" stroke="#cf6a44" stroke-width="8.6" stroke-linecap="butt" stroke-linejoin="round"/>
<path d="M237,854 C224,866 208,874 188,877" fill="none" stroke="#cf6a44" stroke-width="6.6" stroke-linecap="butt" stroke-linejoin="round"/>
<path d="M250,786 C246,804 240,816 230,822 C222,827 216,828 212,828" fill="none" stroke="#cf6a44" stroke-width="7.1" stroke-linecap="butt" stroke-linejoin="round"/>
<path d="M214,828 C206,828 200,829 194,830" fill="none" stroke="#cf6a44" stroke-width="4.6" stroke-linecap="butt" stroke-linejoin="round"/>
<path d="M237,676 C224,684 210,692 200,700 C192,708 186,716 174,721" fill="none" stroke="#cf6a44" stroke-width="4.6" stroke-linecap="butt" stroke-linejoin="round"/>
<path d="M239,714 C228,730 222,744 214,750 C208,754 204,754 198,756" fill="none" stroke="#cf6a44" stroke-width="4.6" stroke-linecap="butt" stroke-linejoin="round"/>
<path d="M242,758 C232,770 222,776 214,780 C208,784 204,790 200,796" fill="none" stroke="#cf6a44" stroke-width="4.6" stroke-linecap="butt" stroke-linejoin="round"/>
<path d="M242,596 C226,597 212,598 196,601 C190,602 186,604 184,606" fill="none" stroke="#cf6a44" stroke-width="5.800000000000001" stroke-linecap="butt" stroke-linejoin="round"/>
<path d="M240,606 C226,607 212,609 196,610" fill="none" stroke="#cf6a44" stroke-width="5.2" stroke-linecap="butt" stroke-linejoin="round"/>
<path d="M124,596 C136,597 146,599 156,601" fill="none" stroke="#cf6a44" stroke-width="5.6" stroke-linecap="butt" stroke-linejoin="round"/>
<path d="M126,604 C136,605 146,606 152,607" fill="none" stroke="#cf6a44" stroke-width="4.6" stroke-linecap="butt" stroke-linejoin="round"/>
<path d="M222,500 C232,501 250,503 262,511 C276,522 284,540 286,562 C287,584 282,604 272,614 C262,622 250,627 238,627 C234,627 232,626 230,625" fill="none" stroke="#ee8156" stroke-width="8.5" stroke-linecap="butt" stroke-linejoin="round"/>
<path d="M152,614 C151,602 151,592 153,586 C156,576 164,568 174,567.5 C186,567 198,572 206,580 C214,590 222,604 228,621 C232,636 235,660 237,690 C238,710 240,735 244,752 C248,770 252,790 252,805" fill="none" stroke="#ee8156" stroke-width="10.5" stroke-linecap="butt" stroke-linejoin="round"/>
<path d="M252,800 C252,828 247,845 236,855" fill="none" stroke="#ee8156" stroke-width="7" stroke-linecap="butt" stroke-linejoin="round"/>
<path d="M237,854 C224,866 208,874 188,877" fill="none" stroke="#ee8156" stroke-width="5" stroke-linecap="butt" stroke-linejoin="round"/>
<path d="M250,786 C246,804 240,816 230,822 C222,827 216,828 212,828" fill="none" stroke="#ee8156" stroke-width="5.5" stroke-linecap="butt" stroke-linejoin="round"/>
<path d="M214,828 C206,828 200,829 194,830" fill="none" stroke="#ee8156" stroke-width="3" stroke-linecap="butt" stroke-linejoin="round"/>
<path d="M237,676 C224,684 210,692 200,700 C192,708 186,716 174,721" fill="none" stroke="#ee8156" stroke-width="3" stroke-linecap="butt" stroke-linejoin="round"/>
<path d="M239,714 C228,730 222,744 214,750 C208,754 204,754 198,756" fill="none" stroke="#ee8156" stroke-width="3" stroke-linecap="butt" stroke-linejoin="round"/>
<path d="M242,758 C232,770 222,776 214,780 C208,784 204,790 200,796" fill="none" stroke="#ee8156" stroke-width="3" stroke-linecap="butt" stroke-linejoin="round"/>
<path d="M242,596 C226,597 212,598 196,601 C190,602 186,604 184,606" fill="none" stroke="#ee8156" stroke-width="4.2" stroke-linecap="butt" stroke-linejoin="round"/>
<path d="M240,606 C226,607 212,609 196,610" fill="none" stroke="#ee8156" stroke-width="3.6" stroke-linecap="butt" stroke-linejoin="round"/>
<path d="M124,596 C136,597 146,599 156,601" fill="none" stroke="#ee8156" stroke-width="4" stroke-linecap="butt" stroke-linejoin="round"/>
<path d="M126,604 C136,605 146,606 152,607" fill="none" stroke="#ee8156" stroke-width="3" stroke-linecap="butt" stroke-linejoin="round"/>
<path d="M142,497.5 C130,498 118,499 106,502 C100,504 96,506 94,508 C82,518 76,534 75.5,552 C76,562 82,572 90,579 C98,586 108,594 121,600 C128,603 133,607 137,613" fill="none" stroke="#959ccc" stroke-width="13.1" stroke-linecap="butt" stroke-linejoin="round"/>
<path d="M138,652 C136,672 130,690 123,712 C118,728 114,745 113,760 C112,770 112.5,776 112.8,782" fill="none" stroke="#959ccc" stroke-width="14.1" stroke-linecap="butt" stroke-linejoin="round"/>
<path d="M109.5,780 C109,800 114,820 124,834 C136,848 150,862 167,869 C175,873 182,875 188,876" fill="none" stroke="#959ccc" stroke-width="7.1" stroke-linecap="butt" stroke-linejoin="round"/>
<path d="M116,780 C119,800 126,818 136,826 C144,832 152,832 160,830 C164,828 166,827 168,826" fill="none" stroke="#959ccc" stroke-width="7.1" stroke-linecap="butt" stroke-linejoin="round"/>
<path d="M166,826.5 C172,825 178,826 184,828" fill="none" stroke="#959ccc" stroke-width="4.6" stroke-linecap="butt" stroke-linejoin="round"/>
<path d="M134,684 C137,686 138,688 139,692" fill="none" stroke="#959ccc" stroke-width="5.6" stroke-linecap="butt" stroke-linejoin="round"/>
<path d="M174,721 C180,728 184,734 187,744" fill="none" stroke="#959ccc" stroke-width="5.1" stroke-linecap="butt" stroke-linejoin="round"/>
<path d="M186,742 C188,746 190,750 192,756" fill="none" stroke="#959ccc" stroke-width="3.8000000000000003" stroke-linecap="butt" stroke-linejoin="round"/>
<path d="M165,624 C165,610 166,596 168,584" fill="none" stroke="#959ccc" stroke-width="12.6" stroke-linecap="butt" stroke-linejoin="round"/>
<path d="M168,586 C162,578 156,573 148,570 C142,568 136,566 130,564" fill="none" stroke="#959ccc" stroke-width="9.1" stroke-linecap="butt" stroke-linejoin="round"/>
<path d="M168,586 C178,580 190,575 198,570 C206,564 210,556 214,548 C216,544 218,541 220,539" fill="none" stroke="#959ccc" stroke-width="9.1" stroke-linecap="butt" stroke-linejoin="round"/>
<path d="M142,497.5 C130,498 118,499 106,502 C100,504 96,506 94,508 C82,518 76,534 75.5,552 C76,562 82,572 90,579 C98,586 108,594 121,600 C128,603 133,607 137,613" fill="none" stroke="#c8d5f2" stroke-width="11.5" stroke-linecap="butt" stroke-linejoin="round"/>
<path d="M138,652 C136,672 130,690 123,712 C118,728 114,745 113,760 C112,770 112.5,776 112.8,782" fill="none" stroke="#c8d5f2" stroke-width="12.5" stroke-linecap="butt" stroke-linejoin="round"/>
<path d="M109.5,780 C109,800 114,820 124,834 C136,848 150,862 167,869 C175,873 182,875 188,876" fill="none" stroke="#c8d5f2" stroke-width="5.5" stroke-linecap="butt" stroke-linejoin="round"/>
<path d="M116,780 C119,800 126,818 136,826 C144,832 152,832 160,830 C164,828 166,827 168,826" fill="none" stroke="#c8d5f2" stroke-width="5.5" stroke-linecap="butt" stroke-linejoin="round"/>
<path d="M166,826.5 C172,825 178,826 184,828" fill="none" stroke="#c8d5f2" stroke-width="3" stroke-linecap="butt" stroke-linejoin="round"/>
<path d="M134,684 C137,686 138,688 139,692" fill="none" stroke="#c8d5f2" stroke-width="4" stroke-linecap="butt" stroke-linejoin="round"/>
<path d="M174,721 C180,728 184,734 187,744" fill="none" stroke="#c8d5f2" stroke-width="3.5" stroke-linecap="butt" stroke-linejoin="round"/>
<path d="M186,742 C188,746 190,750 192,756" fill="none" stroke="#c8d5f2" stroke-width="2.2" stroke-linecap="butt" stroke-linejoin="round"/>
<path d="M165,624 C165,610 166,596 168,584" fill="none" stroke="#c8d5f2" stroke-width="11" stroke-linecap="butt" stroke-linejoin="round"/>
<path d="M168,586 C162,578 156,573 148,570 C142,568 136,566 130,564" fill="none" stroke="#c8d5f2" stroke-width="7.5" stroke-linecap="butt" stroke-linejoin="round"/>
<path d="M168,586 C178,580 190,575 198,570 C206,564 210,556 214,548 C216,544 218,541 220,539" fill="none" stroke="#c8d5f2" stroke-width="7.5" stroke-linecap="butt" stroke-linejoin="round"/>
<g stroke="#c8d5f2" fill="none" stroke-linecap="round"><path d="M218,542 C222,536 228,530 234,526" stroke-width="3.5"/><path d="M216,546 C224,544 234,542 244,540" stroke-width="2.6"/><path d="M134,565 C126,560 118,554 110,548" stroke-width="3"/><path d="M136,566 C132,556 130,546 128,536" stroke-width="2.6"/></g>
<path d="M137,615.5 C142,612 150,611 158,613.5 C164,606 172,600.5 185,600.5 C192,602 194,610 195,615.5 C204,620 212,628 216,638 C220,648 220,658 210,666 C200,670 185,670 170,667 C155,664 140,662 135,657 C130,650 130,636 132,628 C133,622 135,618 137,615.5 Z" fill="#f7ece2" stroke="#3a2e2e" stroke-width="0.9"/>
<path d="M134.6,619.6 C142,616 150,616 154,617 C157,624 157,632 156.4,636 C156,646 154,652 152.3,656.5 C146,658 140,657 134.6,655 C132,646 132,630 134.6,619.6 Z" fill="#c8d5f2" stroke="#959ccc" stroke-width="0.7"/>
<path d="M159.2,622.3 C164,624 168,626 170,629.2 C176,638 180,646 182.4,649.7 C188,656 194,660 196,663.4 C194,667 192,668 190.6,667.5 C180,666 172,664 166,662 C160,660 156,658 153.7,655 C154,648 155,642 155,638.75 C156,630 157,625 159.2,622.3 Z" fill="#c8d5f2" stroke="#959ccc" stroke-width="0.7"/>
<path d="M170,603.2 C178,603 186,604 192,606 C194,610 194,614 193.4,618.2 C190,622 186,623 185,623.7 C180,626 176,627 172.9,627.8 C171,622 171,618 171.5,615.5 C171,610 170,606 170,603.2 Z" fill="#ee8156"/>
<path d="M176,628 C180,623 186,621 192,623 C198,626 204,632 208,638 C212,644 214,652 212,658 C209,661 204,661 200,658 C194,653 186,647 181,642 C177,638 175,633 176,628 Z" fill="#ee8156"/>
<path d="M159,640 C159,620 160,606 162,596 L173,596 C171,608 170,622 170,632 Z" fill="#c8d5f2"/>
<path d="M135,656 L148,657 C146,663 145,669 143,676 L129,676 C131,670 133,663 135,656 Z" fill="#c8d5f2"/>
<g stroke="#2e2e2e" stroke-width="0.8" fill="none"><path d="M147,570 L175.3,553 L193,578.5"/><path d="M110.4,627 L129.2,609.7"/><path d="M113,682.3 L129,682.3"/><path d="M215.6,597.8 L247,638"/><path d="M236.3,665 L253.4,675.3"/><path d="M217.5,690 L248.8,690"/><path d="M173,722 L248.8,722"/></g>
<g class="lr">
<rect x="156.7" y="497.0" width="38" height="11" fill="#fff" opacity="0.8"/>
<rect x="94.2" y="569.5" width="35" height="11" fill="#fff" opacity="0.8"/>
<rect x="234" y="562.6" width="35" height="11" fill="#fff" opacity="0.8"/>
<rect x="134.2" y="708.8" width="33" height="11" fill="#fff" opacity="0.8"/>
<rect x="157" y="768.9" width="39" height="11" fill="#fff" opacity="0.8"/>
<rect x="170" y="835.8" width="28" height="11" fill="#fff" opacity="0.8"/>
<rect x="171" y="859.0" width="33.5" height="11" fill="#fff" opacity="0.8"/>
<text x="157.7" y="505.5" fill="#fff" stroke="#fff" stroke-width="2" stroke-opacity="0.55">Corazón</text>
<text x="161.4" y="539.4" fill="#fff" stroke="#fff" stroke-width="2" stroke-opacity="0.55">Arterias</text>
<text x="153.5" y="549.5" fill="#fff" stroke="#fff" stroke-width="2" stroke-opacity="0.55">pulmonares</text>
<text x="95.2" y="578" fill="#fff" stroke="#fff" stroke-width="2" stroke-opacity="0.55">Pulmón</text>
<text x="235" y="571.1" fill="#fff" stroke="#fff" stroke-width="2" stroke-opacity="0.55">Pulmón</text>
<text x="160.5" y="610" fill="#fff" stroke="#fff" stroke-width="2" stroke-opacity="0.55">Aurícula</text>
<text x="172.2" y="620.3" fill="#fff" stroke="#fff" stroke-width="2" stroke-opacity="0.55">izq.</text>
<text x="129.1" y="636" fill="#fff" stroke="#fff" stroke-width="2" stroke-opacity="0.55">Aurícula</text>
<text x="139.4" y="646.3" fill="#fff" stroke="#fff" stroke-width="2" stroke-opacity="0.55">der.</text>
<text x="175.6" y="637.4" fill="#fff" stroke="#fff" stroke-width="2" stroke-opacity="0.55">Ventrículo</text>
<text x="193.4" y="647.6" fill="#fff" stroke="#fff" stroke-width="2" stroke-opacity="0.55">izq.</text>
<text x="158.5" y="655.8" fill="#fff" stroke="#fff" stroke-width="2" stroke-opacity="0.55">Ventrículo</text>
<text x="172.2" y="666.8" fill="#fff" stroke="#fff" stroke-width="2" stroke-opacity="0.55">der.</text>
<text x="75" y="635.6" fill="#fff" stroke="#fff" stroke-width="2" stroke-opacity="0.55">Vena cava</text>
<text x="79" y="645.5" fill="#fff" stroke="#fff" stroke-width="2" stroke-opacity="0.55">superior</text>
<text x="250" y="642" fill="#fff" stroke="#fff" stroke-width="2" stroke-opacity="0.55">Venas</text>
<text x="249.6" y="653" fill="#fff" stroke="#fff" stroke-width="2" stroke-opacity="0.55">pulmonares</text>
<text x="249.6" y="662.5" fill="#fff" stroke="#fff" stroke-width="2" stroke-opacity="0.55">izquierdas</text>
<text x="93.5" y="669" fill="#fff" stroke="#fff" stroke-width="2" stroke-opacity="0.55">Vena</text>
<text x="93.5" y="679.6" fill="#fff" stroke="#fff" stroke-width="2" stroke-opacity="0.55">cava</text>
<text x="87.5" y="690.3" fill="#fff" stroke="#fff" stroke-width="2" stroke-opacity="0.55">inferior</text>
<text x="255.5" y="679" fill="#fff" stroke="#fff" stroke-width="2" stroke-opacity="0.55">Aorta</text>
<text x="254.6" y="691.9" fill="#fff" stroke="#fff" stroke-width="2" stroke-opacity="0.55">Arteria</text>
<text x="251.9" y="701.5" fill="#fff" stroke="#fff" stroke-width="2" stroke-opacity="0.55">hepática</text>
<text x="251" y="724.7" fill="#fff" stroke="#fff" stroke-width="2" stroke-opacity="0.55">Vena porta</text>
<text x="255.75" y="734.2" fill="#fff" stroke="#fff" stroke-width="2" stroke-opacity="0.55">hepática</text>
<text x="135.2" y="717.3" fill="#fff" stroke="#fff" stroke-width="2" stroke-opacity="0.55">Hígado</text>
<text x="158" y="777.4" fill="#fff" stroke="#fff" stroke-width="2" stroke-opacity="0.55">Intestino</text>
<text x="171" y="844.3" fill="#fff" stroke="#fff" stroke-width="2" stroke-opacity="0.55">Pelvis</text>
<text x="172" y="867.5" fill="#fff" stroke="#fff" stroke-width="2" stroke-opacity="0.55">Piernas</text>
<text x="157.7" y="505.5" stroke="#1a1a1a" stroke-width="0.35">Corazón</text>
<text x="161.4" y="539.4" stroke="#1a1a1a" stroke-width="0.35">Arterias</text>
<text x="153.5" y="549.5" stroke="#1a1a1a" stroke-width="0.35">pulmonares</text>
<text x="95.2" y="578" stroke="#1a1a1a" stroke-width="0.35">Pulmón</text>
<text x="235" y="571.1" stroke="#1a1a1a" stroke-width="0.35">Pulmón</text>
<text x="160.5" y="610" stroke="#1a1a1a" stroke-width="0.35">Aurícula</text>
<text x="172.2" y="620.3" stroke="#1a1a1a" stroke-width="0.35">izq.</text>
<text x="129.1" y="636" stroke="#1a1a1a" stroke-width="0.35">Aurícula</text>
<text x="139.4" y="646.3" stroke="#1a1a1a" stroke-width="0.35">der.</text>
<text x="175.6" y="637.4" stroke="#1a1a1a" stroke-width="0.35">Ventrículo</text>
<text x="193.4" y="647.6" stroke="#1a1a1a" stroke-width="0.35">izq.</text>
<text x="158.5" y="655.8" stroke="#1a1a1a" stroke-width="0.35">Ventrículo</text>
<text x="172.2" y="666.8" stroke="#1a1a1a" stroke-width="0.35">der.</text>
<text x="75" y="635.6" stroke="#1a1a1a" stroke-width="0.35">Vena cava</text>
<text x="79" y="645.5" stroke="#1a1a1a" stroke-width="0.35">superior</text>
<text x="250" y="642" stroke="#1a1a1a" stroke-width="0.35">Venas</text>
<text x="249.6" y="653" stroke="#1a1a1a" stroke-width="0.35">pulmonares</text>
<text x="249.6" y="662.5" stroke="#1a1a1a" stroke-width="0.35">izquierdas</text>
<text x="93.5" y="669" stroke="#1a1a1a" stroke-width="0.35">Vena</text>
<text x="93.5" y="679.6" stroke="#1a1a1a" stroke-width="0.35">cava</text>
<text x="87.5" y="690.3" stroke="#1a1a1a" stroke-width="0.35">inferior</text>
<text x="255.5" y="679" stroke="#1a1a1a" stroke-width="0.35">Aorta</text>
<text x="254.6" y="691.9" stroke="#1a1a1a" stroke-width="0.35">Arteria</text>
<text x="251.9" y="701.5" stroke="#1a1a1a" stroke-width="0.35">hepática</text>
<text x="251" y="724.7" stroke="#1a1a1a" stroke-width="0.35">Vena porta</text>
<text x="255.75" y="734.2" stroke="#1a1a1a" stroke-width="0.35">hepática</text>
<text x="135.2" y="717.3" stroke="#1a1a1a" stroke-width="0.35">Hígado</text>
<text x="158" y="777.4" stroke="#1a1a1a" stroke-width="0.35">Intestino</text>
<text x="171" y="844.3" stroke="#1a1a1a" stroke-width="0.35">Pelvis</text>
<text x="172" y="867.5" stroke="#1a1a1a" stroke-width="0.35">Piernas</text>
</g>
<line x1="62.5" y1="470" x2="62.5" y2="885.5" stroke="#2a2a2a" stroke-width="1.6"/><line x1="62" y1="470.5" x2="300" y2="470.5" stroke="#2a2a2a" stroke-width="1.6"/><line x1="299.5" y1="470" x2="299.5" y2="885.5" stroke="#b0b0b0" stroke-width="1.4"/><line x1="62" y1="884.8" x2="300" y2="884.8" stroke="#8c8c8c" stroke-width="1.6"/>
</g>
</svg>
</body></html>
